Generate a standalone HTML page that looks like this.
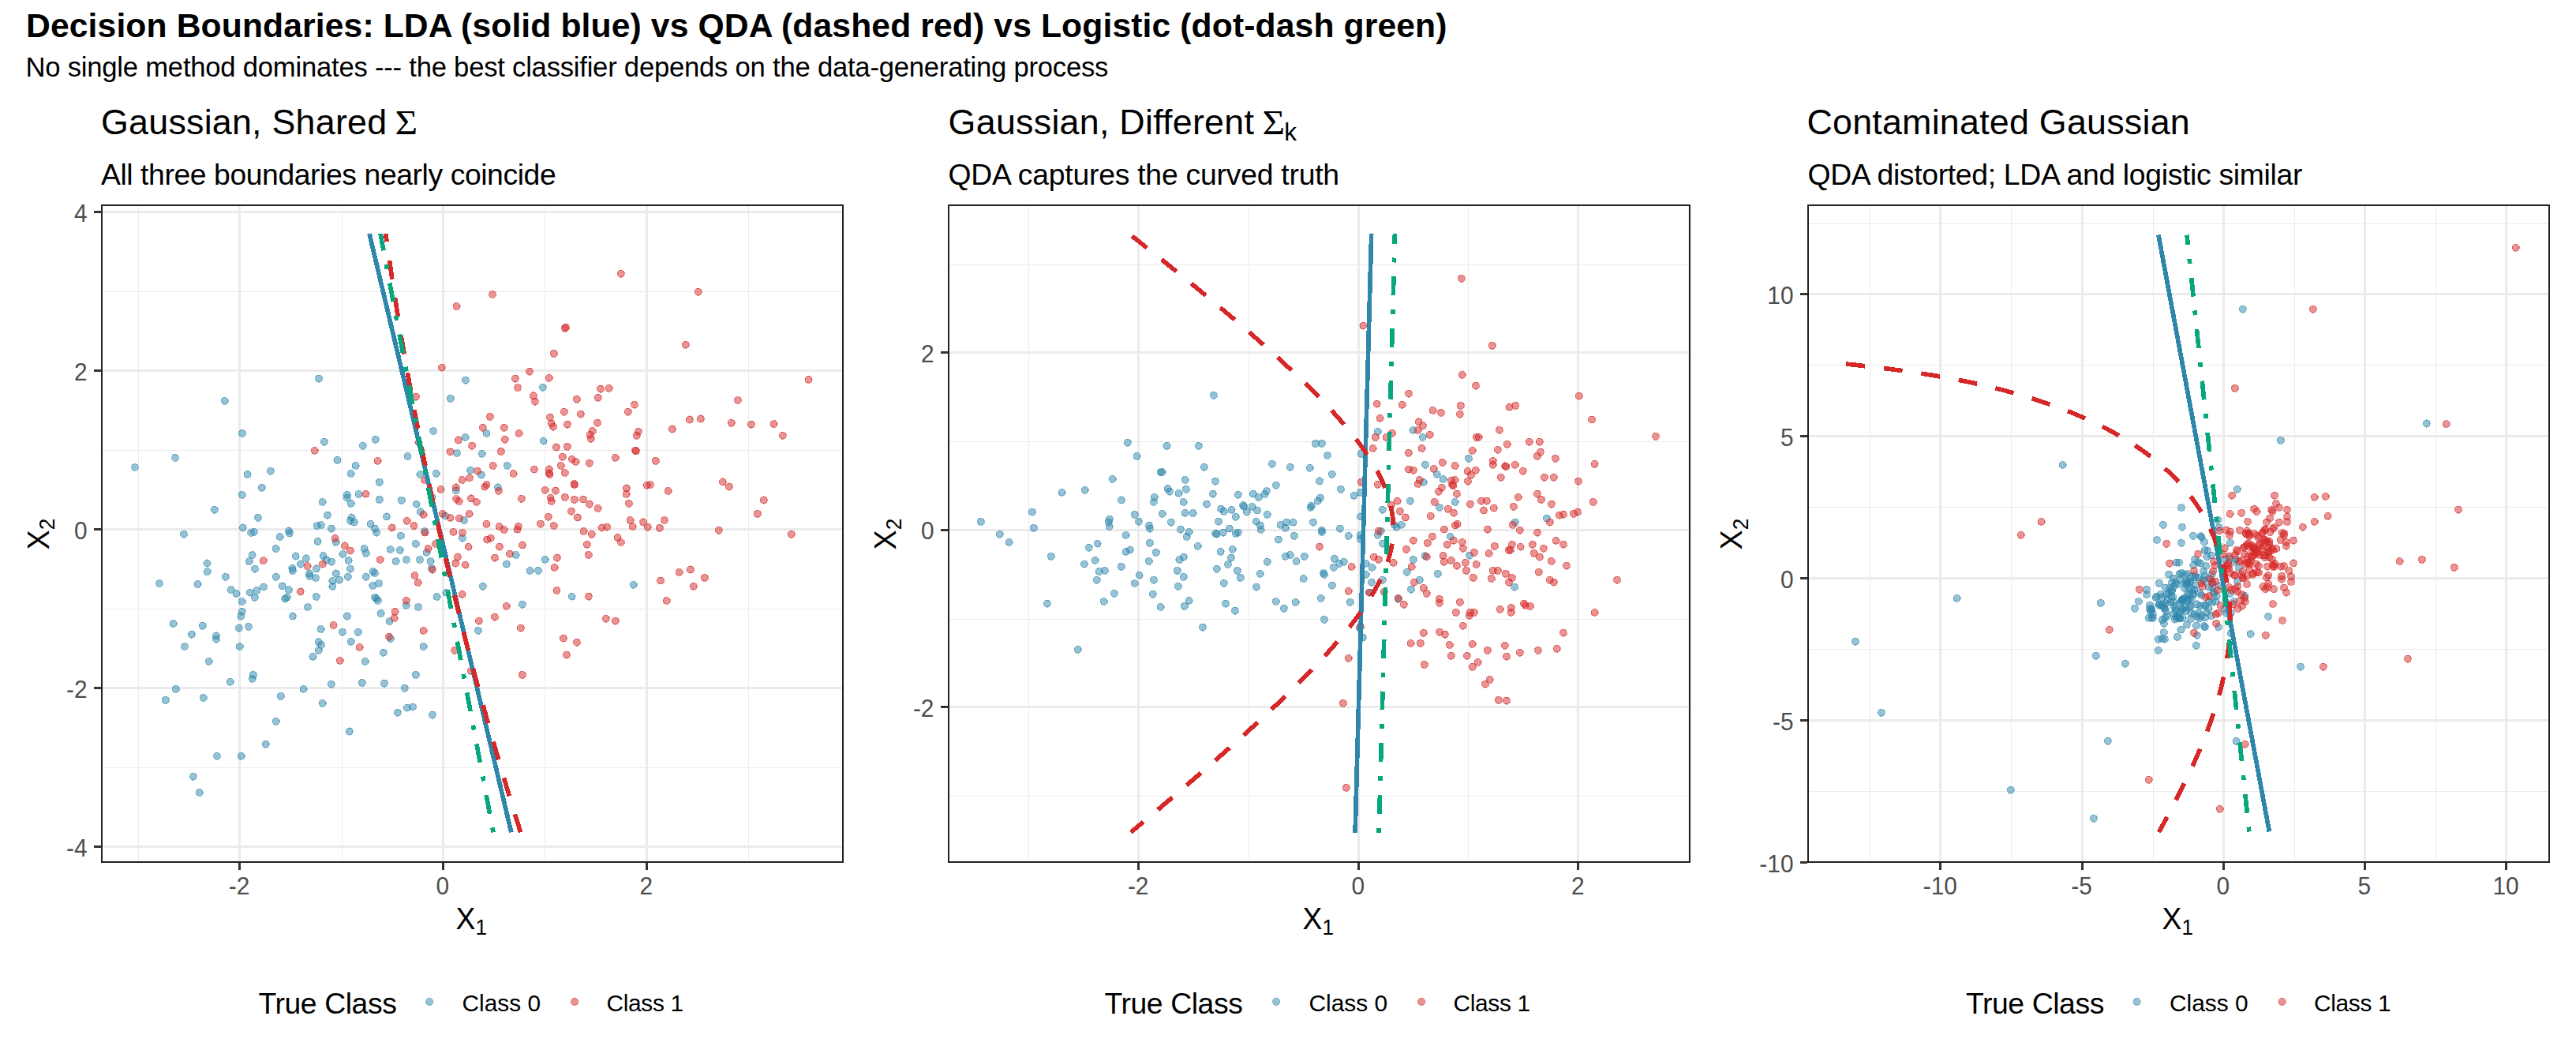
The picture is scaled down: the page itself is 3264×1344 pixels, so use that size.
<!DOCTYPE html><html><head><meta charset="utf-8"><title>Decision Boundaries</title><style>html,body{margin:0;padding:0;background:#fff}svg{display:block}text{font-family:'Liberation Sans', Arial, sans-serif}</style></head><body>
<svg width="3264" height="1344" viewBox="0 0 3264 1344">
<rect width="3264" height="1344" fill="#fff"/>
<text id="title" x="33" y="46.6" font-size="42.67" font-weight="bold" fill="#000" textLength="1800.5" lengthAdjust="spacing">Decision Boundaries: LDA (solid blue) vs QDA (dashed red) vs Logistic (dot-dash green)</text>
<text id="subtitle" x="32.5" y="96.9" font-size="34.67" fill="#000" textLength="1371.9" lengthAdjust="spacing">No single method dominates --- the best classifier depends on the data-generating process</text>
<text id="pt0" x="128" y="169.8" font-size="44.8" fill="#000" textLength="362.1" lengthAdjust="spacing">Gaussian, Shared</text>
<text id="sig0" transform="translate(500.5 169.8) scale(1.1 1)" font-size="44.8" style="font-family:'Liberation Serif','Times New Roman',serif">Σ</text>
<text id="ps0" x="127.9" y="234" font-size="37.33" fill="#000" textLength="576.8" lengthAdjust="spacing">All three boundaries nearly coincide</text>
<clipPath id="cp0"><rect x="128" y="259" width="941" height="834"/></clipPath>
<g clip-path="url(#cp0)">
<g fill="#EBEBEB" shape-rendering="crispEdges">
<rect x="175" y="259" width="1" height="834"/>
<rect x="433" y="259" width="1" height="834"/>
<rect x="690" y="259" width="1" height="834"/>
<rect x="948" y="259" width="1" height="834"/>
<rect x="128" y="972" width="941" height="1"/>
<rect x="128" y="771" width="941" height="1"/>
<rect x="128" y="570" width="941" height="1"/>
<rect x="128" y="369" width="941" height="1"/>
<rect x="302" y="259" width="3" height="834"/>
<rect x="560" y="259" width="3" height="834"/>
<rect x="818" y="259" width="3" height="834"/>
<rect x="128" y="1071" width="941" height="3"/>
<rect x="128" y="870" width="941" height="3"/>
<rect x="128" y="669" width="941" height="3"/>
<rect x="128" y="468" width="941" height="3"/>
<rect x="128" y="267" width="941" height="3"/>
</g>
<g stroke-width="1.2" shape-rendering="crispEdges">
<circle cx="284.8" cy="507.9" r="4.45" fill="#2E86AB" fill-opacity=".5" stroke="#2E86AB" stroke-opacity=".55"/>
<circle cx="404" cy="479.6" r="4.45" fill="#2E86AB" fill-opacity=".5" stroke="#2E86AB" stroke-opacity=".55"/>
<circle cx="589.9" cy="481.7" r="4.45" fill="#2E86AB" fill-opacity=".5" stroke="#2E86AB" stroke-opacity=".55"/>
<circle cx="570.8" cy="504.8" r="4.45" fill="#2E86AB" fill-opacity=".5" stroke="#2E86AB" stroke-opacity=".55"/>
<circle cx="687.8" cy="490.7" r="4.45" fill="#2E86AB" fill-opacity=".5" stroke="#2E86AB" stroke-opacity=".55"/>
<circle cx="306.8" cy="548.8" r="4.45" fill="#2E86AB" fill-opacity=".5" stroke="#2E86AB" stroke-opacity=".55"/>
<circle cx="170.9" cy="592" r="4.45" fill="#2E86AB" fill-opacity=".5" stroke="#2E86AB" stroke-opacity=".55"/>
<circle cx="222" cy="579.8" r="4.45" fill="#2E86AB" fill-opacity=".5" stroke="#2E86AB" stroke-opacity=".55"/>
<circle cx="313.6" cy="600.7" r="4.45" fill="#2E86AB" fill-opacity=".5" stroke="#2E86AB" stroke-opacity=".55"/>
<circle cx="342.8" cy="596.7" r="4.45" fill="#2E86AB" fill-opacity=".5" stroke="#2E86AB" stroke-opacity=".55"/>
<circle cx="331.7" cy="617.7" r="4.45" fill="#2E86AB" fill-opacity=".5" stroke="#2E86AB" stroke-opacity=".55"/>
<circle cx="306.8" cy="626.9" r="4.45" fill="#2E86AB" fill-opacity=".5" stroke="#2E86AB" stroke-opacity=".55"/>
<circle cx="271.8" cy="645.7" r="4.45" fill="#2E86AB" fill-opacity=".5" stroke="#2E86AB" stroke-opacity=".55"/>
<circle cx="326.9" cy="655.8" r="4.45" fill="#2E86AB" fill-opacity=".5" stroke="#2E86AB" stroke-opacity=".55"/>
<circle cx="307.6" cy="668.5" r="4.45" fill="#2E86AB" fill-opacity=".5" stroke="#2E86AB" stroke-opacity=".55"/>
<circle cx="318.1" cy="674.9" r="4.45" fill="#2E86AB" fill-opacity=".5" stroke="#2E86AB" stroke-opacity=".55"/>
<circle cx="321.9" cy="673.8" r="4.45" fill="#2E86AB" fill-opacity=".5" stroke="#2E86AB" stroke-opacity=".55"/>
<circle cx="232.9" cy="676.7" r="4.45" fill="#2E86AB" fill-opacity=".5" stroke="#2E86AB" stroke-opacity=".55"/>
<circle cx="365.8" cy="672.5" r="4.45" fill="#2E86AB" fill-opacity=".5" stroke="#2E86AB" stroke-opacity=".55"/>
<circle cx="366.9" cy="675.4" r="4.45" fill="#2E86AB" fill-opacity=".5" stroke="#2E86AB" stroke-opacity=".55"/>
<circle cx="354.7" cy="679.9" r="4.45" fill="#2E86AB" fill-opacity=".5" stroke="#2E86AB" stroke-opacity=".55"/>
<circle cx="349.7" cy="695" r="4.45" fill="#2E86AB" fill-opacity=".5" stroke="#2E86AB" stroke-opacity=".55"/>
<circle cx="319.7" cy="703.2" r="4.45" fill="#2E86AB" fill-opacity=".5" stroke="#2E86AB" stroke-opacity=".55"/>
<circle cx="315.8" cy="711.1" r="4.45" fill="#2E86AB" fill-opacity=".5" stroke="#2E86AB" stroke-opacity=".55"/>
<circle cx="322.9" cy="720.7" r="4.45" fill="#2E86AB" fill-opacity=".5" stroke="#2E86AB" stroke-opacity=".55"/>
<circle cx="262.5" cy="713.5" r="4.45" fill="#2E86AB" fill-opacity=".5" stroke="#2E86AB" stroke-opacity=".55"/>
<circle cx="262.8" cy="724.1" r="4.45" fill="#2E86AB" fill-opacity=".5" stroke="#2E86AB" stroke-opacity=".55"/>
<circle cx="285.8" cy="730.7" r="4.45" fill="#2E86AB" fill-opacity=".5" stroke="#2E86AB" stroke-opacity=".55"/>
<circle cx="201.9" cy="739" r="4.45" fill="#2E86AB" fill-opacity=".5" stroke="#2E86AB" stroke-opacity=".55"/>
<circle cx="250.6" cy="740" r="4.45" fill="#2E86AB" fill-opacity=".5" stroke="#2E86AB" stroke-opacity=".55"/>
<circle cx="292.7" cy="747.2" r="4.45" fill="#2E86AB" fill-opacity=".5" stroke="#2E86AB" stroke-opacity=".55"/>
<circle cx="299.6" cy="751.7" r="4.45" fill="#2E86AB" fill-opacity=".5" stroke="#2E86AB" stroke-opacity=".55"/>
<circle cx="316.6" cy="750.6" r="4.45" fill="#2E86AB" fill-opacity=".5" stroke="#2E86AB" stroke-opacity=".55"/>
<circle cx="325.3" cy="748" r="4.45" fill="#2E86AB" fill-opacity=".5" stroke="#2E86AB" stroke-opacity=".55"/>
<circle cx="334" cy="743.5" r="4.45" fill="#2E86AB" fill-opacity=".5" stroke="#2E86AB" stroke-opacity=".55"/>
<circle cx="322.7" cy="756.7" r="4.45" fill="#2E86AB" fill-opacity=".5" stroke="#2E86AB" stroke-opacity=".55"/>
<circle cx="306.8" cy="762" r="4.45" fill="#2E86AB" fill-opacity=".5" stroke="#2E86AB" stroke-opacity=".55"/>
<circle cx="306.8" cy="774.7" r="4.45" fill="#2E86AB" fill-opacity=".5" stroke="#2E86AB" stroke-opacity=".55"/>
<circle cx="305.4" cy="780.5" r="4.45" fill="#2E86AB" fill-opacity=".5" stroke="#2E86AB" stroke-opacity=".55"/>
<circle cx="302.8" cy="795.6" r="4.45" fill="#2E86AB" fill-opacity=".5" stroke="#2E86AB" stroke-opacity=".55"/>
<circle cx="315" cy="793.8" r="4.45" fill="#2E86AB" fill-opacity=".5" stroke="#2E86AB" stroke-opacity=".55"/>
<circle cx="219.6" cy="789.8" r="4.45" fill="#2E86AB" fill-opacity=".5" stroke="#2E86AB" stroke-opacity=".55"/>
<circle cx="256.7" cy="792.7" r="4.45" fill="#2E86AB" fill-opacity=".5" stroke="#2E86AB" stroke-opacity=".55"/>
<circle cx="242.7" cy="803.6" r="4.45" fill="#2E86AB" fill-opacity=".5" stroke="#2E86AB" stroke-opacity=".55"/>
<circle cx="273.9" cy="805.4" r="4.45" fill="#2E86AB" fill-opacity=".5" stroke="#2E86AB" stroke-opacity=".55"/>
<circle cx="410.8" cy="559.7" r="4.45" fill="#2E86AB" fill-opacity=".5" stroke="#2E86AB" stroke-opacity=".55"/>
<circle cx="427.5" cy="582.7" r="4.45" fill="#2E86AB" fill-opacity=".5" stroke="#2E86AB" stroke-opacity=".55"/>
<circle cx="450.6" cy="589.9" r="4.45" fill="#2E86AB" fill-opacity=".5" stroke="#2E86AB" stroke-opacity=".55"/>
<circle cx="444.7" cy="599.9" r="4.45" fill="#2E86AB" fill-opacity=".5" stroke="#2E86AB" stroke-opacity=".55"/>
<circle cx="459.8" cy="564.7" r="4.45" fill="#2E86AB" fill-opacity=".5" stroke="#2E86AB" stroke-opacity=".55"/>
<circle cx="475.7" cy="556.7" r="4.45" fill="#2E86AB" fill-opacity=".5" stroke="#2E86AB" stroke-opacity=".55"/>
<circle cx="480.8" cy="610.8" r="4.45" fill="#2E86AB" fill-opacity=".5" stroke="#2E86AB" stroke-opacity=".55"/>
<circle cx="439.7" cy="626.7" r="4.45" fill="#2E86AB" fill-opacity=".5" stroke="#2E86AB" stroke-opacity=".55"/>
<circle cx="439.7" cy="630.6" r="4.45" fill="#2E86AB" fill-opacity=".5" stroke="#2E86AB" stroke-opacity=".55"/>
<circle cx="454.5" cy="625.9" r="4.45" fill="#2E86AB" fill-opacity=".5" stroke="#2E86AB" stroke-opacity=".55"/>
<circle cx="444.7" cy="637.8" r="4.45" fill="#2E86AB" fill-opacity=".5" stroke="#2E86AB" stroke-opacity=".55"/>
<circle cx="408.7" cy="635.9" r="4.45" fill="#2E86AB" fill-opacity=".5" stroke="#2E86AB" stroke-opacity=".55"/>
<circle cx="480.8" cy="632.8" r="4.45" fill="#2E86AB" fill-opacity=".5" stroke="#2E86AB" stroke-opacity=".55"/>
<circle cx="508.8" cy="633.8" r="4.45" fill="#2E86AB" fill-opacity=".5" stroke="#2E86AB" stroke-opacity=".55"/>
<circle cx="414.8" cy="652.6" r="4.45" fill="#2E86AB" fill-opacity=".5" stroke="#2E86AB" stroke-opacity=".55"/>
<circle cx="445.5" cy="655.5" r="4.45" fill="#2E86AB" fill-opacity=".5" stroke="#2E86AB" stroke-opacity=".55"/>
<circle cx="443.9" cy="659.8" r="4.45" fill="#2E86AB" fill-opacity=".5" stroke="#2E86AB" stroke-opacity=".55"/>
<circle cx="448.7" cy="661.6" r="4.45" fill="#2E86AB" fill-opacity=".5" stroke="#2E86AB" stroke-opacity=".55"/>
<circle cx="401.6" cy="666.1" r="4.45" fill="#2E86AB" fill-opacity=".5" stroke="#2E86AB" stroke-opacity=".55"/>
<circle cx="406.9" cy="665.1" r="4.45" fill="#2E86AB" fill-opacity=".5" stroke="#2E86AB" stroke-opacity=".55"/>
<circle cx="419.8" cy="669.6" r="4.45" fill="#2E86AB" fill-opacity=".5" stroke="#2E86AB" stroke-opacity=".55"/>
<circle cx="469.6" cy="663.7" r="4.45" fill="#2E86AB" fill-opacity=".5" stroke="#2E86AB" stroke-opacity=".55"/>
<circle cx="474.9" cy="669.6" r="4.45" fill="#2E86AB" fill-opacity=".5" stroke="#2E86AB" stroke-opacity=".55"/>
<circle cx="477" cy="674.6" r="4.45" fill="#2E86AB" fill-opacity=".5" stroke="#2E86AB" stroke-opacity=".55"/>
<circle cx="489.8" cy="654.5" r="4.45" fill="#2E86AB" fill-opacity=".5" stroke="#2E86AB" stroke-opacity=".55"/>
<circle cx="402.6" cy="685.7" r="4.45" fill="#2E86AB" fill-opacity=".5" stroke="#2E86AB" stroke-opacity=".55"/>
<circle cx="425.7" cy="686.8" r="4.45" fill="#2E86AB" fill-opacity=".5" stroke="#2E86AB" stroke-opacity=".55"/>
<circle cx="461.7" cy="695" r="4.45" fill="#2E86AB" fill-opacity=".5" stroke="#2E86AB" stroke-opacity=".55"/>
<circle cx="463.8" cy="700.8" r="4.45" fill="#2E86AB" fill-opacity=".5" stroke="#2E86AB" stroke-opacity=".55"/>
<circle cx="434.4" cy="701.9" r="4.45" fill="#2E86AB" fill-opacity=".5" stroke="#2E86AB" stroke-opacity=".55"/>
<circle cx="441.6" cy="710.1" r="4.45" fill="#2E86AB" fill-opacity=".5" stroke="#2E86AB" stroke-opacity=".55"/>
<circle cx="409.5" cy="704" r="4.45" fill="#2E86AB" fill-opacity=".5" stroke="#2E86AB" stroke-opacity=".55"/>
<circle cx="413.5" cy="709.3" r="4.45" fill="#2E86AB" fill-opacity=".5" stroke="#2E86AB" stroke-opacity=".55"/>
<circle cx="420.1" cy="711.7" r="4.45" fill="#2E86AB" fill-opacity=".5" stroke="#2E86AB" stroke-opacity=".55"/>
<circle cx="374.6" cy="704.5" r="4.45" fill="#2E86AB" fill-opacity=".5" stroke="#2E86AB" stroke-opacity=".55"/>
<circle cx="387.8" cy="707.4" r="4.45" fill="#2E86AB" fill-opacity=".5" stroke="#2E86AB" stroke-opacity=".55"/>
<circle cx="380.9" cy="714.6" r="4.45" fill="#2E86AB" fill-opacity=".5" stroke="#2E86AB" stroke-opacity=".55"/>
<circle cx="370.3" cy="719.9" r="4.45" fill="#2E86AB" fill-opacity=".5" stroke="#2E86AB" stroke-opacity=".55"/>
<circle cx="370.8" cy="722.8" r="4.45" fill="#2E86AB" fill-opacity=".5" stroke="#2E86AB" stroke-opacity=".55"/>
<circle cx="400.8" cy="720.4" r="4.45" fill="#2E86AB" fill-opacity=".5" stroke="#2E86AB" stroke-opacity=".55"/>
<circle cx="443.9" cy="720.7" r="4.45" fill="#2E86AB" fill-opacity=".5" stroke="#2E86AB" stroke-opacity=".55"/>
<circle cx="425.7" cy="726.5" r="4.45" fill="#2E86AB" fill-opacity=".5" stroke="#2E86AB" stroke-opacity=".55"/>
<circle cx="392.3" cy="726.5" r="4.45" fill="#2E86AB" fill-opacity=".5" stroke="#2E86AB" stroke-opacity=".55"/>
<circle cx="392.3" cy="729.9" r="4.45" fill="#2E86AB" fill-opacity=".5" stroke="#2E86AB" stroke-opacity=".55"/>
<circle cx="400" cy="732.1" r="4.45" fill="#2E86AB" fill-opacity=".5" stroke="#2E86AB" stroke-opacity=".55"/>
<circle cx="421.4" cy="735.8" r="4.45" fill="#2E86AB" fill-opacity=".5" stroke="#2E86AB" stroke-opacity=".55"/>
<circle cx="430.2" cy="734.7" r="4.45" fill="#2E86AB" fill-opacity=".5" stroke="#2E86AB" stroke-opacity=".55"/>
<circle cx="440.8" cy="730.7" r="4.45" fill="#2E86AB" fill-opacity=".5" stroke="#2E86AB" stroke-opacity=".55"/>
<circle cx="421.4" cy="742.7" r="4.45" fill="#2E86AB" fill-opacity=".5" stroke="#2E86AB" stroke-opacity=".55"/>
<circle cx="349.7" cy="730.7" r="4.45" fill="#2E86AB" fill-opacity=".5" stroke="#2E86AB" stroke-opacity=".55"/>
<circle cx="357.6" cy="742.4" r="4.45" fill="#2E86AB" fill-opacity=".5" stroke="#2E86AB" stroke-opacity=".55"/>
<circle cx="365.8" cy="747.2" r="4.45" fill="#2E86AB" fill-opacity=".5" stroke="#2E86AB" stroke-opacity=".55"/>
<circle cx="363.7" cy="756.7" r="4.45" fill="#2E86AB" fill-opacity=".5" stroke="#2E86AB" stroke-opacity=".55"/>
<circle cx="361.3" cy="758.5" r="4.45" fill="#2E86AB" fill-opacity=".5" stroke="#2E86AB" stroke-opacity=".55"/>
<circle cx="400.8" cy="755.9" r="4.45" fill="#2E86AB" fill-opacity=".5" stroke="#2E86AB" stroke-opacity=".55"/>
<circle cx="389.9" cy="768.9" r="4.45" fill="#2E86AB" fill-opacity=".5" stroke="#2E86AB" stroke-opacity=".55"/>
<circle cx="370.8" cy="780.5" r="4.45" fill="#2E86AB" fill-opacity=".5" stroke="#2E86AB" stroke-opacity=".55"/>
<circle cx="406.6" cy="796.9" r="4.45" fill="#2E86AB" fill-opacity=".5" stroke="#2E86AB" stroke-opacity=".55"/>
<circle cx="433.9" cy="800.7" r="4.45" fill="#2E86AB" fill-opacity=".5" stroke="#2E86AB" stroke-opacity=".55"/>
<circle cx="439.7" cy="780.5" r="4.45" fill="#2E86AB" fill-opacity=".5" stroke="#2E86AB" stroke-opacity=".55"/>
<circle cx="453.7" cy="800.7" r="4.45" fill="#2E86AB" fill-opacity=".5" stroke="#2E86AB" stroke-opacity=".55"/>
<circle cx="463.8" cy="730.7" r="4.45" fill="#2E86AB" fill-opacity=".5" stroke="#2E86AB" stroke-opacity=".55"/>
<circle cx="472.5" cy="724.1" r="4.45" fill="#2E86AB" fill-opacity=".5" stroke="#2E86AB" stroke-opacity=".55"/>
<circle cx="474.9" cy="726" r="4.45" fill="#2E86AB" fill-opacity=".5" stroke="#2E86AB" stroke-opacity=".55"/>
<circle cx="472.3" cy="741.9" r="4.45" fill="#2E86AB" fill-opacity=".5" stroke="#2E86AB" stroke-opacity=".55"/>
<circle cx="480" cy="739" r="4.45" fill="#2E86AB" fill-opacity=".5" stroke="#2E86AB" stroke-opacity=".55"/>
<circle cx="474.9" cy="756.7" r="4.45" fill="#2E86AB" fill-opacity=".5" stroke="#2E86AB" stroke-opacity=".55"/>
<circle cx="477" cy="758.3" r="4.45" fill="#2E86AB" fill-opacity=".5" stroke="#2E86AB" stroke-opacity=".55"/>
<circle cx="478.9" cy="760.9" r="4.45" fill="#2E86AB" fill-opacity=".5" stroke="#2E86AB" stroke-opacity=".55"/>
<circle cx="482.6" cy="777.1" r="4.45" fill="#2E86AB" fill-opacity=".5" stroke="#2E86AB" stroke-opacity=".55"/>
<circle cx="493.5" cy="786.9" r="4.45" fill="#2E86AB" fill-opacity=".5" stroke="#2E86AB" stroke-opacity=".55"/>
<circle cx="494.8" cy="696" r="4.45" fill="#2E86AB" fill-opacity=".5" stroke="#2E86AB" stroke-opacity=".55"/>
<circle cx="506.7" cy="696.8" r="4.45" fill="#2E86AB" fill-opacity=".5" stroke="#2E86AB" stroke-opacity=".55"/>
<circle cx="507.8" cy="678.8" r="4.45" fill="#2E86AB" fill-opacity=".5" stroke="#2E86AB" stroke-opacity=".55"/>
<circle cx="501.7" cy="711.1" r="4.45" fill="#2E86AB" fill-opacity=".5" stroke="#2E86AB" stroke-opacity=".55"/>
<circle cx="514.9" cy="709" r="4.45" fill="#2E86AB" fill-opacity=".5" stroke="#2E86AB" stroke-opacity=".55"/>
<circle cx="526.8" cy="688.9" r="4.45" fill="#2E86AB" fill-opacity=".5" stroke="#2E86AB" stroke-opacity=".55"/>
<circle cx="531.9" cy="709" r="4.45" fill="#2E86AB" fill-opacity=".5" stroke="#2E86AB" stroke-opacity=".55"/>
<circle cx="540.6" cy="699.8" r="4.45" fill="#2E86AB" fill-opacity=".5" stroke="#2E86AB" stroke-opacity=".55"/>
<circle cx="545.6" cy="711.1" r="4.45" fill="#2E86AB" fill-opacity=".5" stroke="#2E86AB" stroke-opacity=".55"/>
<circle cx="547" cy="719.9" r="4.45" fill="#2E86AB" fill-opacity=".5" stroke="#2E86AB" stroke-opacity=".55"/>
<circle cx="538" cy="673" r="4.45" fill="#2E86AB" fill-opacity=".5" stroke="#2E86AB" stroke-opacity=".55"/>
<circle cx="532.7" cy="648.4" r="4.45" fill="#2E86AB" fill-opacity=".5" stroke="#2E86AB" stroke-opacity=".55"/>
<circle cx="527.6" cy="638.6" r="4.45" fill="#2E86AB" fill-opacity=".5" stroke="#2E86AB" stroke-opacity=".55"/>
<circle cx="532.4" cy="601" r="4.45" fill="#2E86AB" fill-opacity=".5" stroke="#2E86AB" stroke-opacity=".55"/>
<circle cx="516.5" cy="577.9" r="4.45" fill="#2E86AB" fill-opacity=".5" stroke="#2E86AB" stroke-opacity=".55"/>
<circle cx="549.1" cy="545.9" r="4.45" fill="#2E86AB" fill-opacity=".5" stroke="#2E86AB" stroke-opacity=".55"/>
<circle cx="552.8" cy="599.9" r="4.45" fill="#2E86AB" fill-opacity=".5" stroke="#2E86AB" stroke-opacity=".55"/>
<circle cx="589.6" cy="553.8" r="4.45" fill="#2E86AB" fill-opacity=".5" stroke="#2E86AB" stroke-opacity=".55"/>
<circle cx="579" cy="574" r="4.45" fill="#2E86AB" fill-opacity=".5" stroke="#2E86AB" stroke-opacity=".55"/>
<circle cx="596.2" cy="595.7" r="4.45" fill="#2E86AB" fill-opacity=".5" stroke="#2E86AB" stroke-opacity=".55"/>
<circle cx="577.7" cy="621.4" r="4.45" fill="#2E86AB" fill-opacity=".5" stroke="#2E86AB" stroke-opacity=".55"/>
<circle cx="547.5" cy="629.6" r="4.45" fill="#2E86AB" fill-opacity=".5" stroke="#2E86AB" stroke-opacity=".55"/>
<circle cx="564.4" cy="653.4" r="4.45" fill="#2E86AB" fill-opacity=".5" stroke="#2E86AB" stroke-opacity=".55"/>
<circle cx="588" cy="659" r="4.45" fill="#2E86AB" fill-opacity=".5" stroke="#2E86AB" stroke-opacity=".55"/>
<circle cx="585.9" cy="681.7" r="4.45" fill="#2E86AB" fill-opacity=".5" stroke="#2E86AB" stroke-opacity=".55"/>
<circle cx="514.7" cy="766.8" r="4.45" fill="#2E86AB" fill-opacity=".5" stroke="#2E86AB" stroke-opacity=".55"/>
<circle cx="530" cy="768.9" r="4.45" fill="#2E86AB" fill-opacity=".5" stroke="#2E86AB" stroke-opacity=".55"/>
<circle cx="553.6" cy="755.9" r="4.45" fill="#2E86AB" fill-opacity=".5" stroke="#2E86AB" stroke-opacity=".55"/>
<circle cx="565.5" cy="750.6" r="4.45" fill="#2E86AB" fill-opacity=".5" stroke="#2E86AB" stroke-opacity=".55"/>
<circle cx="616.5" cy="548.8" r="4.45" fill="#2E86AB" fill-opacity=".5" stroke="#2E86AB" stroke-opacity=".55"/>
<circle cx="688.6" cy="558.6" r="4.45" fill="#2E86AB" fill-opacity=".5" stroke="#2E86AB" stroke-opacity=".55"/>
<circle cx="610.7" cy="574.8" r="4.45" fill="#2E86AB" fill-opacity=".5" stroke="#2E86AB" stroke-opacity=".55"/>
<circle cx="642.8" cy="589.9" r="4.45" fill="#2E86AB" fill-opacity=".5" stroke="#2E86AB" stroke-opacity=".55"/>
<circle cx="609.7" cy="601.5" r="4.45" fill="#2E86AB" fill-opacity=".5" stroke="#2E86AB" stroke-opacity=".55"/>
<circle cx="630.8" cy="617.4" r="4.45" fill="#2E86AB" fill-opacity=".5" stroke="#2E86AB" stroke-opacity=".55"/>
<circle cx="653.6" cy="702.9" r="4.45" fill="#2E86AB" fill-opacity=".5" stroke="#2E86AB" stroke-opacity=".55"/>
<circle cx="641.7" cy="714.6" r="4.45" fill="#2E86AB" fill-opacity=".5" stroke="#2E86AB" stroke-opacity=".55"/>
<circle cx="690.7" cy="708.8" r="4.45" fill="#2E86AB" fill-opacity=".5" stroke="#2E86AB" stroke-opacity=".55"/>
<circle cx="671.6" cy="722.8" r="4.45" fill="#2E86AB" fill-opacity=".5" stroke="#2E86AB" stroke-opacity=".55"/>
<circle cx="682" cy="722.8" r="4.45" fill="#2E86AB" fill-opacity=".5" stroke="#2E86AB" stroke-opacity=".55"/>
<circle cx="611.8" cy="742.7" r="4.45" fill="#2E86AB" fill-opacity=".5" stroke="#2E86AB" stroke-opacity=".55"/>
<circle cx="724.6" cy="755.6" r="4.45" fill="#2E86AB" fill-opacity=".5" stroke="#2E86AB" stroke-opacity=".55"/>
<circle cx="802.7" cy="740.8" r="4.45" fill="#2E86AB" fill-opacity=".5" stroke="#2E86AB" stroke-opacity=".55"/>
<circle cx="661.8" cy="765.7" r="4.45" fill="#2E86AB" fill-opacity=".5" stroke="#2E86AB" stroke-opacity=".55"/>
<circle cx="605.9" cy="798.8" r="4.45" fill="#2E86AB" fill-opacity=".5" stroke="#2E86AB" stroke-opacity=".55"/>
<circle cx="273.9" cy="809.7" r="4.45" fill="#2E86AB" fill-opacity=".5" stroke="#2E86AB" stroke-opacity=".55"/>
<circle cx="233.9" cy="819" r="4.45" fill="#2E86AB" fill-opacity=".5" stroke="#2E86AB" stroke-opacity=".55"/>
<circle cx="303.8" cy="819" r="4.45" fill="#2E86AB" fill-opacity=".5" stroke="#2E86AB" stroke-opacity=".55"/>
<circle cx="264.7" cy="837.8" r="4.45" fill="#2E86AB" fill-opacity=".5" stroke="#2E86AB" stroke-opacity=".55"/>
<circle cx="291.7" cy="863.8" r="4.45" fill="#2E86AB" fill-opacity=".5" stroke="#2E86AB" stroke-opacity=".55"/>
<circle cx="320.8" cy="854.8" r="4.45" fill="#2E86AB" fill-opacity=".5" stroke="#2E86AB" stroke-opacity=".55"/>
<circle cx="319.7" cy="859.8" r="4.45" fill="#2E86AB" fill-opacity=".5" stroke="#2E86AB" stroke-opacity=".55"/>
<circle cx="222.8" cy="872.8" r="4.45" fill="#2E86AB" fill-opacity=".5" stroke="#2E86AB" stroke-opacity=".55"/>
<circle cx="209.8" cy="886.8" r="4.45" fill="#2E86AB" fill-opacity=".5" stroke="#2E86AB" stroke-opacity=".55"/>
<circle cx="257.8" cy="883.9" r="4.45" fill="#2E86AB" fill-opacity=".5" stroke="#2E86AB" stroke-opacity=".55"/>
<circle cx="355.8" cy="881.8" r="4.45" fill="#2E86AB" fill-opacity=".5" stroke="#2E86AB" stroke-opacity=".55"/>
<circle cx="384.6" cy="872.8" r="4.45" fill="#2E86AB" fill-opacity=".5" stroke="#2E86AB" stroke-opacity=".55"/>
<circle cx="419.8" cy="866.7" r="4.45" fill="#2E86AB" fill-opacity=".5" stroke="#2E86AB" stroke-opacity=".55"/>
<circle cx="408.7" cy="890.8" r="4.45" fill="#2E86AB" fill-opacity=".5" stroke="#2E86AB" stroke-opacity=".55"/>
<circle cx="349.7" cy="913.8" r="4.45" fill="#2E86AB" fill-opacity=".5" stroke="#2E86AB" stroke-opacity=".55"/>
<circle cx="336.7" cy="942.7" r="4.45" fill="#2E86AB" fill-opacity=".5" stroke="#2E86AB" stroke-opacity=".55"/>
<circle cx="275" cy="957.8" r="4.45" fill="#2E86AB" fill-opacity=".5" stroke="#2E86AB" stroke-opacity=".55"/>
<circle cx="305.7" cy="957.8" r="4.45" fill="#2E86AB" fill-opacity=".5" stroke="#2E86AB" stroke-opacity=".55"/>
<circle cx="244.8" cy="983.7" r="4.45" fill="#2E86AB" fill-opacity=".5" stroke="#2E86AB" stroke-opacity=".55"/>
<circle cx="252.7" cy="1003.9" r="4.45" fill="#2E86AB" fill-opacity=".5" stroke="#2E86AB" stroke-opacity=".55"/>
<circle cx="442.6" cy="926.5" r="4.45" fill="#2E86AB" fill-opacity=".5" stroke="#2E86AB" stroke-opacity=".55"/>
<circle cx="403.7" cy="813.2" r="4.45" fill="#2E86AB" fill-opacity=".5" stroke="#2E86AB" stroke-opacity=".55"/>
<circle cx="406.9" cy="816.9" r="4.45" fill="#2E86AB" fill-opacity=".5" stroke="#2E86AB" stroke-opacity=".55"/>
<circle cx="403.7" cy="823.8" r="4.45" fill="#2E86AB" fill-opacity=".5" stroke="#2E86AB" stroke-opacity=".55"/>
<circle cx="396.5" cy="831.7" r="4.45" fill="#2E86AB" fill-opacity=".5" stroke="#2E86AB" stroke-opacity=".55"/>
<circle cx="444.7" cy="812.7" r="4.45" fill="#2E86AB" fill-opacity=".5" stroke="#2E86AB" stroke-opacity=".55"/>
<circle cx="462.7" cy="837.8" r="4.45" fill="#2E86AB" fill-opacity=".5" stroke="#2E86AB" stroke-opacity=".55"/>
<circle cx="485.8" cy="826.7" r="4.45" fill="#2E86AB" fill-opacity=".5" stroke="#2E86AB" stroke-opacity=".55"/>
<circle cx="494.8" cy="808.9" r="4.45" fill="#2E86AB" fill-opacity=".5" stroke="#2E86AB" stroke-opacity=".55"/>
<circle cx="536.6" cy="819" r="4.45" fill="#2E86AB" fill-opacity=".5" stroke="#2E86AB" stroke-opacity=".55"/>
<circle cx="526.8" cy="854.8" r="4.45" fill="#2E86AB" fill-opacity=".5" stroke="#2E86AB" stroke-opacity=".55"/>
<circle cx="458.8" cy="864.8" r="4.45" fill="#2E86AB" fill-opacity=".5" stroke="#2E86AB" stroke-opacity=".55"/>
<circle cx="486.8" cy="865.6" r="4.45" fill="#2E86AB" fill-opacity=".5" stroke="#2E86AB" stroke-opacity=".55"/>
<circle cx="512.8" cy="871.7" r="4.45" fill="#2E86AB" fill-opacity=".5" stroke="#2E86AB" stroke-opacity=".55"/>
<circle cx="503.8" cy="902.7" r="4.45" fill="#2E86AB" fill-opacity=".5" stroke="#2E86AB" stroke-opacity=".55"/>
<circle cx="515.7" cy="896.6" r="4.45" fill="#2E86AB" fill-opacity=".5" stroke="#2E86AB" stroke-opacity=".55"/>
<circle cx="522.9" cy="895.5" r="4.45" fill="#2E86AB" fill-opacity=".5" stroke="#2E86AB" stroke-opacity=".55"/>
<circle cx="547.8" cy="905.6" r="4.45" fill="#2E86AB" fill-opacity=".5" stroke="#2E86AB" stroke-opacity=".55"/>
<circle cx="578.7" cy="388" r="4.45" fill="#D62828" fill-opacity=".5" stroke="#D62828" stroke-opacity=".55"/>
<circle cx="559.7" cy="465.6" r="4.45" fill="#D62828" fill-opacity=".5" stroke="#D62828" stroke-opacity=".55"/>
<circle cx="527.1" cy="502.6" r="4.45" fill="#D62828" fill-opacity=".5" stroke="#D62828" stroke-opacity=".55"/>
<circle cx="786.8" cy="346.7" r="4.45" fill="#D62828" fill-opacity=".5" stroke="#D62828" stroke-opacity=".55"/>
<circle cx="624" cy="372.9" r="4.45" fill="#D62828" fill-opacity=".5" stroke="#D62828" stroke-opacity=".55"/>
<circle cx="884.8" cy="369.7" r="4.45" fill="#D62828" fill-opacity=".5" stroke="#D62828" stroke-opacity=".55"/>
<circle cx="715.8" cy="415.8" r="4.45" fill="#D62828" fill-opacity=".5" stroke="#D62828" stroke-opacity=".55"/>
<circle cx="716.9" cy="414.7" r="4.45" fill="#D62828" fill-opacity=".5" stroke="#D62828" stroke-opacity=".55"/>
<circle cx="868.7" cy="436.7" r="4.45" fill="#D62828" fill-opacity=".5" stroke="#D62828" stroke-opacity=".55"/>
<circle cx="701.8" cy="447.8" r="4.45" fill="#D62828" fill-opacity=".5" stroke="#D62828" stroke-opacity=".55"/>
<circle cx="670.8" cy="470.6" r="4.45" fill="#D62828" fill-opacity=".5" stroke="#D62828" stroke-opacity=".55"/>
<circle cx="652.8" cy="479.6" r="4.45" fill="#D62828" fill-opacity=".5" stroke="#D62828" stroke-opacity=".55"/>
<circle cx="695.7" cy="478.8" r="4.45" fill="#D62828" fill-opacity=".5" stroke="#D62828" stroke-opacity=".55"/>
<circle cx="656" cy="491" r="4.45" fill="#D62828" fill-opacity=".5" stroke="#D62828" stroke-opacity=".55"/>
<circle cx="675.9" cy="501.3" r="4.45" fill="#D62828" fill-opacity=".5" stroke="#D62828" stroke-opacity=".55"/>
<circle cx="678" cy="508.7" r="4.45" fill="#D62828" fill-opacity=".5" stroke="#D62828" stroke-opacity=".55"/>
<circle cx="760.9" cy="492.6" r="4.45" fill="#D62828" fill-opacity=".5" stroke="#D62828" stroke-opacity=".55"/>
<circle cx="771.7" cy="491.8" r="4.45" fill="#D62828" fill-opacity=".5" stroke="#D62828" stroke-opacity=".55"/>
<circle cx="757.7" cy="503.7" r="4.45" fill="#D62828" fill-opacity=".5" stroke="#D62828" stroke-opacity=".55"/>
<circle cx="730.9" cy="505.8" r="4.45" fill="#D62828" fill-opacity=".5" stroke="#D62828" stroke-opacity=".55"/>
<circle cx="804" cy="512.7" r="4.45" fill="#D62828" fill-opacity=".5" stroke="#D62828" stroke-opacity=".55"/>
<circle cx="795.8" cy="521.7" r="4.45" fill="#D62828" fill-opacity=".5" stroke="#D62828" stroke-opacity=".55"/>
<circle cx="714.8" cy="521.7" r="4.45" fill="#D62828" fill-opacity=".5" stroke="#D62828" stroke-opacity=".55"/>
<circle cx="735.7" cy="524.6" r="4.45" fill="#D62828" fill-opacity=".5" stroke="#D62828" stroke-opacity=".55"/>
<circle cx="696.8" cy="528.6" r="4.45" fill="#D62828" fill-opacity=".5" stroke="#D62828" stroke-opacity=".55"/>
<circle cx="620.8" cy="527.8" r="4.45" fill="#D62828" fill-opacity=".5" stroke="#D62828" stroke-opacity=".55"/>
<circle cx="698.6" cy="536.5" r="4.45" fill="#D62828" fill-opacity=".5" stroke="#D62828" stroke-opacity=".55"/>
<circle cx="718.8" cy="537.6" r="4.45" fill="#D62828" fill-opacity=".5" stroke="#D62828" stroke-opacity=".55"/>
<circle cx="756.9" cy="535.7" r="4.45" fill="#D62828" fill-opacity=".5" stroke="#D62828" stroke-opacity=".55"/>
<circle cx="873.7" cy="531.5" r="4.45" fill="#D62828" fill-opacity=".5" stroke="#D62828" stroke-opacity=".55"/>
<circle cx="887.7" cy="530.5" r="4.45" fill="#D62828" fill-opacity=".5" stroke="#D62828" stroke-opacity=".55"/>
<circle cx="934.9" cy="506.9" r="4.45" fill="#D62828" fill-opacity=".5" stroke="#D62828" stroke-opacity=".55"/>
<circle cx="1024.6" cy="480.7" r="4.45" fill="#D62828" fill-opacity=".5" stroke="#D62828" stroke-opacity=".55"/>
<circle cx="926.7" cy="535.7" r="4.45" fill="#D62828" fill-opacity=".5" stroke="#D62828" stroke-opacity=".55"/>
<circle cx="951.8" cy="537.6" r="4.45" fill="#D62828" fill-opacity=".5" stroke="#D62828" stroke-opacity=".55"/>
<circle cx="980.7" cy="537.1" r="4.45" fill="#D62828" fill-opacity=".5" stroke="#D62828" stroke-opacity=".55"/>
<circle cx="398.7" cy="570.8" r="4.45" fill="#D62828" fill-opacity=".5" stroke="#D62828" stroke-opacity=".55"/>
<circle cx="478.6" cy="583.8" r="4.45" fill="#D62828" fill-opacity=".5" stroke="#D62828" stroke-opacity=".55"/>
<circle cx="463.5" cy="625.6" r="4.45" fill="#D62828" fill-opacity=".5" stroke="#D62828" stroke-opacity=".55"/>
<circle cx="580.6" cy="557.5" r="4.45" fill="#D62828" fill-opacity=".5" stroke="#D62828" stroke-opacity=".55"/>
<circle cx="570.5" cy="572.4" r="4.45" fill="#D62828" fill-opacity=".5" stroke="#D62828" stroke-opacity=".55"/>
<circle cx="598.1" cy="564.7" r="4.45" fill="#D62828" fill-opacity=".5" stroke="#D62828" stroke-opacity=".55"/>
<circle cx="585.6" cy="607.9" r="4.45" fill="#D62828" fill-opacity=".5" stroke="#D62828" stroke-opacity=".55"/>
<circle cx="594.9" cy="605.2" r="4.45" fill="#D62828" fill-opacity=".5" stroke="#D62828" stroke-opacity=".55"/>
<circle cx="577.7" cy="617.4" r="4.45" fill="#D62828" fill-opacity=".5" stroke="#D62828" stroke-opacity=".55"/>
<circle cx="558.6" cy="619.8" r="4.45" fill="#D62828" fill-opacity=".5" stroke="#D62828" stroke-opacity=".55"/>
<circle cx="578.2" cy="632" r="4.45" fill="#D62828" fill-opacity=".5" stroke="#D62828" stroke-opacity=".55"/>
<circle cx="581.7" cy="634.9" r="4.45" fill="#D62828" fill-opacity=".5" stroke="#D62828" stroke-opacity=".55"/>
<circle cx="596.8" cy="631.4" r="4.45" fill="#D62828" fill-opacity=".5" stroke="#D62828" stroke-opacity=".55"/>
<circle cx="538" cy="608.1" r="4.45" fill="#D62828" fill-opacity=".5" stroke="#D62828" stroke-opacity=".55"/>
<circle cx="536.6" cy="651.8" r="4.45" fill="#D62828" fill-opacity=".5" stroke="#D62828" stroke-opacity=".55"/>
<circle cx="560.7" cy="650.8" r="4.45" fill="#D62828" fill-opacity=".5" stroke="#D62828" stroke-opacity=".55"/>
<circle cx="570.5" cy="655.8" r="4.45" fill="#D62828" fill-opacity=".5" stroke="#D62828" stroke-opacity=".55"/>
<circle cx="581.7" cy="656.6" r="4.45" fill="#D62828" fill-opacity=".5" stroke="#D62828" stroke-opacity=".55"/>
<circle cx="594.6" cy="650.8" r="4.45" fill="#D62828" fill-opacity=".5" stroke="#D62828" stroke-opacity=".55"/>
<circle cx="515.7" cy="659.8" r="4.45" fill="#D62828" fill-opacity=".5" stroke="#D62828" stroke-opacity=".55"/>
<circle cx="524.5" cy="666.1" r="4.45" fill="#D62828" fill-opacity=".5" stroke="#D62828" stroke-opacity=".55"/>
<circle cx="496.6" cy="668.5" r="4.45" fill="#D62828" fill-opacity=".5" stroke="#D62828" stroke-opacity=".55"/>
<circle cx="538.5" cy="674.6" r="4.45" fill="#D62828" fill-opacity=".5" stroke="#D62828" stroke-opacity=".55"/>
<circle cx="574.5" cy="673.8" r="4.45" fill="#D62828" fill-opacity=".5" stroke="#D62828" stroke-opacity=".55"/>
<circle cx="585.9" cy="674.9" r="4.45" fill="#D62828" fill-opacity=".5" stroke="#D62828" stroke-opacity=".55"/>
<circle cx="424.6" cy="681.7" r="4.45" fill="#D62828" fill-opacity=".5" stroke="#D62828" stroke-opacity=".55"/>
<circle cx="436.8" cy="691.5" r="4.45" fill="#D62828" fill-opacity=".5" stroke="#D62828" stroke-opacity=".55"/>
<circle cx="443.7" cy="697.6" r="4.45" fill="#D62828" fill-opacity=".5" stroke="#D62828" stroke-opacity=".55"/>
<circle cx="542.7" cy="695" r="4.45" fill="#D62828" fill-opacity=".5" stroke="#D62828" stroke-opacity=".55"/>
<circle cx="552" cy="688.9" r="4.45" fill="#D62828" fill-opacity=".5" stroke="#D62828" stroke-opacity=".55"/>
<circle cx="593.6" cy="692.6" r="4.45" fill="#D62828" fill-opacity=".5" stroke="#D62828" stroke-opacity=".55"/>
<circle cx="481.8" cy="709" r="4.45" fill="#D62828" fill-opacity=".5" stroke="#D62828" stroke-opacity=".55"/>
<circle cx="579.8" cy="705.6" r="4.45" fill="#D62828" fill-opacity=".5" stroke="#D62828" stroke-opacity=".55"/>
<circle cx="577.4" cy="713.5" r="4.45" fill="#D62828" fill-opacity=".5" stroke="#D62828" stroke-opacity=".55"/>
<circle cx="589.6" cy="715.6" r="4.45" fill="#D62828" fill-opacity=".5" stroke="#D62828" stroke-opacity=".55"/>
<circle cx="548" cy="721.7" r="4.45" fill="#D62828" fill-opacity=".5" stroke="#D62828" stroke-opacity=".55"/>
<circle cx="525.5" cy="728.9" r="4.45" fill="#D62828" fill-opacity=".5" stroke="#D62828" stroke-opacity=".55"/>
<circle cx="529.7" cy="737.9" r="4.45" fill="#D62828" fill-opacity=".5" stroke="#D62828" stroke-opacity=".55"/>
<circle cx="333.8" cy="710.1" r="4.45" fill="#D62828" fill-opacity=".5" stroke="#D62828" stroke-opacity=".55"/>
<circle cx="389.7" cy="717" r="4.45" fill="#D62828" fill-opacity=".5" stroke="#D62828" stroke-opacity=".55"/>
<circle cx="408.7" cy="714.6" r="4.45" fill="#D62828" fill-opacity=".5" stroke="#D62828" stroke-opacity=".55"/>
<circle cx="380.6" cy="749.5" r="4.45" fill="#D62828" fill-opacity=".5" stroke="#D62828" stroke-opacity=".55"/>
<circle cx="514.7" cy="760.7" r="4.45" fill="#D62828" fill-opacity=".5" stroke="#D62828" stroke-opacity=".55"/>
<circle cx="500.6" cy="774.7" r="4.45" fill="#D62828" fill-opacity=".5" stroke="#D62828" stroke-opacity=".55"/>
<circle cx="499.6" cy="782.9" r="4.45" fill="#D62828" fill-opacity=".5" stroke="#D62828" stroke-opacity=".55"/>
<circle cx="422.5" cy="791.9" r="4.45" fill="#D62828" fill-opacity=".5" stroke="#D62828" stroke-opacity=".55"/>
<circle cx="536.6" cy="798.8" r="4.45" fill="#D62828" fill-opacity=".5" stroke="#D62828" stroke-opacity=".55"/>
<circle cx="585.6" cy="752.7" r="4.45" fill="#D62828" fill-opacity=".5" stroke="#D62828" stroke-opacity=".55"/>
<circle cx="530.5" cy="560.5" r="4.45" fill="#D62828" fill-opacity=".5" stroke="#D62828" stroke-opacity=".55"/>
<circle cx="611.8" cy="541.7" r="4.45" fill="#D62828" fill-opacity=".5" stroke="#D62828" stroke-opacity=".55"/>
<circle cx="638.8" cy="541.7" r="4.45" fill="#D62828" fill-opacity=".5" stroke="#D62828" stroke-opacity=".55"/>
<circle cx="657.6" cy="548.8" r="4.45" fill="#D62828" fill-opacity=".5" stroke="#D62828" stroke-opacity=".55"/>
<circle cx="639.8" cy="556.7" r="4.45" fill="#D62828" fill-opacity=".5" stroke="#D62828" stroke-opacity=".55"/>
<circle cx="634.8" cy="571.8" r="4.45" fill="#D62828" fill-opacity=".5" stroke="#D62828" stroke-opacity=".55"/>
<circle cx="624.7" cy="589.9" r="4.45" fill="#D62828" fill-opacity=".5" stroke="#D62828" stroke-opacity=".55"/>
<circle cx="604.9" cy="596.7" r="4.45" fill="#D62828" fill-opacity=".5" stroke="#D62828" stroke-opacity=".55"/>
<circle cx="650.7" cy="599.9" r="4.45" fill="#D62828" fill-opacity=".5" stroke="#D62828" stroke-opacity=".55"/>
<circle cx="676.7" cy="594.6" r="4.45" fill="#D62828" fill-opacity=".5" stroke="#D62828" stroke-opacity=".55"/>
<circle cx="616.5" cy="614" r="4.45" fill="#D62828" fill-opacity=".5" stroke="#D62828" stroke-opacity=".55"/>
<circle cx="614.4" cy="616.6" r="4.45" fill="#D62828" fill-opacity=".5" stroke="#D62828" stroke-opacity=".55"/>
<circle cx="631.9" cy="621.9" r="4.45" fill="#D62828" fill-opacity=".5" stroke="#D62828" stroke-opacity=".55"/>
<circle cx="660.8" cy="631.7" r="4.45" fill="#D62828" fill-opacity=".5" stroke="#D62828" stroke-opacity=".55"/>
<circle cx="603.8" cy="635.9" r="4.45" fill="#D62828" fill-opacity=".5" stroke="#D62828" stroke-opacity=".55"/>
<circle cx="616.5" cy="663.7" r="4.45" fill="#D62828" fill-opacity=".5" stroke="#D62828" stroke-opacity=".55"/>
<circle cx="632.7" cy="666.9" r="4.45" fill="#D62828" fill-opacity=".5" stroke="#D62828" stroke-opacity=".55"/>
<circle cx="638.8" cy="670.9" r="4.45" fill="#D62828" fill-opacity=".5" stroke="#D62828" stroke-opacity=".55"/>
<circle cx="656.8" cy="666.7" r="4.45" fill="#D62828" fill-opacity=".5" stroke="#D62828" stroke-opacity=".55"/>
<circle cx="655.5" cy="670.6" r="4.45" fill="#D62828" fill-opacity=".5" stroke="#D62828" stroke-opacity=".55"/>
<circle cx="684.9" cy="663.7" r="4.45" fill="#D62828" fill-opacity=".5" stroke="#D62828" stroke-opacity=".55"/>
<circle cx="617.3" cy="683.6" r="4.45" fill="#D62828" fill-opacity=".5" stroke="#D62828" stroke-opacity=".55"/>
<circle cx="621.8" cy="681.7" r="4.45" fill="#D62828" fill-opacity=".5" stroke="#D62828" stroke-opacity=".55"/>
<circle cx="632.7" cy="692.6" r="4.45" fill="#D62828" fill-opacity=".5" stroke="#D62828" stroke-opacity=".55"/>
<circle cx="661.8" cy="690.5" r="4.45" fill="#D62828" fill-opacity=".5" stroke="#D62828" stroke-opacity=".55"/>
<circle cx="645.7" cy="701.6" r="4.45" fill="#D62828" fill-opacity=".5" stroke="#D62828" stroke-opacity=".55"/>
<circle cx="626.9" cy="706.6" r="4.45" fill="#D62828" fill-opacity=".5" stroke="#D62828" stroke-opacity=".55"/>
<circle cx="701" cy="540.6" r="4.45" fill="#D62828" fill-opacity=".5" stroke="#D62828" stroke-opacity=".55"/>
<circle cx="704.7" cy="566.5" r="4.45" fill="#D62828" fill-opacity=".5" stroke="#D62828" stroke-opacity=".55"/>
<circle cx="718.8" cy="565.8" r="4.45" fill="#D62828" fill-opacity=".5" stroke="#D62828" stroke-opacity=".55"/>
<circle cx="712.7" cy="578.7" r="4.45" fill="#D62828" fill-opacity=".5" stroke="#D62828" stroke-opacity=".55"/>
<circle cx="724.6" cy="581.6" r="4.45" fill="#D62828" fill-opacity=".5" stroke="#D62828" stroke-opacity=".55"/>
<circle cx="729.6" cy="584.8" r="4.45" fill="#D62828" fill-opacity=".5" stroke="#D62828" stroke-opacity=".55"/>
<circle cx="710.8" cy="589.9" r="4.45" fill="#D62828" fill-opacity=".5" stroke="#D62828" stroke-opacity=".55"/>
<circle cx="695.7" cy="594.4" r="4.45" fill="#D62828" fill-opacity=".5" stroke="#D62828" stroke-opacity=".55"/>
<circle cx="695.7" cy="599.4" r="4.45" fill="#D62828" fill-opacity=".5" stroke="#D62828" stroke-opacity=".55"/>
<circle cx="696.5" cy="601" r="4.45" fill="#D62828" fill-opacity=".5" stroke="#D62828" stroke-opacity=".55"/>
<circle cx="715.8" cy="598.9" r="4.45" fill="#D62828" fill-opacity=".5" stroke="#D62828" stroke-opacity=".55"/>
<circle cx="727.5" cy="612.9" r="4.45" fill="#D62828" fill-opacity=".5" stroke="#D62828" stroke-opacity=".55"/>
<circle cx="728" cy="614" r="4.45" fill="#D62828" fill-opacity=".5" stroke="#D62828" stroke-opacity=".55"/>
<circle cx="690.7" cy="620.8" r="4.45" fill="#D62828" fill-opacity=".5" stroke="#D62828" stroke-opacity=".55"/>
<circle cx="703.9" cy="621.6" r="4.45" fill="#D62828" fill-opacity=".5" stroke="#D62828" stroke-opacity=".55"/>
<circle cx="697.6" cy="630.6" r="4.45" fill="#D62828" fill-opacity=".5" stroke="#D62828" stroke-opacity=".55"/>
<circle cx="698.6" cy="634.9" r="4.45" fill="#D62828" fill-opacity=".5" stroke="#D62828" stroke-opacity=".55"/>
<circle cx="715.8" cy="629.8" r="4.45" fill="#D62828" fill-opacity=".5" stroke="#D62828" stroke-opacity=".55"/>
<circle cx="727.8" cy="632.8" r="4.45" fill="#D62828" fill-opacity=".5" stroke="#D62828" stroke-opacity=".55"/>
<circle cx="738.9" cy="632.5" r="4.45" fill="#D62828" fill-opacity=".5" stroke="#D62828" stroke-opacity=".55"/>
<circle cx="746.8" cy="638.6" r="4.45" fill="#D62828" fill-opacity=".5" stroke="#D62828" stroke-opacity=".55"/>
<circle cx="757.7" cy="643.9" r="4.45" fill="#D62828" fill-opacity=".5" stroke="#D62828" stroke-opacity=".55"/>
<circle cx="723.8" cy="647.6" r="4.45" fill="#D62828" fill-opacity=".5" stroke="#D62828" stroke-opacity=".55"/>
<circle cx="731.7" cy="655.5" r="4.45" fill="#D62828" fill-opacity=".5" stroke="#D62828" stroke-opacity=".55"/>
<circle cx="694.7" cy="654.7" r="4.45" fill="#D62828" fill-opacity=".5" stroke="#D62828" stroke-opacity=".55"/>
<circle cx="701.8" cy="665.9" r="4.45" fill="#D62828" fill-opacity=".5" stroke="#D62828" stroke-opacity=".55"/>
<circle cx="739.7" cy="673" r="4.45" fill="#D62828" fill-opacity=".5" stroke="#D62828" stroke-opacity=".55"/>
<circle cx="749.7" cy="676.7" r="4.45" fill="#D62828" fill-opacity=".5" stroke="#D62828" stroke-opacity=".55"/>
<circle cx="743.7" cy="689.7" r="4.45" fill="#D62828" fill-opacity=".5" stroke="#D62828" stroke-opacity=".55"/>
<circle cx="745.8" cy="702.9" r="4.45" fill="#D62828" fill-opacity=".5" stroke="#D62828" stroke-opacity=".55"/>
<circle cx="705.8" cy="706.6" r="4.45" fill="#D62828" fill-opacity=".5" stroke="#D62828" stroke-opacity=".55"/>
<circle cx="702.6" cy="718.8" r="4.45" fill="#D62828" fill-opacity=".5" stroke="#D62828" stroke-opacity=".55"/>
<circle cx="705.5" cy="748" r="4.45" fill="#D62828" fill-opacity=".5" stroke="#D62828" stroke-opacity=".55"/>
<circle cx="745.8" cy="755.6" r="4.45" fill="#D62828" fill-opacity=".5" stroke="#D62828" stroke-opacity=".55"/>
<circle cx="750.8" cy="545.9" r="4.45" fill="#D62828" fill-opacity=".5" stroke="#D62828" stroke-opacity=".55"/>
<circle cx="747.6" cy="550.7" r="4.45" fill="#D62828" fill-opacity=".5" stroke="#D62828" stroke-opacity=".55"/>
<circle cx="748.7" cy="555.7" r="4.45" fill="#D62828" fill-opacity=".5" stroke="#D62828" stroke-opacity=".55"/>
<circle cx="746.8" cy="586.7" r="4.45" fill="#D62828" fill-opacity=".5" stroke="#D62828" stroke-opacity=".55"/>
<circle cx="779.7" cy="579.8" r="4.45" fill="#D62828" fill-opacity=".5" stroke="#D62828" stroke-opacity=".55"/>
<circle cx="805.1" cy="570.5" r="4.45" fill="#D62828" fill-opacity=".5" stroke="#D62828" stroke-opacity=".55"/>
<circle cx="805.9" cy="571.3" r="4.45" fill="#D62828" fill-opacity=".5" stroke="#D62828" stroke-opacity=".55"/>
<circle cx="808.8" cy="546.7" r="4.45" fill="#D62828" fill-opacity=".5" stroke="#D62828" stroke-opacity=".55"/>
<circle cx="806.7" cy="551.7" r="4.45" fill="#D62828" fill-opacity=".5" stroke="#D62828" stroke-opacity=".55"/>
<circle cx="793.7" cy="618.5" r="4.45" fill="#D62828" fill-opacity=".5" stroke="#D62828" stroke-opacity=".55"/>
<circle cx="793.7" cy="625.9" r="4.45" fill="#D62828" fill-opacity=".5" stroke="#D62828" stroke-opacity=".55"/>
<circle cx="796.9" cy="637.8" r="4.45" fill="#D62828" fill-opacity=".5" stroke="#D62828" stroke-opacity=".55"/>
<circle cx="798.7" cy="659" r="4.45" fill="#D62828" fill-opacity=".5" stroke="#D62828" stroke-opacity=".55"/>
<circle cx="801.7" cy="666.9" r="4.45" fill="#D62828" fill-opacity=".5" stroke="#D62828" stroke-opacity=".55"/>
<circle cx="815.2" cy="661.4" r="4.45" fill="#D62828" fill-opacity=".5" stroke="#D62828" stroke-opacity=".55"/>
<circle cx="820.7" cy="667.7" r="4.45" fill="#D62828" fill-opacity=".5" stroke="#D62828" stroke-opacity=".55"/>
<circle cx="819.7" cy="614.7" r="4.45" fill="#D62828" fill-opacity=".5" stroke="#D62828" stroke-opacity=".55"/>
<circle cx="823.9" cy="614" r="4.45" fill="#D62828" fill-opacity=".5" stroke="#D62828" stroke-opacity=".55"/>
<circle cx="830.8" cy="583.8" r="4.45" fill="#D62828" fill-opacity=".5" stroke="#D62828" stroke-opacity=".55"/>
<circle cx="846.7" cy="621.9" r="4.45" fill="#D62828" fill-opacity=".5" stroke="#D62828" stroke-opacity=".55"/>
<circle cx="841.9" cy="659" r="4.45" fill="#D62828" fill-opacity=".5" stroke="#D62828" stroke-opacity=".55"/>
<circle cx="835.8" cy="668.8" r="4.45" fill="#D62828" fill-opacity=".5" stroke="#D62828" stroke-opacity=".55"/>
<circle cx="762.5" cy="668.5" r="4.45" fill="#D62828" fill-opacity=".5" stroke="#D62828" stroke-opacity=".55"/>
<circle cx="769.1" cy="667.7" r="4.45" fill="#D62828" fill-opacity=".5" stroke="#D62828" stroke-opacity=".55"/>
<circle cx="782.6" cy="680.7" r="4.45" fill="#D62828" fill-opacity=".5" stroke="#D62828" stroke-opacity=".55"/>
<circle cx="786.8" cy="687" r="4.45" fill="#D62828" fill-opacity=".5" stroke="#D62828" stroke-opacity=".55"/>
<circle cx="851.7" cy="543.5" r="4.45" fill="#D62828" fill-opacity=".5" stroke="#D62828" stroke-opacity=".55"/>
<circle cx="991.8" cy="551.7" r="4.45" fill="#D62828" fill-opacity=".5" stroke="#D62828" stroke-opacity=".55"/>
<circle cx="915.8" cy="610.5" r="4.45" fill="#D62828" fill-opacity=".5" stroke="#D62828" stroke-opacity=".55"/>
<circle cx="923.7" cy="616.6" r="4.45" fill="#D62828" fill-opacity=".5" stroke="#D62828" stroke-opacity=".55"/>
<circle cx="967.7" cy="633.5" r="4.45" fill="#D62828" fill-opacity=".5" stroke="#D62828" stroke-opacity=".55"/>
<circle cx="959.8" cy="650.8" r="4.45" fill="#D62828" fill-opacity=".5" stroke="#D62828" stroke-opacity=".55"/>
<circle cx="910.8" cy="671.7" r="4.45" fill="#D62828" fill-opacity=".5" stroke="#D62828" stroke-opacity=".55"/>
<circle cx="1002.7" cy="676.7" r="4.45" fill="#D62828" fill-opacity=".5" stroke="#D62828" stroke-opacity=".55"/>
<circle cx="860.7" cy="724.9" r="4.45" fill="#D62828" fill-opacity=".5" stroke="#D62828" stroke-opacity=".55"/>
<circle cx="874.7" cy="721.5" r="4.45" fill="#D62828" fill-opacity=".5" stroke="#D62828" stroke-opacity=".55"/>
<circle cx="892.8" cy="731.8" r="4.45" fill="#D62828" fill-opacity=".5" stroke="#D62828" stroke-opacity=".55"/>
<circle cx="878.7" cy="742.7" r="4.45" fill="#D62828" fill-opacity=".5" stroke="#D62828" stroke-opacity=".55"/>
<circle cx="836.9" cy="735.5" r="4.45" fill="#D62828" fill-opacity=".5" stroke="#D62828" stroke-opacity=".55"/>
<circle cx="844.8" cy="760.9" r="4.45" fill="#D62828" fill-opacity=".5" stroke="#D62828" stroke-opacity=".55"/>
<circle cx="641.7" cy="767.8" r="4.45" fill="#D62828" fill-opacity=".5" stroke="#D62828" stroke-opacity=".55"/>
<circle cx="626.9" cy="781.6" r="4.45" fill="#D62828" fill-opacity=".5" stroke="#D62828" stroke-opacity=".55"/>
<circle cx="606.7" cy="786.6" r="4.45" fill="#D62828" fill-opacity=".5" stroke="#D62828" stroke-opacity=".55"/>
<circle cx="659.7" cy="795.6" r="4.45" fill="#D62828" fill-opacity=".5" stroke="#D62828" stroke-opacity=".55"/>
<circle cx="767.8" cy="783.7" r="4.45" fill="#D62828" fill-opacity=".5" stroke="#D62828" stroke-opacity=".55"/>
<circle cx="779.7" cy="786.6" r="4.45" fill="#D62828" fill-opacity=".5" stroke="#D62828" stroke-opacity=".55"/>
<circle cx="713.7" cy="808.6" r="4.45" fill="#D62828" fill-opacity=".5" stroke="#D62828" stroke-opacity=".55"/>
<circle cx="430.7" cy="836.8" r="4.45" fill="#D62828" fill-opacity=".5" stroke="#D62828" stroke-opacity=".55"/>
<circle cx="455.6" cy="819.8" r="4.45" fill="#D62828" fill-opacity=".5" stroke="#D62828" stroke-opacity=".55"/>
<circle cx="492.9" cy="806.6" r="4.45" fill="#D62828" fill-opacity=".5" stroke="#D62828" stroke-opacity=".55"/>
<circle cx="576.1" cy="823.8" r="4.45" fill="#D62828" fill-opacity=".5" stroke="#D62828" stroke-opacity=".55"/>
<circle cx="596.8" cy="850" r="4.45" fill="#D62828" fill-opacity=".5" stroke="#D62828" stroke-opacity=".55"/>
<circle cx="730.9" cy="813.7" r="4.45" fill="#D62828" fill-opacity=".5" stroke="#D62828" stroke-opacity=".55"/>
<circle cx="717.7" cy="829.6" r="4.45" fill="#D62828" fill-opacity=".5" stroke="#D62828" stroke-opacity=".55"/>
<circle cx="661.8" cy="854.8" r="4.45" fill="#D62828" fill-opacity=".5" stroke="#D62828" stroke-opacity=".55"/>
</g>
<g fill="none" stroke-width="5.69" shape-rendering="crispEdges">
<path d="M468 296 L647.8 1054.3" stroke="#2E86AB"/>
<path d="M659.6 1054.3 L655.6 1041.4 L651.6 1028.6 L647.6 1015.7 L643.7 1002.9 L639.9 990 L636 977.2 L632.3 964.3 L628.5 951.5 L624.8 938.6 L621.1 925.8 L617.5 912.9 L613.9 900.1 L610.3 887.2 L606.8 874.4 L603.3 861.5 L599.9 848.7 L596.5 835.8 L593.1 823 L589.8 810.1 L586.5 797.2 L583.3 784.4 L580.1 771.5 L576.9 758.7 L573.8 745.8 L570.7 733 L567.6 720.1 L564.6 707.3 L561.7 694.4 L558.7 681.6 L555.8 668.7 L553 655.9 L550.1 643 L547.4 630.2 L544.6 617.3 L541.9 604.5 L539.3 591.6 L536.6 578.8 L534 565.9 L531.5 553.1 L529 540.2 L526.5 527.3 L524.1 514.5 L521.7 501.6 L519.3 488.8 L517 475.9 L514.7 463.1 L512.5 450.2 L510.3 437.4 L508.1 424.5 L506 411.7 L503.9 398.8 L501.9 386 L499.9 373.1 L497.9 360.3 L496 347.4 L494.1 334.6 L492.2 321.7 L490.4 308.9 L488.6 296" stroke="#D62828" stroke-dasharray="24 24" stroke-dashoffset="0"/>
<path d="M625 1054.3 L482 296" stroke="#06A77D" stroke-dasharray="6.00 18.00 24.00 18.00"/>
</g>
</g>
<rect x="129" y="260" width="939" height="832" fill="none" stroke="#222" stroke-width="2" shape-rendering="crispEdges"/>
<g fill="#333" shape-rendering="crispEdges">
<rect x="302" y="1093" width="3" height="9"/>
<rect x="560" y="1093" width="3" height="9"/>
<rect x="818" y="1093" width="3" height="9"/>
<rect x="119" y="1071" width="9" height="3"/>
<rect x="119" y="870" width="9" height="3"/>
<rect x="119" y="669" width="9" height="3"/>
<rect x="119" y="468" width="9" height="3"/>
<rect x="119" y="267" width="9" height="3"/>
</g>
<g font-size="29.87" fill="#4D4D4D" transform="scale(1 1.045)">
<text x="303.1" y="1084.02" text-anchor="middle">-2</text>
<text x="560.9" y="1084.02" text-anchor="middle">0</text>
<text x="818.7" y="1084.02" text-anchor="middle">2</text>
<text x="110.5" y="1038.76" text-anchor="end">-4</text>
<text x="110.5" y="846.41" text-anchor="end">-2</text>
<text x="110.5" y="654.07" text-anchor="end">0</text>
<text x="110.5" y="461.72" text-anchor="end">2</text>
<text x="110.5" y="269.38" text-anchor="end">4</text>
</g>
<text transform="translate(597.3 1176.5) scale(1 1.045)" font-size="37.33" text-anchor="middle">X<tspan font-size="26.13" dy="7.2">1</tspan></text>
<text transform="translate(61.6 676.5) rotate(-90) scale(1 1.045)" font-size="37.33" text-anchor="middle">X<tspan font-size="26.13" dy="7.2">2</tspan></text>
<text id="lt0" x="327.5" y="1284.2" font-size="37.33" fill="#000" textLength="175.3" lengthAdjust="spacing">True Class</text>
<circle cx="544.1" cy="1268.9" r="4.6" fill="#2E86AB" fill-opacity=".5" stroke="#2E86AB" stroke-opacity=".55"/>
<text id="l00" x="585.5" y="1281" font-size="29.87" fill="#000">Class 0</text>
<circle cx="728.1" cy="1268.9" r="4.6" fill="#D62828" fill-opacity=".5" stroke="#D62828" stroke-opacity=".55"/>
<text id="l10" x="768.5" y="1281" font-size="29.87" fill="#000" textLength="97.6" lengthAdjust="spacing">Class 1</text>
<text id="pt1" x="1201.6" y="169.8" font-size="44.8" fill="#000" textLength="387.3" lengthAdjust="spacing">Gaussian, Different</text>
<text id="sig1" transform="translate(1599.5 169.8) scale(1.1 1)" font-size="44.8" style="font-family:'Liberation Serif','Times New Roman',serif">Σ</text>
<text id="k1" x="1627.2" y="178" font-size="31.36">k</text>
<text id="ps1" x="1201.5" y="234" font-size="37.33" fill="#000" textLength="495.6" lengthAdjust="spacing">QDA captures the curved truth</text>
<clipPath id="cp1"><rect x="1201" y="259" width="941" height="834"/></clipPath>
<g clip-path="url(#cp1)">
<g fill="#EBEBEB" shape-rendering="crispEdges">
<rect x="1303" y="259" width="1" height="834"/>
<rect x="1582" y="259" width="1" height="834"/>
<rect x="1860" y="259" width="1" height="834"/>
<rect x="2139" y="259" width="1" height="834"/>
<rect x="1201" y="1008" width="941" height="1"/>
<rect x="1201" y="784" width="941" height="1"/>
<rect x="1201" y="559" width="941" height="1"/>
<rect x="1201" y="335" width="941" height="1"/>
<rect x="1441" y="259" width="3" height="834"/>
<rect x="1720" y="259" width="3" height="834"/>
<rect x="1998" y="259" width="3" height="834"/>
<rect x="1201" y="894" width="941" height="3"/>
<rect x="1201" y="670" width="941" height="3"/>
<rect x="1201" y="445" width="941" height="3"/>
</g>
<g stroke-width="1.2" shape-rendering="crispEdges">
<circle cx="1537.9" cy="500.8" r="4.45" fill="#2E86AB" fill-opacity=".5" stroke="#2E86AB" stroke-opacity=".55"/>
<circle cx="1242.8" cy="660.8" r="4.45" fill="#2E86AB" fill-opacity=".5" stroke="#2E86AB" stroke-opacity=".55"/>
<circle cx="1266.7" cy="676.7" r="4.45" fill="#2E86AB" fill-opacity=".5" stroke="#2E86AB" stroke-opacity=".55"/>
<circle cx="1278.6" cy="686.8" r="4.45" fill="#2E86AB" fill-opacity=".5" stroke="#2E86AB" stroke-opacity=".55"/>
<circle cx="1307.7" cy="648.6" r="4.45" fill="#2E86AB" fill-opacity=".5" stroke="#2E86AB" stroke-opacity=".55"/>
<circle cx="1309.8" cy="668.8" r="4.45" fill="#2E86AB" fill-opacity=".5" stroke="#2E86AB" stroke-opacity=".55"/>
<circle cx="1331.8" cy="704.8" r="4.45" fill="#2E86AB" fill-opacity=".5" stroke="#2E86AB" stroke-opacity=".55"/>
<circle cx="1326.8" cy="764.6" r="4.45" fill="#2E86AB" fill-opacity=".5" stroke="#2E86AB" stroke-opacity=".55"/>
<circle cx="1345.6" cy="623.8" r="4.45" fill="#2E86AB" fill-opacity=".5" stroke="#2E86AB" stroke-opacity=".55"/>
<circle cx="1374.7" cy="620.8" r="4.45" fill="#2E86AB" fill-opacity=".5" stroke="#2E86AB" stroke-opacity=".55"/>
<circle cx="1409.7" cy="606.8" r="4.45" fill="#2E86AB" fill-opacity=".5" stroke="#2E86AB" stroke-opacity=".55"/>
<circle cx="1428.8" cy="560.7" r="4.45" fill="#2E86AB" fill-opacity=".5" stroke="#2E86AB" stroke-opacity=".55"/>
<circle cx="1440.7" cy="577.9" r="4.45" fill="#2E86AB" fill-opacity=".5" stroke="#2E86AB" stroke-opacity=".55"/>
<circle cx="1420.8" cy="633.5" r="4.45" fill="#2E86AB" fill-opacity=".5" stroke="#2E86AB" stroke-opacity=".55"/>
<circle cx="1405.7" cy="657.6" r="4.45" fill="#2E86AB" fill-opacity=".5" stroke="#2E86AB" stroke-opacity=".55"/>
<circle cx="1404.7" cy="661.6" r="4.45" fill="#2E86AB" fill-opacity=".5" stroke="#2E86AB" stroke-opacity=".55"/>
<circle cx="1405.7" cy="666.9" r="4.45" fill="#2E86AB" fill-opacity=".5" stroke="#2E86AB" stroke-opacity=".55"/>
<circle cx="1437.8" cy="651.8" r="4.45" fill="#2E86AB" fill-opacity=".5" stroke="#2E86AB" stroke-opacity=".55"/>
<circle cx="1442.8" cy="660.6" r="4.45" fill="#2E86AB" fill-opacity=".5" stroke="#2E86AB" stroke-opacity=".55"/>
<circle cx="1426.6" cy="677.8" r="4.45" fill="#2E86AB" fill-opacity=".5" stroke="#2E86AB" stroke-opacity=".55"/>
<circle cx="1390.6" cy="688.6" r="4.45" fill="#2E86AB" fill-opacity=".5" stroke="#2E86AB" stroke-opacity=".55"/>
<circle cx="1379.8" cy="693.7" r="4.45" fill="#2E86AB" fill-opacity=".5" stroke="#2E86AB" stroke-opacity=".55"/>
<circle cx="1431.7" cy="696.6" r="4.45" fill="#2E86AB" fill-opacity=".5" stroke="#2E86AB" stroke-opacity=".55"/>
<circle cx="1426.6" cy="698.7" r="4.45" fill="#2E86AB" fill-opacity=".5" stroke="#2E86AB" stroke-opacity=".55"/>
<circle cx="1387.7" cy="709.8" r="4.45" fill="#2E86AB" fill-opacity=".5" stroke="#2E86AB" stroke-opacity=".55"/>
<circle cx="1373.7" cy="714.6" r="4.45" fill="#2E86AB" fill-opacity=".5" stroke="#2E86AB" stroke-opacity=".55"/>
<circle cx="1420.8" cy="717.8" r="4.45" fill="#2E86AB" fill-opacity=".5" stroke="#2E86AB" stroke-opacity=".55"/>
<circle cx="1392.7" cy="723.9" r="4.45" fill="#2E86AB" fill-opacity=".5" stroke="#2E86AB" stroke-opacity=".55"/>
<circle cx="1399.9" cy="722.8" r="4.45" fill="#2E86AB" fill-opacity=".5" stroke="#2E86AB" stroke-opacity=".55"/>
<circle cx="1389.8" cy="734.7" r="4.45" fill="#2E86AB" fill-opacity=".5" stroke="#2E86AB" stroke-opacity=".55"/>
<circle cx="1443.6" cy="728.6" r="4.45" fill="#2E86AB" fill-opacity=".5" stroke="#2E86AB" stroke-opacity=".55"/>
<circle cx="1437.8" cy="739" r="4.45" fill="#2E86AB" fill-opacity=".5" stroke="#2E86AB" stroke-opacity=".55"/>
<circle cx="1411.8" cy="751.7" r="4.45" fill="#2E86AB" fill-opacity=".5" stroke="#2E86AB" stroke-opacity=".55"/>
<circle cx="1398.8" cy="762" r="4.45" fill="#2E86AB" fill-opacity=".5" stroke="#2E86AB" stroke-opacity=".55"/>
<circle cx="1478.5" cy="564.7" r="4.45" fill="#2E86AB" fill-opacity=".5" stroke="#2E86AB" stroke-opacity=".55"/>
<circle cx="1518.8" cy="564.7" r="4.45" fill="#2E86AB" fill-opacity=".5" stroke="#2E86AB" stroke-opacity=".55"/>
<circle cx="1525.7" cy="591.7" r="4.45" fill="#2E86AB" fill-opacity=".5" stroke="#2E86AB" stroke-opacity=".55"/>
<circle cx="1470.6" cy="598.1" r="4.45" fill="#2E86AB" fill-opacity=".5" stroke="#2E86AB" stroke-opacity=".55"/>
<circle cx="1472.7" cy="598.1" r="4.45" fill="#2E86AB" fill-opacity=".5" stroke="#2E86AB" stroke-opacity=".55"/>
<circle cx="1501.8" cy="607.9" r="4.45" fill="#2E86AB" fill-opacity=".5" stroke="#2E86AB" stroke-opacity=".55"/>
<circle cx="1540" cy="609.7" r="4.45" fill="#2E86AB" fill-opacity=".5" stroke="#2E86AB" stroke-opacity=".55"/>
<circle cx="1479.6" cy="618.7" r="4.45" fill="#2E86AB" fill-opacity=".5" stroke="#2E86AB" stroke-opacity=".55"/>
<circle cx="1482" cy="622.7" r="4.45" fill="#2E86AB" fill-opacity=".5" stroke="#2E86AB" stroke-opacity=".55"/>
<circle cx="1493.6" cy="624.8" r="4.45" fill="#2E86AB" fill-opacity=".5" stroke="#2E86AB" stroke-opacity=".55"/>
<circle cx="1502.9" cy="619.8" r="4.45" fill="#2E86AB" fill-opacity=".5" stroke="#2E86AB" stroke-opacity=".55"/>
<circle cx="1536.8" cy="625.6" r="4.45" fill="#2E86AB" fill-opacity=".5" stroke="#2E86AB" stroke-opacity=".55"/>
<circle cx="1462.7" cy="629.8" r="4.45" fill="#2E86AB" fill-opacity=".5" stroke="#2E86AB" stroke-opacity=".55"/>
<circle cx="1461.9" cy="635.9" r="4.45" fill="#2E86AB" fill-opacity=".5" stroke="#2E86AB" stroke-opacity=".55"/>
<circle cx="1499.7" cy="635.9" r="4.45" fill="#2E86AB" fill-opacity=".5" stroke="#2E86AB" stroke-opacity=".55"/>
<circle cx="1528.9" cy="638.6" r="4.45" fill="#2E86AB" fill-opacity=".5" stroke="#2E86AB" stroke-opacity=".55"/>
<circle cx="1472.7" cy="650.8" r="4.45" fill="#2E86AB" fill-opacity=".5" stroke="#2E86AB" stroke-opacity=".55"/>
<circle cx="1501.6" cy="649.7" r="4.45" fill="#2E86AB" fill-opacity=".5" stroke="#2E86AB" stroke-opacity=".55"/>
<circle cx="1511.6" cy="650" r="4.45" fill="#2E86AB" fill-opacity=".5" stroke="#2E86AB" stroke-opacity=".55"/>
<circle cx="1483.8" cy="661.6" r="4.45" fill="#2E86AB" fill-opacity=".5" stroke="#2E86AB" stroke-opacity=".55"/>
<circle cx="1455.8" cy="665.6" r="4.45" fill="#2E86AB" fill-opacity=".5" stroke="#2E86AB" stroke-opacity=".55"/>
<circle cx="1456.8" cy="669.6" r="4.45" fill="#2E86AB" fill-opacity=".5" stroke="#2E86AB" stroke-opacity=".55"/>
<circle cx="1495.8" cy="670.6" r="4.45" fill="#2E86AB" fill-opacity=".5" stroke="#2E86AB" stroke-opacity=".55"/>
<circle cx="1506.6" cy="673.8" r="4.45" fill="#2E86AB" fill-opacity=".5" stroke="#2E86AB" stroke-opacity=".55"/>
<circle cx="1503.7" cy="679.9" r="4.45" fill="#2E86AB" fill-opacity=".5" stroke="#2E86AB" stroke-opacity=".55"/>
<circle cx="1456.8" cy="687.8" r="4.45" fill="#2E86AB" fill-opacity=".5" stroke="#2E86AB" stroke-opacity=".55"/>
<circle cx="1464.8" cy="699.8" r="4.45" fill="#2E86AB" fill-opacity=".5" stroke="#2E86AB" stroke-opacity=".55"/>
<circle cx="1517.7" cy="691.8" r="4.45" fill="#2E86AB" fill-opacity=".5" stroke="#2E86AB" stroke-opacity=".55"/>
<circle cx="1455.8" cy="710.9" r="4.45" fill="#2E86AB" fill-opacity=".5" stroke="#2E86AB" stroke-opacity=".55"/>
<circle cx="1499.7" cy="705.6" r="4.45" fill="#2E86AB" fill-opacity=".5" stroke="#2E86AB" stroke-opacity=".55"/>
<circle cx="1494.4" cy="709" r="4.45" fill="#2E86AB" fill-opacity=".5" stroke="#2E86AB" stroke-opacity=".55"/>
<circle cx="1491.8" cy="722.8" r="4.45" fill="#2E86AB" fill-opacity=".5" stroke="#2E86AB" stroke-opacity=".55"/>
<circle cx="1499.7" cy="730.7" r="4.45" fill="#2E86AB" fill-opacity=".5" stroke="#2E86AB" stroke-opacity=".55"/>
<circle cx="1461.9" cy="734.7" r="4.45" fill="#2E86AB" fill-opacity=".5" stroke="#2E86AB" stroke-opacity=".55"/>
<circle cx="1492.8" cy="742.7" r="4.45" fill="#2E86AB" fill-opacity=".5" stroke="#2E86AB" stroke-opacity=".55"/>
<circle cx="1460.8" cy="752.7" r="4.45" fill="#2E86AB" fill-opacity=".5" stroke="#2E86AB" stroke-opacity=".55"/>
<circle cx="1470.6" cy="768.9" r="4.45" fill="#2E86AB" fill-opacity=".5" stroke="#2E86AB" stroke-opacity=".55"/>
<circle cx="1506.6" cy="760.7" r="4.45" fill="#2E86AB" fill-opacity=".5" stroke="#2E86AB" stroke-opacity=".55"/>
<circle cx="1500.8" cy="767.8" r="4.45" fill="#2E86AB" fill-opacity=".5" stroke="#2E86AB" stroke-opacity=".55"/>
<circle cx="1523.8" cy="794.6" r="4.45" fill="#2E86AB" fill-opacity=".5" stroke="#2E86AB" stroke-opacity=".55"/>
<circle cx="1547.1" cy="644.7" r="4.45" fill="#2E86AB" fill-opacity=".5" stroke="#2E86AB" stroke-opacity=".55"/>
<circle cx="1550.8" cy="647.8" r="4.45" fill="#2E86AB" fill-opacity=".5" stroke="#2E86AB" stroke-opacity=".55"/>
<circle cx="1560.6" cy="645.7" r="4.45" fill="#2E86AB" fill-opacity=".5" stroke="#2E86AB" stroke-opacity=".55"/>
<circle cx="1565.7" cy="654.7" r="4.45" fill="#2E86AB" fill-opacity=".5" stroke="#2E86AB" stroke-opacity=".55"/>
<circle cx="1544" cy="660.6" r="4.45" fill="#2E86AB" fill-opacity=".5" stroke="#2E86AB" stroke-opacity=".55"/>
<circle cx="1557.7" cy="669.6" r="4.45" fill="#2E86AB" fill-opacity=".5" stroke="#2E86AB" stroke-opacity=".55"/>
<circle cx="1549.8" cy="674.6" r="4.45" fill="#2E86AB" fill-opacity=".5" stroke="#2E86AB" stroke-opacity=".55"/>
<circle cx="1540.2" cy="675.9" r="4.45" fill="#2E86AB" fill-opacity=".5" stroke="#2E86AB" stroke-opacity=".55"/>
<circle cx="1541.6" cy="676.5" r="4.45" fill="#2E86AB" fill-opacity=".5" stroke="#2E86AB" stroke-opacity=".55"/>
<circle cx="1565.7" cy="675.7" r="4.45" fill="#2E86AB" fill-opacity=".5" stroke="#2E86AB" stroke-opacity=".55"/>
<circle cx="1568.8" cy="674.6" r="4.45" fill="#2E86AB" fill-opacity=".5" stroke="#2E86AB" stroke-opacity=".55"/>
<circle cx="1568.8" cy="626.7" r="4.45" fill="#2E86AB" fill-opacity=".5" stroke="#2E86AB" stroke-opacity=".55"/>
<circle cx="1575.2" cy="640.2" r="4.45" fill="#2E86AB" fill-opacity=".5" stroke="#2E86AB" stroke-opacity=".55"/>
<circle cx="1576.3" cy="641.8" r="4.45" fill="#2E86AB" fill-opacity=".5" stroke="#2E86AB" stroke-opacity=".55"/>
<circle cx="1579.7" cy="648.6" r="4.45" fill="#2E86AB" fill-opacity=".5" stroke="#2E86AB" stroke-opacity=".55"/>
<circle cx="1586.6" cy="641.8" r="4.45" fill="#2E86AB" fill-opacity=".5" stroke="#2E86AB" stroke-opacity=".55"/>
<circle cx="1587.7" cy="625.6" r="4.45" fill="#2E86AB" fill-opacity=".5" stroke="#2E86AB" stroke-opacity=".55"/>
<circle cx="1594.8" cy="629.8" r="4.45" fill="#2E86AB" fill-opacity=".5" stroke="#2E86AB" stroke-opacity=".55"/>
<circle cx="1602.7" cy="625.9" r="4.45" fill="#2E86AB" fill-opacity=".5" stroke="#2E86AB" stroke-opacity=".55"/>
<circle cx="1604.9" cy="621.9" r="4.45" fill="#2E86AB" fill-opacity=".5" stroke="#2E86AB" stroke-opacity=".55"/>
<circle cx="1616.8" cy="614.7" r="4.45" fill="#2E86AB" fill-opacity=".5" stroke="#2E86AB" stroke-opacity=".55"/>
<circle cx="1611.8" cy="587.7" r="4.45" fill="#2E86AB" fill-opacity=".5" stroke="#2E86AB" stroke-opacity=".55"/>
<circle cx="1634.8" cy="591.7" r="4.45" fill="#2E86AB" fill-opacity=".5" stroke="#2E86AB" stroke-opacity=".55"/>
<circle cx="1659.7" cy="592.8" r="4.45" fill="#2E86AB" fill-opacity=".5" stroke="#2E86AB" stroke-opacity=".55"/>
<circle cx="1592.9" cy="646.5" r="4.45" fill="#2E86AB" fill-opacity=".5" stroke="#2E86AB" stroke-opacity=".55"/>
<circle cx="1605.7" cy="651.8" r="4.45" fill="#2E86AB" fill-opacity=".5" stroke="#2E86AB" stroke-opacity=".55"/>
<circle cx="1591.6" cy="660.6" r="4.45" fill="#2E86AB" fill-opacity=".5" stroke="#2E86AB" stroke-opacity=".55"/>
<circle cx="1596.7" cy="665.6" r="4.45" fill="#2E86AB" fill-opacity=".5" stroke="#2E86AB" stroke-opacity=".55"/>
<circle cx="1597.7" cy="670.9" r="4.45" fill="#2E86AB" fill-opacity=".5" stroke="#2E86AB" stroke-opacity=".55"/>
<circle cx="1622.6" cy="664.8" r="4.45" fill="#2E86AB" fill-opacity=".5" stroke="#2E86AB" stroke-opacity=".55"/>
<circle cx="1629.8" cy="661.6" r="4.45" fill="#2E86AB" fill-opacity=".5" stroke="#2E86AB" stroke-opacity=".55"/>
<circle cx="1628.7" cy="668.8" r="4.45" fill="#2E86AB" fill-opacity=".5" stroke="#2E86AB" stroke-opacity=".55"/>
<circle cx="1638.5" cy="661.6" r="4.45" fill="#2E86AB" fill-opacity=".5" stroke="#2E86AB" stroke-opacity=".55"/>
<circle cx="1639.8" cy="678.8" r="4.45" fill="#2E86AB" fill-opacity=".5" stroke="#2E86AB" stroke-opacity=".55"/>
<circle cx="1619.7" cy="683.6" r="4.45" fill="#2E86AB" fill-opacity=".5" stroke="#2E86AB" stroke-opacity=".55"/>
<circle cx="1561.7" cy="695.8" r="4.45" fill="#2E86AB" fill-opacity=".5" stroke="#2E86AB" stroke-opacity=".55"/>
<circle cx="1546.6" cy="698.7" r="4.45" fill="#2E86AB" fill-opacity=".5" stroke="#2E86AB" stroke-opacity=".55"/>
<circle cx="1559.8" cy="706.6" r="4.45" fill="#2E86AB" fill-opacity=".5" stroke="#2E86AB" stroke-opacity=".55"/>
<circle cx="1555.9" cy="714.9" r="4.45" fill="#2E86AB" fill-opacity=".5" stroke="#2E86AB" stroke-opacity=".55"/>
<circle cx="1541.8" cy="720.7" r="4.45" fill="#2E86AB" fill-opacity=".5" stroke="#2E86AB" stroke-opacity=".55"/>
<circle cx="1567.8" cy="722.8" r="4.45" fill="#2E86AB" fill-opacity=".5" stroke="#2E86AB" stroke-opacity=".55"/>
<circle cx="1571.8" cy="731.8" r="4.45" fill="#2E86AB" fill-opacity=".5" stroke="#2E86AB" stroke-opacity=".55"/>
<circle cx="1550.8" cy="738.7" r="4.45" fill="#2E86AB" fill-opacity=".5" stroke="#2E86AB" stroke-opacity=".55"/>
<circle cx="1553" cy="764.6" r="4.45" fill="#2E86AB" fill-opacity=".5" stroke="#2E86AB" stroke-opacity=".55"/>
<circle cx="1564.9" cy="773.6" r="4.45" fill="#2E86AB" fill-opacity=".5" stroke="#2E86AB" stroke-opacity=".55"/>
<circle cx="1591.9" cy="743.7" r="4.45" fill="#2E86AB" fill-opacity=".5" stroke="#2E86AB" stroke-opacity=".55"/>
<circle cx="1596.7" cy="726.8" r="4.45" fill="#2E86AB" fill-opacity=".5" stroke="#2E86AB" stroke-opacity=".55"/>
<circle cx="1605.7" cy="711.7" r="4.45" fill="#2E86AB" fill-opacity=".5" stroke="#2E86AB" stroke-opacity=".55"/>
<circle cx="1628.7" cy="704.8" r="4.45" fill="#2E86AB" fill-opacity=".5" stroke="#2E86AB" stroke-opacity=".55"/>
<circle cx="1634.8" cy="702.9" r="4.45" fill="#2E86AB" fill-opacity=".5" stroke="#2E86AB" stroke-opacity=".55"/>
<circle cx="1642.5" cy="710.9" r="4.45" fill="#2E86AB" fill-opacity=".5" stroke="#2E86AB" stroke-opacity=".55"/>
<circle cx="1652.8" cy="704.8" r="4.45" fill="#2E86AB" fill-opacity=".5" stroke="#2E86AB" stroke-opacity=".55"/>
<circle cx="1651.7" cy="732.9" r="4.45" fill="#2E86AB" fill-opacity=".5" stroke="#2E86AB" stroke-opacity=".55"/>
<circle cx="1616.8" cy="762" r="4.45" fill="#2E86AB" fill-opacity=".5" stroke="#2E86AB" stroke-opacity=".55"/>
<circle cx="1626.8" cy="770.7" r="4.45" fill="#2E86AB" fill-opacity=".5" stroke="#2E86AB" stroke-opacity=".55"/>
<circle cx="1641.7" cy="762.8" r="4.45" fill="#2E86AB" fill-opacity=".5" stroke="#2E86AB" stroke-opacity=".55"/>
<circle cx="1666.8" cy="561.8" r="4.45" fill="#2E86AB" fill-opacity=".5" stroke="#2E86AB" stroke-opacity=".55"/>
<circle cx="1661.8" cy="640.7" r="4.45" fill="#2E86AB" fill-opacity=".5" stroke="#2E86AB" stroke-opacity=".55"/>
<circle cx="1660.7" cy="642.8" r="4.45" fill="#2E86AB" fill-opacity=".5" stroke="#2E86AB" stroke-opacity=".55"/>
<circle cx="1663.9" cy="661.6" r="4.45" fill="#2E86AB" fill-opacity=".5" stroke="#2E86AB" stroke-opacity=".55"/>
<circle cx="1674.8" cy="561.8" r="4.45" fill="#2E86AB" fill-opacity=".5" stroke="#2E86AB" stroke-opacity=".55"/>
<circle cx="1681.9" cy="576.9" r="4.45" fill="#2E86AB" fill-opacity=".5" stroke="#2E86AB" stroke-opacity=".55"/>
<circle cx="1687.7" cy="600.7" r="4.45" fill="#2E86AB" fill-opacity=".5" stroke="#2E86AB" stroke-opacity=".55"/>
<circle cx="1671.9" cy="609.4" r="4.45" fill="#2E86AB" fill-opacity=".5" stroke="#2E86AB" stroke-opacity=".55"/>
<circle cx="1698.9" cy="619.8" r="4.45" fill="#2E86AB" fill-opacity=".5" stroke="#2E86AB" stroke-opacity=".55"/>
<circle cx="1672.7" cy="630.6" r="4.45" fill="#2E86AB" fill-opacity=".5" stroke="#2E86AB" stroke-opacity=".55"/>
<circle cx="1669.7" cy="634.6" r="4.45" fill="#2E86AB" fill-opacity=".5" stroke="#2E86AB" stroke-opacity=".55"/>
<circle cx="1715.6" cy="627.7" r="4.45" fill="#2E86AB" fill-opacity=".5" stroke="#2E86AB" stroke-opacity=".55"/>
<circle cx="1723.8" cy="623.8" r="4.45" fill="#2E86AB" fill-opacity=".5" stroke="#2E86AB" stroke-opacity=".55"/>
<circle cx="1674.8" cy="671.7" r="4.45" fill="#2E86AB" fill-opacity=".5" stroke="#2E86AB" stroke-opacity=".55"/>
<circle cx="1674.8" cy="673.8" r="4.45" fill="#2E86AB" fill-opacity=".5" stroke="#2E86AB" stroke-opacity=".55"/>
<circle cx="1697.8" cy="669.6" r="4.45" fill="#2E86AB" fill-opacity=".5" stroke="#2E86AB" stroke-opacity=".55"/>
<circle cx="1708.7" cy="678.8" r="4.45" fill="#2E86AB" fill-opacity=".5" stroke="#2E86AB" stroke-opacity=".55"/>
<circle cx="1723.8" cy="654.5" r="4.45" fill="#2E86AB" fill-opacity=".5" stroke="#2E86AB" stroke-opacity=".55"/>
<circle cx="1690.7" cy="707.7" r="4.45" fill="#2E86AB" fill-opacity=".5" stroke="#2E86AB" stroke-opacity=".55"/>
<circle cx="1702.8" cy="711.7" r="4.45" fill="#2E86AB" fill-opacity=".5" stroke="#2E86AB" stroke-opacity=".55"/>
<circle cx="1697" cy="713.8" r="4.45" fill="#2E86AB" fill-opacity=".5" stroke="#2E86AB" stroke-opacity=".55"/>
<circle cx="1689.9" cy="718.8" r="4.45" fill="#2E86AB" fill-opacity=".5" stroke="#2E86AB" stroke-opacity=".55"/>
<circle cx="1676.9" cy="726" r="4.45" fill="#2E86AB" fill-opacity=".5" stroke="#2E86AB" stroke-opacity=".55"/>
<circle cx="1677.9" cy="727.8" r="4.45" fill="#2E86AB" fill-opacity=".5" stroke="#2E86AB" stroke-opacity=".55"/>
<circle cx="1687.7" cy="741.6" r="4.45" fill="#2E86AB" fill-opacity=".5" stroke="#2E86AB" stroke-opacity=".55"/>
<circle cx="1673.7" cy="757.8" r="4.45" fill="#2E86AB" fill-opacity=".5" stroke="#2E86AB" stroke-opacity=".55"/>
<circle cx="1710.8" cy="762.8" r="4.45" fill="#2E86AB" fill-opacity=".5" stroke="#2E86AB" stroke-opacity=".55"/>
<circle cx="1677.9" cy="784.8" r="4.45" fill="#2E86AB" fill-opacity=".5" stroke="#2E86AB" stroke-opacity=".55"/>
<circle cx="1724.8" cy="574.8" r="4.45" fill="#2E86AB" fill-opacity=".5" stroke="#2E86AB" stroke-opacity=".55"/>
<circle cx="1745.7" cy="546.7" r="4.45" fill="#2E86AB" fill-opacity=".5" stroke="#2E86AB" stroke-opacity=".55"/>
<circle cx="1790.5" cy="544.8" r="4.45" fill="#2E86AB" fill-opacity=".5" stroke="#2E86AB" stroke-opacity=".55"/>
<circle cx="1802.7" cy="553.8" r="4.45" fill="#2E86AB" fill-opacity=".5" stroke="#2E86AB" stroke-opacity=".55"/>
<circle cx="1805.9" cy="588.8" r="4.45" fill="#2E86AB" fill-opacity=".5" stroke="#2E86AB" stroke-opacity=".55"/>
<circle cx="1820.7" cy="600.7" r="4.45" fill="#2E86AB" fill-opacity=".5" stroke="#2E86AB" stroke-opacity=".55"/>
<circle cx="1828.6" cy="606.8" r="4.45" fill="#2E86AB" fill-opacity=".5" stroke="#2E86AB" stroke-opacity=".55"/>
<circle cx="1803.7" cy="610.8" r="4.45" fill="#2E86AB" fill-opacity=".5" stroke="#2E86AB" stroke-opacity=".55"/>
<circle cx="1786.8" cy="634.6" r="4.45" fill="#2E86AB" fill-opacity=".5" stroke="#2E86AB" stroke-opacity=".55"/>
<circle cx="1751.8" cy="645.7" r="4.45" fill="#2E86AB" fill-opacity=".5" stroke="#2E86AB" stroke-opacity=".55"/>
<circle cx="1823.9" cy="642.8" r="4.45" fill="#2E86AB" fill-opacity=".5" stroke="#2E86AB" stroke-opacity=".55"/>
<circle cx="1843.7" cy="635.9" r="4.45" fill="#2E86AB" fill-opacity=".5" stroke="#2E86AB" stroke-opacity=".55"/>
<circle cx="1860.9" cy="580.8" r="4.45" fill="#2E86AB" fill-opacity=".5" stroke="#2E86AB" stroke-opacity=".55"/>
<circle cx="1766.7" cy="664.8" r="4.45" fill="#2E86AB" fill-opacity=".5" stroke="#2E86AB" stroke-opacity=".55"/>
<circle cx="1769.6" cy="667.7" r="4.45" fill="#2E86AB" fill-opacity=".5" stroke="#2E86AB" stroke-opacity=".55"/>
<circle cx="1775.7" cy="664.8" r="4.45" fill="#2E86AB" fill-opacity=".5" stroke="#2E86AB" stroke-opacity=".55"/>
<circle cx="1749.7" cy="672.7" r="4.45" fill="#2E86AB" fill-opacity=".5" stroke="#2E86AB" stroke-opacity=".55"/>
<circle cx="1745.7" cy="677.8" r="4.45" fill="#2E86AB" fill-opacity=".5" stroke="#2E86AB" stroke-opacity=".55"/>
<circle cx="1751.8" cy="688.6" r="4.45" fill="#2E86AB" fill-opacity=".5" stroke="#2E86AB" stroke-opacity=".55"/>
<circle cx="1837.6" cy="679.6" r="4.45" fill="#2E86AB" fill-opacity=".5" stroke="#2E86AB" stroke-opacity=".55"/>
<circle cx="1919.7" cy="661.6" r="4.45" fill="#2E86AB" fill-opacity=".5" stroke="#2E86AB" stroke-opacity=".55"/>
<circle cx="1959.7" cy="656.6" r="4.45" fill="#2E86AB" fill-opacity=".5" stroke="#2E86AB" stroke-opacity=".55"/>
<circle cx="1862" cy="703.7" r="4.45" fill="#2E86AB" fill-opacity=".5" stroke="#2E86AB" stroke-opacity=".55"/>
<circle cx="1805.6" cy="704.3" r="4.45" fill="#2E86AB" fill-opacity=".5" stroke="#2E86AB" stroke-opacity=".55"/>
<circle cx="1790.8" cy="708.8" r="4.45" fill="#2E86AB" fill-opacity=".5" stroke="#2E86AB" stroke-opacity=".55"/>
<circle cx="1782.8" cy="724.7" r="4.45" fill="#2E86AB" fill-opacity=".5" stroke="#2E86AB" stroke-opacity=".55"/>
<circle cx="1821.8" cy="726.8" r="4.45" fill="#2E86AB" fill-opacity=".5" stroke="#2E86AB" stroke-opacity=".55"/>
<circle cx="1798.7" cy="734.7" r="4.45" fill="#2E86AB" fill-opacity=".5" stroke="#2E86AB" stroke-opacity=".55"/>
<circle cx="1787.9" cy="746.6" r="4.45" fill="#2E86AB" fill-opacity=".5" stroke="#2E86AB" stroke-opacity=".55"/>
<circle cx="1751.8" cy="734.7" r="4.45" fill="#2E86AB" fill-opacity=".5" stroke="#2E86AB" stroke-opacity=".55"/>
<circle cx="1737.8" cy="737.6" r="4.45" fill="#2E86AB" fill-opacity=".5" stroke="#2E86AB" stroke-opacity=".55"/>
<circle cx="1738.6" cy="718.8" r="4.45" fill="#2E86AB" fill-opacity=".5" stroke="#2E86AB" stroke-opacity=".55"/>
<circle cx="1730.7" cy="713.8" r="4.45" fill="#2E86AB" fill-opacity=".5" stroke="#2E86AB" stroke-opacity=".55"/>
<circle cx="1730.7" cy="727.8" r="4.45" fill="#2E86AB" fill-opacity=".5" stroke="#2E86AB" stroke-opacity=".55"/>
<circle cx="1771.7" cy="758.8" r="4.45" fill="#2E86AB" fill-opacity=".5" stroke="#2E86AB" stroke-opacity=".55"/>
<circle cx="1918.9" cy="743.7" r="4.45" fill="#2E86AB" fill-opacity=".5" stroke="#2E86AB" stroke-opacity=".55"/>
<circle cx="1723.8" cy="677.8" r="4.45" fill="#2E86AB" fill-opacity=".5" stroke="#2E86AB" stroke-opacity=".55"/>
<circle cx="1723.8" cy="682.8" r="4.45" fill="#2E86AB" fill-opacity=".5" stroke="#2E86AB" stroke-opacity=".55"/>
<circle cx="1722.7" cy="795.6" r="4.45" fill="#2E86AB" fill-opacity=".5" stroke="#2E86AB" stroke-opacity=".55"/>
<circle cx="1726.7" cy="807.5" r="4.45" fill="#2E86AB" fill-opacity=".5" stroke="#2E86AB" stroke-opacity=".55"/>
<circle cx="1735.7" cy="750.6" r="4.45" fill="#2E86AB" fill-opacity=".5" stroke="#2E86AB" stroke-opacity=".55"/>
<circle cx="1365.7" cy="822.7" r="4.45" fill="#2E86AB" fill-opacity=".5" stroke="#2E86AB" stroke-opacity=".55"/>
<circle cx="1851.9" cy="352.8" r="4.45" fill="#D62828" fill-opacity=".5" stroke="#D62828" stroke-opacity=".55"/>
<circle cx="1727.4" cy="412.6" r="4.45" fill="#D62828" fill-opacity=".5" stroke="#D62828" stroke-opacity=".55"/>
<circle cx="1890.8" cy="437.8" r="4.45" fill="#D62828" fill-opacity=".5" stroke="#D62828" stroke-opacity=".55"/>
<circle cx="1852.7" cy="474.8" r="4.45" fill="#D62828" fill-opacity=".5" stroke="#D62828" stroke-opacity=".55"/>
<circle cx="1869.9" cy="488.6" r="4.45" fill="#D62828" fill-opacity=".5" stroke="#D62828" stroke-opacity=".55"/>
<circle cx="1784.9" cy="498.7" r="4.45" fill="#D62828" fill-opacity=".5" stroke="#D62828" stroke-opacity=".55"/>
<circle cx="1744.6" cy="511.6" r="4.45" fill="#D62828" fill-opacity=".5" stroke="#D62828" stroke-opacity=".55"/>
<circle cx="1776.7" cy="512.7" r="4.45" fill="#D62828" fill-opacity=".5" stroke="#D62828" stroke-opacity=".55"/>
<circle cx="1748.6" cy="529.7" r="4.45" fill="#D62828" fill-opacity=".5" stroke="#D62828" stroke-opacity=".55"/>
<circle cx="1815.6" cy="519.9" r="4.45" fill="#D62828" fill-opacity=".5" stroke="#D62828" stroke-opacity=".55"/>
<circle cx="1825.9" cy="522.8" r="4.45" fill="#D62828" fill-opacity=".5" stroke="#D62828" stroke-opacity=".55"/>
<circle cx="1850.8" cy="513.8" r="4.45" fill="#D62828" fill-opacity=".5" stroke="#D62828" stroke-opacity=".55"/>
<circle cx="1849.8" cy="524.6" r="4.45" fill="#D62828" fill-opacity=".5" stroke="#D62828" stroke-opacity=".55"/>
<circle cx="1797.6" cy="534.4" r="4.45" fill="#D62828" fill-opacity=".5" stroke="#D62828" stroke-opacity=".55"/>
<circle cx="1802.9" cy="539.2" r="4.45" fill="#D62828" fill-opacity=".5" stroke="#D62828" stroke-opacity=".55"/>
<circle cx="1912.5" cy="515.6" r="4.45" fill="#D62828" fill-opacity=".5" stroke="#D62828" stroke-opacity=".55"/>
<circle cx="1920.2" cy="513.8" r="4.45" fill="#D62828" fill-opacity=".5" stroke="#D62828" stroke-opacity=".55"/>
<circle cx="2000.7" cy="501.6" r="4.45" fill="#D62828" fill-opacity=".5" stroke="#D62828" stroke-opacity=".55"/>
<circle cx="2016.9" cy="531.5" r="4.45" fill="#D62828" fill-opacity=".5" stroke="#D62828" stroke-opacity=".55"/>
<circle cx="1796.6" cy="544.8" r="4.45" fill="#D62828" fill-opacity=".5" stroke="#D62828" stroke-opacity=".55"/>
<circle cx="1811.7" cy="550.7" r="4.45" fill="#D62828" fill-opacity=".5" stroke="#D62828" stroke-opacity=".55"/>
<circle cx="1763.8" cy="548.8" r="4.45" fill="#D62828" fill-opacity=".5" stroke="#D62828" stroke-opacity=".55"/>
<circle cx="1756.6" cy="553.8" r="4.45" fill="#D62828" fill-opacity=".5" stroke="#D62828" stroke-opacity=".55"/>
<circle cx="1742.8" cy="553.8" r="4.45" fill="#D62828" fill-opacity=".5" stroke="#D62828" stroke-opacity=".55"/>
<circle cx="1739.7" cy="567.9" r="4.45" fill="#D62828" fill-opacity=".5" stroke="#D62828" stroke-opacity=".55"/>
<circle cx="1784.7" cy="573.7" r="4.45" fill="#D62828" fill-opacity=".5" stroke="#D62828" stroke-opacity=".55"/>
<circle cx="1801.6" cy="567.9" r="4.45" fill="#D62828" fill-opacity=".5" stroke="#D62828" stroke-opacity=".55"/>
<circle cx="1724.8" cy="610.8" r="4.45" fill="#D62828" fill-opacity=".5" stroke="#D62828" stroke-opacity=".55"/>
<circle cx="1745.7" cy="613.7" r="4.45" fill="#D62828" fill-opacity=".5" stroke="#D62828" stroke-opacity=".55"/>
<circle cx="1784.7" cy="594.6" r="4.45" fill="#D62828" fill-opacity=".5" stroke="#D62828" stroke-opacity=".55"/>
<circle cx="1790.8" cy="595.7" r="4.45" fill="#D62828" fill-opacity=".5" stroke="#D62828" stroke-opacity=".55"/>
<circle cx="1798.7" cy="607.9" r="4.45" fill="#D62828" fill-opacity=".5" stroke="#D62828" stroke-opacity=".55"/>
<circle cx="1796.6" cy="612.9" r="4.45" fill="#D62828" fill-opacity=".5" stroke="#D62828" stroke-opacity=".55"/>
<circle cx="1816.7" cy="593.8" r="4.45" fill="#D62828" fill-opacity=".5" stroke="#D62828" stroke-opacity=".55"/>
<circle cx="1827.8" cy="585.9" r="4.45" fill="#D62828" fill-opacity=".5" stroke="#D62828" stroke-opacity=".55"/>
<circle cx="1843.7" cy="589.9" r="4.45" fill="#D62828" fill-opacity=".5" stroke="#D62828" stroke-opacity=".55"/>
<circle cx="1865.7" cy="570.8" r="4.45" fill="#D62828" fill-opacity=".5" stroke="#D62828" stroke-opacity=".55"/>
<circle cx="1870.7" cy="553.8" r="4.45" fill="#D62828" fill-opacity=".5" stroke="#D62828" stroke-opacity=".55"/>
<circle cx="1873.7" cy="553.8" r="4.45" fill="#D62828" fill-opacity=".5" stroke="#D62828" stroke-opacity=".55"/>
<circle cx="1899.9" cy="544.8" r="4.45" fill="#D62828" fill-opacity=".5" stroke="#D62828" stroke-opacity=".55"/>
<circle cx="1909.7" cy="562.8" r="4.45" fill="#D62828" fill-opacity=".5" stroke="#D62828" stroke-opacity=".55"/>
<circle cx="1897.8" cy="569.7" r="4.45" fill="#D62828" fill-opacity=".5" stroke="#D62828" stroke-opacity=".55"/>
<circle cx="1891.7" cy="583.8" r="4.45" fill="#D62828" fill-opacity=".5" stroke="#D62828" stroke-opacity=".55"/>
<circle cx="1891.7" cy="588.8" r="4.45" fill="#D62828" fill-opacity=".5" stroke="#D62828" stroke-opacity=".55"/>
<circle cx="1907.3" cy="590.4" r="4.45" fill="#D62828" fill-opacity=".5" stroke="#D62828" stroke-opacity=".55"/>
<circle cx="1908.4" cy="591.2" r="4.45" fill="#D62828" fill-opacity=".5" stroke="#D62828" stroke-opacity=".55"/>
<circle cx="1919.7" cy="588.8" r="4.45" fill="#D62828" fill-opacity=".5" stroke="#D62828" stroke-opacity=".55"/>
<circle cx="1929.8" cy="596.7" r="4.45" fill="#D62828" fill-opacity=".5" stroke="#D62828" stroke-opacity=".55"/>
<circle cx="1901.7" cy="604.7" r="4.45" fill="#D62828" fill-opacity=".5" stroke="#D62828" stroke-opacity=".55"/>
<circle cx="1859.6" cy="596.7" r="4.45" fill="#D62828" fill-opacity=".5" stroke="#D62828" stroke-opacity=".55"/>
<circle cx="1869.7" cy="595.7" r="4.45" fill="#D62828" fill-opacity=".5" stroke="#D62828" stroke-opacity=".55"/>
<circle cx="1863.9" cy="601.8" r="4.45" fill="#D62828" fill-opacity=".5" stroke="#D62828" stroke-opacity=".55"/>
<circle cx="1859.9" cy="609.7" r="4.45" fill="#D62828" fill-opacity=".5" stroke="#D62828" stroke-opacity=".55"/>
<circle cx="1843.7" cy="607.9" r="4.45" fill="#D62828" fill-opacity=".5" stroke="#D62828" stroke-opacity=".55"/>
<circle cx="1838.7" cy="608.7" r="4.45" fill="#D62828" fill-opacity=".5" stroke="#D62828" stroke-opacity=".55"/>
<circle cx="1840.3" cy="614.2" r="4.45" fill="#D62828" fill-opacity=".5" stroke="#D62828" stroke-opacity=".55"/>
<circle cx="1841.3" cy="615.3" r="4.45" fill="#D62828" fill-opacity=".5" stroke="#D62828" stroke-opacity=".55"/>
<circle cx="1826.8" cy="617.7" r="4.45" fill="#D62828" fill-opacity=".5" stroke="#D62828" stroke-opacity=".55"/>
<circle cx="1822.8" cy="622.7" r="4.45" fill="#D62828" fill-opacity=".5" stroke="#D62828" stroke-opacity=".55"/>
<circle cx="1845.9" cy="625.6" r="4.45" fill="#D62828" fill-opacity=".5" stroke="#D62828" stroke-opacity=".55"/>
<circle cx="1817.8" cy="635.9" r="4.45" fill="#D62828" fill-opacity=".5" stroke="#D62828" stroke-opacity=".55"/>
<circle cx="1834.7" cy="644.7" r="4.45" fill="#D62828" fill-opacity=".5" stroke="#D62828" stroke-opacity=".55"/>
<circle cx="1841.9" cy="649.7" r="4.45" fill="#D62828" fill-opacity=".5" stroke="#D62828" stroke-opacity=".55"/>
<circle cx="1812.7" cy="653.7" r="4.45" fill="#D62828" fill-opacity=".5" stroke="#D62828" stroke-opacity=".55"/>
<circle cx="1862.8" cy="638.6" r="4.45" fill="#D62828" fill-opacity=".5" stroke="#D62828" stroke-opacity=".55"/>
<circle cx="1876.8" cy="634.6" r="4.45" fill="#D62828" fill-opacity=".5" stroke="#D62828" stroke-opacity=".55"/>
<circle cx="1883.7" cy="634.6" r="4.45" fill="#D62828" fill-opacity=".5" stroke="#D62828" stroke-opacity=".55"/>
<circle cx="1879.8" cy="646.5" r="4.45" fill="#D62828" fill-opacity=".5" stroke="#D62828" stroke-opacity=".55"/>
<circle cx="1892.7" cy="643.6" r="4.45" fill="#D62828" fill-opacity=".5" stroke="#D62828" stroke-opacity=".55"/>
<circle cx="1917.9" cy="641.8" r="4.45" fill="#D62828" fill-opacity=".5" stroke="#D62828" stroke-opacity=".55"/>
<circle cx="1923.7" cy="629.8" r="4.45" fill="#D62828" fill-opacity=".5" stroke="#D62828" stroke-opacity=".55"/>
<circle cx="1947.8" cy="625.6" r="4.45" fill="#D62828" fill-opacity=".5" stroke="#D62828" stroke-opacity=".55"/>
<circle cx="1952.8" cy="632.8" r="4.45" fill="#D62828" fill-opacity=".5" stroke="#D62828" stroke-opacity=".55"/>
<circle cx="1965.8" cy="638.6" r="4.45" fill="#D62828" fill-opacity=".5" stroke="#D62828" stroke-opacity=".55"/>
<circle cx="1956.8" cy="604.7" r="4.45" fill="#D62828" fill-opacity=".5" stroke="#D62828" stroke-opacity=".55"/>
<circle cx="1968.7" cy="604.7" r="4.45" fill="#D62828" fill-opacity=".5" stroke="#D62828" stroke-opacity=".55"/>
<circle cx="1947.8" cy="577.9" r="4.45" fill="#D62828" fill-opacity=".5" stroke="#D62828" stroke-opacity=".55"/>
<circle cx="1951.8" cy="572.6" r="4.45" fill="#D62828" fill-opacity=".5" stroke="#D62828" stroke-opacity=".55"/>
<circle cx="1970.9" cy="580.8" r="4.45" fill="#D62828" fill-opacity=".5" stroke="#D62828" stroke-opacity=".55"/>
<circle cx="1937.7" cy="559.7" r="4.45" fill="#D62828" fill-opacity=".5" stroke="#D62828" stroke-opacity=".55"/>
<circle cx="1950.7" cy="559.7" r="4.45" fill="#D62828" fill-opacity=".5" stroke="#D62828" stroke-opacity=".55"/>
<circle cx="2000" cy="609.7" r="4.45" fill="#D62828" fill-opacity=".5" stroke="#D62828" stroke-opacity=".55"/>
<circle cx="2020.6" cy="587.7" r="4.45" fill="#D62828" fill-opacity=".5" stroke="#D62828" stroke-opacity=".55"/>
<circle cx="2018.8" cy="635.9" r="4.45" fill="#D62828" fill-opacity=".5" stroke="#D62828" stroke-opacity=".55"/>
<circle cx="2098" cy="552.8" r="4.45" fill="#D62828" fill-opacity=".5" stroke="#D62828" stroke-opacity=".55"/>
<circle cx="1975.6" cy="652.6" r="4.45" fill="#D62828" fill-opacity=".5" stroke="#D62828" stroke-opacity=".55"/>
<circle cx="1980.9" cy="651.6" r="4.45" fill="#D62828" fill-opacity=".5" stroke="#D62828" stroke-opacity=".55"/>
<circle cx="1993.9" cy="650.8" r="4.45" fill="#D62828" fill-opacity=".5" stroke="#D62828" stroke-opacity=".55"/>
<circle cx="1998.9" cy="648.6" r="4.45" fill="#D62828" fill-opacity=".5" stroke="#D62828" stroke-opacity=".55"/>
<circle cx="1963.7" cy="661.6" r="4.45" fill="#D62828" fill-opacity=".5" stroke="#D62828" stroke-opacity=".55"/>
<circle cx="1916.8" cy="664.8" r="4.45" fill="#D62828" fill-opacity=".5" stroke="#D62828" stroke-opacity=".55"/>
<circle cx="1925.8" cy="671.7" r="4.45" fill="#D62828" fill-opacity=".5" stroke="#D62828" stroke-opacity=".55"/>
<circle cx="1947.8" cy="674.6" r="4.45" fill="#D62828" fill-opacity=".5" stroke="#D62828" stroke-opacity=".55"/>
<circle cx="1884.8" cy="670.6" r="4.45" fill="#D62828" fill-opacity=".5" stroke="#D62828" stroke-opacity=".55"/>
<circle cx="1843.7" cy="665.6" r="4.45" fill="#D62828" fill-opacity=".5" stroke="#D62828" stroke-opacity=".55"/>
<circle cx="1846.6" cy="663.7" r="4.45" fill="#D62828" fill-opacity=".5" stroke="#D62828" stroke-opacity=".55"/>
<circle cx="1829.7" cy="670.6" r="4.45" fill="#D62828" fill-opacity=".5" stroke="#D62828" stroke-opacity=".55"/>
<circle cx="1770.6" cy="634.6" r="4.45" fill="#D62828" fill-opacity=".5" stroke="#D62828" stroke-opacity=".55"/>
<circle cx="1762.7" cy="639.6" r="4.45" fill="#D62828" fill-opacity=".5" stroke="#D62828" stroke-opacity=".55"/>
<circle cx="1773.8" cy="647.6" r="4.45" fill="#D62828" fill-opacity=".5" stroke="#D62828" stroke-opacity=".55"/>
<circle cx="1780.7" cy="655.5" r="4.45" fill="#D62828" fill-opacity=".5" stroke="#D62828" stroke-opacity=".55"/>
<circle cx="1746.8" cy="672.7" r="4.45" fill="#D62828" fill-opacity=".5" stroke="#D62828" stroke-opacity=".55"/>
<circle cx="1671.9" cy="692.6" r="4.45" fill="#D62828" fill-opacity=".5" stroke="#D62828" stroke-opacity=".55"/>
<circle cx="1712.6" cy="717.8" r="4.45" fill="#D62828" fill-opacity=".5" stroke="#D62828" stroke-opacity=".55"/>
<circle cx="1708.7" cy="748.8" r="4.45" fill="#D62828" fill-opacity=".5" stroke="#D62828" stroke-opacity=".55"/>
<circle cx="1790.8" cy="684.7" r="4.45" fill="#D62828" fill-opacity=".5" stroke="#D62828" stroke-opacity=".55"/>
<circle cx="1781.8" cy="695.8" r="4.45" fill="#D62828" fill-opacity=".5" stroke="#D62828" stroke-opacity=".55"/>
<circle cx="1814.9" cy="679.6" r="4.45" fill="#D62828" fill-opacity=".5" stroke="#D62828" stroke-opacity=".55"/>
<circle cx="1808.8" cy="687.8" r="4.45" fill="#D62828" fill-opacity=".5" stroke="#D62828" stroke-opacity=".55"/>
<circle cx="1833.7" cy="689.7" r="4.45" fill="#D62828" fill-opacity=".5" stroke="#D62828" stroke-opacity=".55"/>
<circle cx="1841.9" cy="684.7" r="4.45" fill="#D62828" fill-opacity=".5" stroke="#D62828" stroke-opacity=".55"/>
<circle cx="1852.7" cy="686.8" r="4.45" fill="#D62828" fill-opacity=".5" stroke="#D62828" stroke-opacity=".55"/>
<circle cx="1853.8" cy="694.7" r="4.45" fill="#D62828" fill-opacity=".5" stroke="#D62828" stroke-opacity=".55"/>
<circle cx="1867.8" cy="699.8" r="4.45" fill="#D62828" fill-opacity=".5" stroke="#D62828" stroke-opacity=".55"/>
<circle cx="1886.6" cy="700.8" r="4.45" fill="#D62828" fill-opacity=".5" stroke="#D62828" stroke-opacity=".55"/>
<circle cx="1893.8" cy="691.8" r="4.45" fill="#D62828" fill-opacity=".5" stroke="#D62828" stroke-opacity=".55"/>
<circle cx="1915.8" cy="689.7" r="4.45" fill="#D62828" fill-opacity=".5" stroke="#D62828" stroke-opacity=".55"/>
<circle cx="1911.8" cy="696.8" r="4.45" fill="#D62828" fill-opacity=".5" stroke="#D62828" stroke-opacity=".55"/>
<circle cx="1913.9" cy="696.8" r="4.45" fill="#D62828" fill-opacity=".5" stroke="#D62828" stroke-opacity=".55"/>
<circle cx="1926.6" cy="692.6" r="4.45" fill="#D62828" fill-opacity=".5" stroke="#D62828" stroke-opacity=".55"/>
<circle cx="1941.7" cy="689.7" r="4.45" fill="#D62828" fill-opacity=".5" stroke="#D62828" stroke-opacity=".55"/>
<circle cx="1955.8" cy="694.7" r="4.45" fill="#D62828" fill-opacity=".5" stroke="#D62828" stroke-opacity=".55"/>
<circle cx="1943.8" cy="700.8" r="4.45" fill="#D62828" fill-opacity=".5" stroke="#D62828" stroke-opacity=".55"/>
<circle cx="1950.7" cy="705.6" r="4.45" fill="#D62828" fill-opacity=".5" stroke="#D62828" stroke-opacity=".55"/>
<circle cx="1965.8" cy="710.9" r="4.45" fill="#D62828" fill-opacity=".5" stroke="#D62828" stroke-opacity=".55"/>
<circle cx="1971.6" cy="684.7" r="4.45" fill="#D62828" fill-opacity=".5" stroke="#D62828" stroke-opacity=".55"/>
<circle cx="1980.9" cy="689.7" r="4.45" fill="#D62828" fill-opacity=".5" stroke="#D62828" stroke-opacity=".55"/>
<circle cx="1984.9" cy="716.7" r="4.45" fill="#D62828" fill-opacity=".5" stroke="#D62828" stroke-opacity=".55"/>
<circle cx="1949.7" cy="724.7" r="4.45" fill="#D62828" fill-opacity=".5" stroke="#D62828" stroke-opacity=".55"/>
<circle cx="1963.7" cy="734.7" r="4.45" fill="#D62828" fill-opacity=".5" stroke="#D62828" stroke-opacity=".55"/>
<circle cx="1968.7" cy="737.6" r="4.45" fill="#D62828" fill-opacity=".5" stroke="#D62828" stroke-opacity=".55"/>
<circle cx="2049" cy="734.7" r="4.45" fill="#D62828" fill-opacity=".5" stroke="#D62828" stroke-opacity=".55"/>
<circle cx="1740.7" cy="705.6" r="4.45" fill="#D62828" fill-opacity=".5" stroke="#D62828" stroke-opacity=".55"/>
<circle cx="1746.8" cy="708.8" r="4.45" fill="#D62828" fill-opacity=".5" stroke="#D62828" stroke-opacity=".55"/>
<circle cx="1765.6" cy="712.7" r="4.45" fill="#D62828" fill-opacity=".5" stroke="#D62828" stroke-opacity=".55"/>
<circle cx="1788.6" cy="717.8" r="4.45" fill="#D62828" fill-opacity=".5" stroke="#D62828" stroke-opacity=".55"/>
<circle cx="1807.7" cy="705.3" r="4.45" fill="#D62828" fill-opacity=".5" stroke="#D62828" stroke-opacity=".55"/>
<circle cx="1828.6" cy="703.7" r="4.45" fill="#D62828" fill-opacity=".5" stroke="#D62828" stroke-opacity=".55"/>
<circle cx="1829.7" cy="711.7" r="4.45" fill="#D62828" fill-opacity=".5" stroke="#D62828" stroke-opacity=".55"/>
<circle cx="1838.7" cy="709.8" r="4.45" fill="#D62828" fill-opacity=".5" stroke="#D62828" stroke-opacity=".55"/>
<circle cx="1845.9" cy="716.7" r="4.45" fill="#D62828" fill-opacity=".5" stroke="#D62828" stroke-opacity=".55"/>
<circle cx="1856.7" cy="712.7" r="4.45" fill="#D62828" fill-opacity=".5" stroke="#D62828" stroke-opacity=".55"/>
<circle cx="1857.8" cy="722.8" r="4.45" fill="#D62828" fill-opacity=".5" stroke="#D62828" stroke-opacity=".55"/>
<circle cx="1870.7" cy="714.9" r="4.45" fill="#D62828" fill-opacity=".5" stroke="#D62828" stroke-opacity=".55"/>
<circle cx="1866.8" cy="731.8" r="4.45" fill="#D62828" fill-opacity=".5" stroke="#D62828" stroke-opacity=".55"/>
<circle cx="1891.7" cy="722.8" r="4.45" fill="#D62828" fill-opacity=".5" stroke="#D62828" stroke-opacity=".55"/>
<circle cx="1897.8" cy="722.8" r="4.45" fill="#D62828" fill-opacity=".5" stroke="#D62828" stroke-opacity=".55"/>
<circle cx="1889.8" cy="732.9" r="4.45" fill="#D62828" fill-opacity=".5" stroke="#D62828" stroke-opacity=".55"/>
<circle cx="1907.8" cy="726.8" r="4.45" fill="#D62828" fill-opacity=".5" stroke="#D62828" stroke-opacity=".55"/>
<circle cx="1915.8" cy="731.8" r="4.45" fill="#D62828" fill-opacity=".5" stroke="#D62828" stroke-opacity=".55"/>
<circle cx="1911.8" cy="737.6" r="4.45" fill="#D62828" fill-opacity=".5" stroke="#D62828" stroke-opacity=".55"/>
<circle cx="1791.8" cy="737.6" r="4.45" fill="#D62828" fill-opacity=".5" stroke="#D62828" stroke-opacity=".55"/>
<circle cx="1803.7" cy="744.8" r="4.45" fill="#D62828" fill-opacity=".5" stroke="#D62828" stroke-opacity=".55"/>
<circle cx="1807.7" cy="751.7" r="4.45" fill="#D62828" fill-opacity=".5" stroke="#D62828" stroke-opacity=".55"/>
<circle cx="1753.7" cy="749.8" r="4.45" fill="#D62828" fill-opacity=".5" stroke="#D62828" stroke-opacity=".55"/>
<circle cx="1734.6" cy="750.6" r="4.45" fill="#D62828" fill-opacity=".5" stroke="#D62828" stroke-opacity=".55"/>
<circle cx="1771.7" cy="757.8" r="4.45" fill="#D62828" fill-opacity=".5" stroke="#D62828" stroke-opacity=".55"/>
<circle cx="1778.8" cy="765.7" r="4.45" fill="#D62828" fill-opacity=".5" stroke="#D62828" stroke-opacity=".55"/>
<circle cx="1823.9" cy="758.8" r="4.45" fill="#D62828" fill-opacity=".5" stroke="#D62828" stroke-opacity=".55"/>
<circle cx="1823.9" cy="763.8" r="4.45" fill="#D62828" fill-opacity=".5" stroke="#D62828" stroke-opacity=".55"/>
<circle cx="1849.8" cy="762.8" r="4.45" fill="#D62828" fill-opacity=".5" stroke="#D62828" stroke-opacity=".55"/>
<circle cx="1844.8" cy="775.8" r="4.45" fill="#D62828" fill-opacity=".5" stroke="#D62828" stroke-opacity=".55"/>
<circle cx="1862.8" cy="775.8" r="4.45" fill="#D62828" fill-opacity=".5" stroke="#D62828" stroke-opacity=".55"/>
<circle cx="1867.8" cy="775.8" r="4.45" fill="#D62828" fill-opacity=".5" stroke="#D62828" stroke-opacity=".55"/>
<circle cx="1861.7" cy="779.7" r="4.45" fill="#D62828" fill-opacity=".5" stroke="#D62828" stroke-opacity=".55"/>
<circle cx="1900.7" cy="771.8" r="4.45" fill="#D62828" fill-opacity=".5" stroke="#D62828" stroke-opacity=".55"/>
<circle cx="1914.7" cy="769.7" r="4.45" fill="#D62828" fill-opacity=".5" stroke="#D62828" stroke-opacity=".55"/>
<circle cx="1914.7" cy="775.8" r="4.45" fill="#D62828" fill-opacity=".5" stroke="#D62828" stroke-opacity=".55"/>
<circle cx="1930.9" cy="764.6" r="4.45" fill="#D62828" fill-opacity=".5" stroke="#D62828" stroke-opacity=".55"/>
<circle cx="1932.7" cy="766.8" r="4.45" fill="#D62828" fill-opacity=".5" stroke="#D62828" stroke-opacity=".55"/>
<circle cx="1938.8" cy="767.8" r="4.45" fill="#D62828" fill-opacity=".5" stroke="#D62828" stroke-opacity=".55"/>
<circle cx="2020.6" cy="775.8" r="4.45" fill="#D62828" fill-opacity=".5" stroke="#D62828" stroke-opacity=".55"/>
<circle cx="1853.8" cy="792.7" r="4.45" fill="#D62828" fill-opacity=".5" stroke="#D62828" stroke-opacity=".55"/>
<circle cx="1803.7" cy="801.7" r="4.45" fill="#D62828" fill-opacity=".5" stroke="#D62828" stroke-opacity=".55"/>
<circle cx="1823.9" cy="800.7" r="4.45" fill="#D62828" fill-opacity=".5" stroke="#D62828" stroke-opacity=".55"/>
<circle cx="1830.8" cy="803.6" r="4.45" fill="#D62828" fill-opacity=".5" stroke="#D62828" stroke-opacity=".55"/>
<circle cx="1980.9" cy="801.7" r="4.45" fill="#D62828" fill-opacity=".5" stroke="#D62828" stroke-opacity=".55"/>
<circle cx="1723.8" cy="793.8" r="4.45" fill="#D62828" fill-opacity=".5" stroke="#D62828" stroke-opacity=".55"/>
<circle cx="1787.6" cy="814.8" r="4.45" fill="#D62828" fill-opacity=".5" stroke="#D62828" stroke-opacity=".55"/>
<circle cx="1799.8" cy="814.8" r="4.45" fill="#D62828" fill-opacity=".5" stroke="#D62828" stroke-opacity=".55"/>
<circle cx="1836.8" cy="816.9" r="4.45" fill="#D62828" fill-opacity=".5" stroke="#D62828" stroke-opacity=".55"/>
<circle cx="1865.7" cy="815.8" r="4.45" fill="#D62828" fill-opacity=".5" stroke="#D62828" stroke-opacity=".55"/>
<circle cx="1884.8" cy="823.8" r="4.45" fill="#D62828" fill-opacity=".5" stroke="#D62828" stroke-opacity=".55"/>
<circle cx="1906.8" cy="817.7" r="4.45" fill="#D62828" fill-opacity=".5" stroke="#D62828" stroke-opacity=".55"/>
<circle cx="1908.9" cy="831.7" r="4.45" fill="#D62828" fill-opacity=".5" stroke="#D62828" stroke-opacity=".55"/>
<circle cx="1925.8" cy="826.7" r="4.45" fill="#D62828" fill-opacity=".5" stroke="#D62828" stroke-opacity=".55"/>
<circle cx="1948.9" cy="823.8" r="4.45" fill="#D62828" fill-opacity=".5" stroke="#D62828" stroke-opacity=".55"/>
<circle cx="1972.7" cy="821.7" r="4.45" fill="#D62828" fill-opacity=".5" stroke="#D62828" stroke-opacity=".55"/>
<circle cx="1838.7" cy="830.7" r="4.45" fill="#D62828" fill-opacity=".5" stroke="#D62828" stroke-opacity=".55"/>
<circle cx="1858.8" cy="830.7" r="4.45" fill="#D62828" fill-opacity=".5" stroke="#D62828" stroke-opacity=".55"/>
<circle cx="1872.6" cy="838.9" r="4.45" fill="#D62828" fill-opacity=".5" stroke="#D62828" stroke-opacity=".55"/>
<circle cx="1865.7" cy="844.7" r="4.45" fill="#D62828" fill-opacity=".5" stroke="#D62828" stroke-opacity=".55"/>
<circle cx="1804.8" cy="841.8" r="4.45" fill="#D62828" fill-opacity=".5" stroke="#D62828" stroke-opacity=".55"/>
<circle cx="1887.7" cy="860.9" r="4.45" fill="#D62828" fill-opacity=".5" stroke="#D62828" stroke-opacity=".55"/>
<circle cx="1881.9" cy="866.7" r="4.45" fill="#D62828" fill-opacity=".5" stroke="#D62828" stroke-opacity=".55"/>
<circle cx="1898.8" cy="886.8" r="4.45" fill="#D62828" fill-opacity=".5" stroke="#D62828" stroke-opacity=".55"/>
<circle cx="1908.9" cy="887.6" r="4.45" fill="#D62828" fill-opacity=".5" stroke="#D62828" stroke-opacity=".55"/>
<circle cx="1708.7" cy="833.8" r="4.45" fill="#D62828" fill-opacity=".5" stroke="#D62828" stroke-opacity=".55"/>
<circle cx="1701.8" cy="890.8" r="4.45" fill="#D62828" fill-opacity=".5" stroke="#D62828" stroke-opacity=".55"/>
<circle cx="1705.8" cy="997.8" r="4.45" fill="#D62828" fill-opacity=".5" stroke="#D62828" stroke-opacity=".55"/>
</g>
<g fill="none" stroke-width="5.69" shape-rendering="crispEdges">
<path d="M1737.7 296.1 L1717.1 1054.6" stroke="#2E86AB"/>
<path d="M1431.3 296.5 L1437.3 301.3 L1443.3 306 L1449.3 310.8 L1455.3 315.6 L1461.3 320.3 L1467.3 325.1 L1473.2 329.9 L1479.2 334.6 L1485.1 339.4 L1491 344.2 L1496.8 348.9 L1502.7 353.7 L1508.5 358.5 L1514.4 363.2 L1520.2 368 L1525.9 372.7 L1531.7 377.5 L1537.4 382.3 L1543.1 387 L1548.8 391.8 L1554.5 396.6 L1560.1 401.3 L1565.7 406.1 L1571.3 410.9 L1576.8 415.6 L1582.3 420.4 L1587.8 425.2 L1593.2 429.9 L1598.6 434.7 L1604 439.5 L1609.3 444.2 L1614.6 449 L1619.9 453.8 L1625.1 458.5 L1630.2 463.3 L1635.3 468.1 L1640.4 472.8 L1645.4 477.6 L1650.4 482.4 L1655.2 487.1 L1660.1 491.9 L1664.9 496.6 L1669.6 501.4 L1674.2 506.2 L1678.8 510.9 L1683.3 515.7 L1687.7 520.5 L1692.1 525.2 L1696.3 530 L1700.5 534.8 L1704.6 539.5 L1708.6 544.3 L1712.5 549.1 L1716.2 553.8 L1719.9 558.6 L1723.5 563.4 L1727 568.1 L1730.3 572.9 L1733.5 577.7 L1736.6 582.4 L1739.5 587.2 L1742.3 592 L1745 596.7 L1747.5 601.5 L1749.9 606.3 L1752.1 611 L1754.2 615.8 L1756.1 620.5 L1757.8 625.3 L1759.4 630.1 L1760.8 634.8 L1762 639.6 L1763 644.4 L1763.9 649.1 L1764.5 653.9 L1765 658.7 L1765.3 663.4 L1765.5 668.2 L1765.4 673 L1765.1 677.7 L1764.7 682.5 L1764.1 687.3 L1763.3 692 L1762.4 696.8 L1761.2 701.6 L1759.9 706.3 L1758.4 711.1 L1756.8 715.9 L1755 720.6 L1753 725.4 L1750.9 730.2 L1748.7 734.9 L1746.3 739.7 L1743.7 744.4 L1741 749.2 L1738.2 754 L1735.3 758.7 L1732.3 763.5 L1729.1 768.3 L1725.8 773 L1722.4 777.8 L1718.9 782.6 L1715.4 787.3 L1711.7 792.1 L1707.9 796.9 L1704 801.6 L1700.1 806.4 L1696 811.2 L1691.9 815.9 L1687.8 820.7 L1683.5 825.5 L1679.2 830.2 L1674.8 835 L1670.3 839.8 L1665.8 844.5 L1661.3 849.3 L1656.6 854.1 L1652 858.8 L1647.2 863.6 L1642.5 868.3 L1637.6 873.1 L1632.8 877.9 L1627.9 882.6 L1622.9 887.4 L1617.9 892.2 L1612.9 896.9 L1607.9 901.7 L1602.8 906.5 L1597.6 911.2 L1592.5 916 L1587.3 920.8 L1582.1 925.5 L1576.8 930.3 L1571.5 935.1 L1566.2 939.8 L1560.9 944.6 L1555.5 949.4 L1550.2 954.1 L1544.8 958.9 L1539.3 963.7 L1533.9 968.4 L1528.4 973.2 L1522.9 978 L1517.4 982.7 L1511.9 987.5 L1506.4 992.2 L1500.8 997 L1495.3 1001.8 L1489.7 1006.5 L1484.1 1011.3 L1478.4 1016.1 L1472.8 1020.8 L1467.2 1025.6 L1461.5 1030.4 L1455.8 1035.1 L1450.1 1039.9 L1444.4 1044.7 L1438.7 1049.4 L1433 1054.2" stroke="#D62828" stroke-dasharray="24 24" stroke-dashoffset="-4"/>
<path d="M1747.2 1054.6 L1767.4 296.1" stroke="#06A77D" stroke-dasharray="5.97 17.91 23.88 17.91"/>
</g>
</g>
<rect x="1202" y="260" width="939" height="832" fill="none" stroke="#222" stroke-width="2" shape-rendering="crispEdges"/>
<g fill="#333" shape-rendering="crispEdges">
<rect x="1441" y="1093" width="3" height="9"/>
<rect x="1720" y="1093" width="3" height="9"/>
<rect x="1998" y="1093" width="3" height="9"/>
<rect x="1192" y="894" width="9" height="3"/>
<rect x="1192" y="670" width="9" height="3"/>
<rect x="1192" y="445" width="9" height="3"/>
</g>
<g font-size="29.87" fill="#4D4D4D" transform="scale(1 1.045)">
<text x="1442.2" y="1084.02" text-anchor="middle">-2</text>
<text x="1720.7" y="1084.02" text-anchor="middle">0</text>
<text x="1999.2" y="1084.02" text-anchor="middle">2</text>
<text x="1183.5" y="868.66" text-anchor="end">-2</text>
<text x="1183.5" y="653.83" text-anchor="end">0</text>
<text x="1183.5" y="439.00" text-anchor="end">2</text>
</g>
<text transform="translate(1670.3 1176.5) scale(1 1.045)" font-size="37.33" text-anchor="middle">X<tspan font-size="26.13" dy="7.2">1</tspan></text>
<text transform="translate(1134.6 676.5) rotate(-90) scale(1 1.045)" font-size="37.33" text-anchor="middle">X<tspan font-size="26.13" dy="7.2">2</tspan></text>
<text id="lt1" x="1399.5" y="1284.2" font-size="37.33" fill="#000" textLength="175.3" lengthAdjust="spacing">True Class</text>
<circle cx="1617.1" cy="1268.9" r="4.6" fill="#2E86AB" fill-opacity=".5" stroke="#2E86AB" stroke-opacity=".55"/>
<text id="l01" x="1658.5" y="1281" font-size="29.87" fill="#000">Class 0</text>
<circle cx="1801.1" cy="1268.9" r="4.6" fill="#D62828" fill-opacity=".5" stroke="#D62828" stroke-opacity=".55"/>
<text id="l11" x="1841.5" y="1281" font-size="29.87" fill="#000" textLength="97.6" lengthAdjust="spacing">Class 1</text>
<text id="pt2" x="2289.4" y="169.8" font-size="44.8" fill="#000" textLength="485.3" lengthAdjust="spacing">Contaminated Gaussian</text>
<text id="ps2" x="2290.5" y="234" font-size="37.33" fill="#000" textLength="626.9" lengthAdjust="spacing">QDA distorted; LDA and logistic similar</text>
<clipPath id="cp2"><rect x="2290" y="259" width="941" height="834"/></clipPath>
<g clip-path="url(#cp2)">
<g fill="#EBEBEB" shape-rendering="crispEdges">
<rect x="2369" y="259" width="1" height="834"/>
<rect x="2548" y="259" width="1" height="834"/>
<rect x="2728" y="259" width="1" height="834"/>
<rect x="2907" y="259" width="1" height="834"/>
<rect x="3086" y="259" width="1" height="834"/>
<rect x="2290" y="1002" width="941" height="1"/>
<rect x="2290" y="822" width="941" height="1"/>
<rect x="2290" y="642" width="941" height="1"/>
<rect x="2290" y="462" width="941" height="1"/>
<rect x="2290" y="283" width="941" height="1"/>
<rect x="2457" y="259" width="3" height="834"/>
<rect x="2637" y="259" width="3" height="834"/>
<rect x="2816" y="259" width="3" height="834"/>
<rect x="2995" y="259" width="3" height="834"/>
<rect x="3174" y="259" width="3" height="834"/>
<rect x="2290" y="1091" width="941" height="3"/>
<rect x="2290" y="911" width="941" height="3"/>
<rect x="2290" y="731" width="941" height="3"/>
<rect x="2290" y="551" width="941" height="3"/>
<rect x="2290" y="371" width="941" height="3"/>
</g>
<g stroke-width="1.2" shape-rendering="crispEdges">
<circle cx="2841.8" cy="391.7" r="4.45" fill="#2E86AB" fill-opacity=".5" stroke="#2E86AB" stroke-opacity=".55"/>
<circle cx="3074.6" cy="536.5" r="4.45" fill="#2E86AB" fill-opacity=".5" stroke="#2E86AB" stroke-opacity=".55"/>
<circle cx="2613.6" cy="588.8" r="4.45" fill="#2E86AB" fill-opacity=".5" stroke="#2E86AB" stroke-opacity=".55"/>
<circle cx="2479.6" cy="757.8" r="4.45" fill="#2E86AB" fill-opacity=".5" stroke="#2E86AB" stroke-opacity=".55"/>
<circle cx="2661.8" cy="763.8" r="4.45" fill="#2E86AB" fill-opacity=".5" stroke="#2E86AB" stroke-opacity=".55"/>
<circle cx="2889.8" cy="557.8" r="4.45" fill="#2E86AB" fill-opacity=".5" stroke="#2E86AB" stroke-opacity=".55"/>
<circle cx="2834.7" cy="619.8" r="4.45" fill="#2E86AB" fill-opacity=".5" stroke="#2E86AB" stroke-opacity=".55"/>
<circle cx="2350.9" cy="812.7" r="4.45" fill="#2E86AB" fill-opacity=".5" stroke="#2E86AB" stroke-opacity=".55"/>
<circle cx="2383.8" cy="902.7" r="4.45" fill="#2E86AB" fill-opacity=".5" stroke="#2E86AB" stroke-opacity=".55"/>
<circle cx="2547.7" cy="1000.7" r="4.45" fill="#2E86AB" fill-opacity=".5" stroke="#2E86AB" stroke-opacity=".55"/>
<circle cx="2652.8" cy="1036.7" r="4.45" fill="#2E86AB" fill-opacity=".5" stroke="#2E86AB" stroke-opacity=".55"/>
<circle cx="2670.8" cy="938.7" r="4.45" fill="#2E86AB" fill-opacity=".5" stroke="#2E86AB" stroke-opacity=".55"/>
<circle cx="2655.7" cy="830.7" r="4.45" fill="#2E86AB" fill-opacity=".5" stroke="#2E86AB" stroke-opacity=".55"/>
<circle cx="2692.8" cy="840.7" r="4.45" fill="#2E86AB" fill-opacity=".5" stroke="#2E86AB" stroke-opacity=".55"/>
<circle cx="2734.7" cy="823.8" r="4.45" fill="#2E86AB" fill-opacity=".5" stroke="#2E86AB" stroke-opacity=".55"/>
<circle cx="2734.7" cy="809.7" r="4.45" fill="#2E86AB" fill-opacity=".5" stroke="#2E86AB" stroke-opacity=".55"/>
<circle cx="2739.7" cy="808.9" r="4.45" fill="#2E86AB" fill-opacity=".5" stroke="#2E86AB" stroke-opacity=".55"/>
<circle cx="2742.9" cy="809.7" r="4.45" fill="#2E86AB" fill-opacity=".5" stroke="#2E86AB" stroke-opacity=".55"/>
<circle cx="2741.8" cy="801" r="4.45" fill="#2E86AB" fill-opacity=".5" stroke="#2E86AB" stroke-opacity=".55"/>
<circle cx="2758.8" cy="806.8" r="4.45" fill="#2E86AB" fill-opacity=".5" stroke="#2E86AB" stroke-opacity=".55"/>
<circle cx="2914.9" cy="844.7" r="4.45" fill="#2E86AB" fill-opacity=".5" stroke="#2E86AB" stroke-opacity=".55"/>
<circle cx="2833.6" cy="938.7" r="4.45" fill="#2E86AB" fill-opacity=".5" stroke="#2E86AB" stroke-opacity=".55"/>
<circle cx="2782.8" cy="817.7" r="4.45" fill="#2E86AB" fill-opacity=".5" stroke="#2E86AB" stroke-opacity=".55"/>
<circle cx="2783.8" cy="804.7" r="4.45" fill="#2E86AB" fill-opacity=".5" stroke="#2E86AB" stroke-opacity=".55"/>
<circle cx="2851.6" cy="803.1" r="4.45" fill="#2E86AB" fill-opacity=".5" stroke="#2E86AB" stroke-opacity=".55"/>
<circle cx="2826.7" cy="802.3" r="4.45" fill="#2E86AB" fill-opacity=".5" stroke="#2E86AB" stroke-opacity=".55"/>
<circle cx="2764" cy="643" r="4.45" fill="#2E86AB" fill-opacity=".5" stroke="#2E86AB" stroke-opacity=".55"/>
<circle cx="2740.9" cy="664.8" r="4.45" fill="#2E86AB" fill-opacity=".5" stroke="#2E86AB" stroke-opacity=".55"/>
<circle cx="2765" cy="667.7" r="4.45" fill="#2E86AB" fill-opacity=".5" stroke="#2E86AB" stroke-opacity=".55"/>
<circle cx="2733" cy="683.9" r="4.45" fill="#2E86AB" fill-opacity=".5" stroke="#2E86AB" stroke-opacity=".55"/>
<circle cx="2764" cy="687.8" r="4.45" fill="#2E86AB" fill-opacity=".5" stroke="#2E86AB" stroke-opacity=".55"/>
<circle cx="2778.9" cy="678.8" r="4.45" fill="#2E86AB" fill-opacity=".5" stroke="#2E86AB" stroke-opacity=".55"/>
<circle cx="2788.5" cy="679.2" r="4.45" fill="#2E86AB" fill-opacity=".5" stroke="#2E86AB" stroke-opacity=".55"/>
<circle cx="2789.5" cy="680.5" r="4.45" fill="#2E86AB" fill-opacity=".5" stroke="#2E86AB" stroke-opacity=".55"/>
<circle cx="2792.9" cy="686.5" r="4.45" fill="#2E86AB" fill-opacity=".5" stroke="#2E86AB" stroke-opacity=".55"/>
<circle cx="2810.1" cy="658.8" r="4.45" fill="#2E86AB" fill-opacity=".5" stroke="#2E86AB" stroke-opacity=".55"/>
<circle cx="2811.6" cy="668.4" r="4.45" fill="#2E86AB" fill-opacity=".5" stroke="#2E86AB" stroke-opacity=".55"/>
<circle cx="2793.5" cy="696.7" r="4.45" fill="#2E86AB" fill-opacity=".5" stroke="#2E86AB" stroke-opacity=".55"/>
<circle cx="2796.9" cy="697.5" r="4.45" fill="#2E86AB" fill-opacity=".5" stroke="#2E86AB" stroke-opacity=".55"/>
<circle cx="2802" cy="703.5" r="4.45" fill="#2E86AB" fill-opacity=".5" stroke="#2E86AB" stroke-opacity=".55"/>
<circle cx="2796.3" cy="705.2" r="4.45" fill="#2E86AB" fill-opacity=".5" stroke="#2E86AB" stroke-opacity=".55"/>
<circle cx="2757.4" cy="712.6" r="4.45" fill="#2E86AB" fill-opacity=".5" stroke="#2E86AB" stroke-opacity=".55"/>
<circle cx="2761.2" cy="712.6" r="4.45" fill="#2E86AB" fill-opacity=".5" stroke="#2E86AB" stroke-opacity=".55"/>
<circle cx="2781" cy="708.6" r="4.45" fill="#2E86AB" fill-opacity=".5" stroke="#2E86AB" stroke-opacity=".55"/>
<circle cx="2785" cy="712" r="4.45" fill="#2E86AB" fill-opacity=".5" stroke="#2E86AB" stroke-opacity=".55"/>
<circle cx="2788.4" cy="713.6" r="4.45" fill="#2E86AB" fill-opacity=".5" stroke="#2E86AB" stroke-opacity=".55"/>
<circle cx="2779.3" cy="715.9" r="4.45" fill="#2E86AB" fill-opacity=".5" stroke="#2E86AB" stroke-opacity=".55"/>
<circle cx="2795.2" cy="717" r="4.45" fill="#2E86AB" fill-opacity=".5" stroke="#2E86AB" stroke-opacity=".55"/>
<circle cx="2825.7" cy="687.6" r="4.45" fill="#2E86AB" fill-opacity=".5" stroke="#2E86AB" stroke-opacity=".55"/>
<circle cx="2818.9" cy="708.6" r="4.45" fill="#2E86AB" fill-opacity=".5" stroke="#2E86AB" stroke-opacity=".55"/>
<circle cx="2824.6" cy="707.4" r="4.45" fill="#2E86AB" fill-opacity=".5" stroke="#2E86AB" stroke-opacity=".55"/>
<circle cx="2720" cy="746.8" r="4.45" fill="#2E86AB" fill-opacity=".5" stroke="#2E86AB" stroke-opacity=".55"/>
<circle cx="2720" cy="753" r="4.45" fill="#2E86AB" fill-opacity=".5" stroke="#2E86AB" stroke-opacity=".55"/>
<circle cx="2709.8" cy="762" r="4.45" fill="#2E86AB" fill-opacity=".5" stroke="#2E86AB" stroke-opacity=".55"/>
<circle cx="2704.9" cy="770.8" r="4.45" fill="#2E86AB" fill-opacity=".5" stroke="#2E86AB" stroke-opacity=".55"/>
<circle cx="2723.9" cy="766.5" r="4.45" fill="#2E86AB" fill-opacity=".5" stroke="#2E86AB" stroke-opacity=".55"/>
<circle cx="2726.2" cy="771.1" r="4.45" fill="#2E86AB" fill-opacity=".5" stroke="#2E86AB" stroke-opacity=".55"/>
<circle cx="2725.1" cy="775" r="4.45" fill="#2E86AB" fill-opacity=".5" stroke="#2E86AB" stroke-opacity=".55"/>
<circle cx="2727.9" cy="777.9" r="4.45" fill="#2E86AB" fill-opacity=".5" stroke="#2E86AB" stroke-opacity=".55"/>
<circle cx="2727.9" cy="782.9" r="4.45" fill="#2E86AB" fill-opacity=".5" stroke="#2E86AB" stroke-opacity=".55"/>
<circle cx="2735.8" cy="738.8" r="4.45" fill="#2E86AB" fill-opacity=".5" stroke="#2E86AB" stroke-opacity=".55"/>
<circle cx="2747.9" cy="727.5" r="4.45" fill="#2E86AB" fill-opacity=".5" stroke="#2E86AB" stroke-opacity=".55"/>
<circle cx="2743.7" cy="744.5" r="4.45" fill="#2E86AB" fill-opacity=".5" stroke="#2E86AB" stroke-opacity=".55"/>
<circle cx="2753.9" cy="732.6" r="4.45" fill="#2E86AB" fill-opacity=".5" stroke="#2E86AB" stroke-opacity=".55"/>
<circle cx="2752.2" cy="737.7" r="4.45" fill="#2E86AB" fill-opacity=".5" stroke="#2E86AB" stroke-opacity=".55"/>
<circle cx="2756.7" cy="738.3" r="4.45" fill="#2E86AB" fill-opacity=".5" stroke="#2E86AB" stroke-opacity=".55"/>
<circle cx="2759" cy="740.5" r="4.45" fill="#2E86AB" fill-opacity=".5" stroke="#2E86AB" stroke-opacity=".55"/>
<circle cx="2733" cy="755.8" r="4.45" fill="#2E86AB" fill-opacity=".5" stroke="#2E86AB" stroke-opacity=".55"/>
<circle cx="2737.5" cy="753" r="4.45" fill="#2E86AB" fill-opacity=".5" stroke="#2E86AB" stroke-opacity=".55"/>
<circle cx="2744.3" cy="753" r="4.45" fill="#2E86AB" fill-opacity=".5" stroke="#2E86AB" stroke-opacity=".55"/>
<circle cx="2747.7" cy="751.8" r="4.45" fill="#2E86AB" fill-opacity=".5" stroke="#2E86AB" stroke-opacity=".55"/>
<circle cx="2751.6" cy="749" r="4.45" fill="#2E86AB" fill-opacity=".5" stroke="#2E86AB" stroke-opacity=".55"/>
<circle cx="2751.1" cy="755.2" r="4.45" fill="#2E86AB" fill-opacity=".5" stroke="#2E86AB" stroke-opacity=".55"/>
<circle cx="2746.5" cy="759.8" r="4.45" fill="#2E86AB" fill-opacity=".5" stroke="#2E86AB" stroke-opacity=".55"/>
<circle cx="2736.4" cy="765.4" r="4.45" fill="#2E86AB" fill-opacity=".5" stroke="#2E86AB" stroke-opacity=".55"/>
<circle cx="2740.3" cy="766.5" r="4.45" fill="#2E86AB" fill-opacity=".5" stroke="#2E86AB" stroke-opacity=".55"/>
<circle cx="2743.1" cy="771.1" r="4.45" fill="#2E86AB" fill-opacity=".5" stroke="#2E86AB" stroke-opacity=".55"/>
<circle cx="2744.3" cy="773.9" r="4.45" fill="#2E86AB" fill-opacity=".5" stroke="#2E86AB" stroke-opacity=".55"/>
<circle cx="2753.9" cy="762" r="4.45" fill="#2E86AB" fill-opacity=".5" stroke="#2E86AB" stroke-opacity=".55"/>
<circle cx="2754.5" cy="767.7" r="4.45" fill="#2E86AB" fill-opacity=".5" stroke="#2E86AB" stroke-opacity=".55"/>
<circle cx="2756.7" cy="773.3" r="4.45" fill="#2E86AB" fill-opacity=".5" stroke="#2E86AB" stroke-opacity=".55"/>
<circle cx="2761.8" cy="727" r="4.45" fill="#2E86AB" fill-opacity=".5" stroke="#2E86AB" stroke-opacity=".55"/>
<circle cx="2764.1" cy="725.8" r="4.45" fill="#2E86AB" fill-opacity=".5" stroke="#2E86AB" stroke-opacity=".55"/>
<circle cx="2768" cy="728.1" r="4.45" fill="#2E86AB" fill-opacity=".5" stroke="#2E86AB" stroke-opacity=".55"/>
<circle cx="2771.4" cy="727" r="4.45" fill="#2E86AB" fill-opacity=".5" stroke="#2E86AB" stroke-opacity=".55"/>
<circle cx="2769.2" cy="737.1" r="4.45" fill="#2E86AB" fill-opacity=".5" stroke="#2E86AB" stroke-opacity=".55"/>
<circle cx="2771.4" cy="739.4" r="4.45" fill="#2E86AB" fill-opacity=".5" stroke="#2E86AB" stroke-opacity=".55"/>
<circle cx="2774.8" cy="737.1" r="4.45" fill="#2E86AB" fill-opacity=".5" stroke="#2E86AB" stroke-opacity=".55"/>
<circle cx="2768" cy="745.1" r="4.45" fill="#2E86AB" fill-opacity=".5" stroke="#2E86AB" stroke-opacity=".55"/>
<circle cx="2777.1" cy="730.4" r="4.45" fill="#2E86AB" fill-opacity=".5" stroke="#2E86AB" stroke-opacity=".55"/>
<circle cx="2781.6" cy="729.2" r="4.45" fill="#2E86AB" fill-opacity=".5" stroke="#2E86AB" stroke-opacity=".55"/>
<circle cx="2785" cy="731.5" r="4.45" fill="#2E86AB" fill-opacity=".5" stroke="#2E86AB" stroke-opacity=".55"/>
<circle cx="2777.1" cy="746.2" r="4.45" fill="#2E86AB" fill-opacity=".5" stroke="#2E86AB" stroke-opacity=".55"/>
<circle cx="2780.5" cy="747.3" r="4.45" fill="#2E86AB" fill-opacity=".5" stroke="#2E86AB" stroke-opacity=".55"/>
<circle cx="2779.3" cy="753" r="4.45" fill="#2E86AB" fill-opacity=".5" stroke="#2E86AB" stroke-opacity=".55"/>
<circle cx="2773.7" cy="754.1" r="4.45" fill="#2E86AB" fill-opacity=".5" stroke="#2E86AB" stroke-opacity=".55"/>
<circle cx="2768" cy="757.5" r="4.45" fill="#2E86AB" fill-opacity=".5" stroke="#2E86AB" stroke-opacity=".55"/>
<circle cx="2764.6" cy="759.8" r="4.45" fill="#2E86AB" fill-opacity=".5" stroke="#2E86AB" stroke-opacity=".55"/>
<circle cx="2762.4" cy="763.1" r="4.45" fill="#2E86AB" fill-opacity=".5" stroke="#2E86AB" stroke-opacity=".55"/>
<circle cx="2771.4" cy="760.9" r="4.45" fill="#2E86AB" fill-opacity=".5" stroke="#2E86AB" stroke-opacity=".55"/>
<circle cx="2777.1" cy="759.8" r="4.45" fill="#2E86AB" fill-opacity=".5" stroke="#2E86AB" stroke-opacity=".55"/>
<circle cx="2783.9" cy="765.4" r="4.45" fill="#2E86AB" fill-opacity=".5" stroke="#2E86AB" stroke-opacity=".55"/>
<circle cx="2775.9" cy="767.7" r="4.45" fill="#2E86AB" fill-opacity=".5" stroke="#2E86AB" stroke-opacity=".55"/>
<circle cx="2769.2" cy="768.8" r="4.45" fill="#2E86AB" fill-opacity=".5" stroke="#2E86AB" stroke-opacity=".55"/>
<circle cx="2764.6" cy="772.2" r="4.45" fill="#2E86AB" fill-opacity=".5" stroke="#2E86AB" stroke-opacity=".55"/>
<circle cx="2762.4" cy="775.6" r="4.45" fill="#2E86AB" fill-opacity=".5" stroke="#2E86AB" stroke-opacity=".55"/>
<circle cx="2757.9" cy="782.4" r="4.45" fill="#2E86AB" fill-opacity=".5" stroke="#2E86AB" stroke-opacity=".55"/>
<circle cx="2762.4" cy="783.5" r="4.45" fill="#2E86AB" fill-opacity=".5" stroke="#2E86AB" stroke-opacity=".55"/>
<circle cx="2755.6" cy="784.6" r="4.45" fill="#2E86AB" fill-opacity=".5" stroke="#2E86AB" stroke-opacity=".55"/>
<circle cx="2746" cy="780.7" r="4.45" fill="#2E86AB" fill-opacity=".5" stroke="#2E86AB" stroke-opacity=".55"/>
<circle cx="2739.8" cy="785.2" r="4.45" fill="#2E86AB" fill-opacity=".5" stroke="#2E86AB" stroke-opacity=".55"/>
<circle cx="2742" cy="789.7" r="4.45" fill="#2E86AB" fill-opacity=".5" stroke="#2E86AB" stroke-opacity=".55"/>
<circle cx="2763.5" cy="797.6" r="4.45" fill="#2E86AB" fill-opacity=".5" stroke="#2E86AB" stroke-opacity=".55"/>
<circle cx="2770.9" cy="791.4" r="4.45" fill="#2E86AB" fill-opacity=".5" stroke="#2E86AB" stroke-opacity=".55"/>
<circle cx="2775.9" cy="784.1" r="4.45" fill="#2E86AB" fill-opacity=".5" stroke="#2E86AB" stroke-opacity=".55"/>
<circle cx="2775.9" cy="776.7" r="4.45" fill="#2E86AB" fill-opacity=".5" stroke="#2E86AB" stroke-opacity=".55"/>
<circle cx="2780.5" cy="777.9" r="4.45" fill="#2E86AB" fill-opacity=".5" stroke="#2E86AB" stroke-opacity=".55"/>
<circle cx="2786.1" cy="776.7" r="4.45" fill="#2E86AB" fill-opacity=".5" stroke="#2E86AB" stroke-opacity=".55"/>
<circle cx="2789.5" cy="780.1" r="4.45" fill="#2E86AB" fill-opacity=".5" stroke="#2E86AB" stroke-opacity=".55"/>
<circle cx="2794" cy="782.4" r="4.45" fill="#2E86AB" fill-opacity=".5" stroke="#2E86AB" stroke-opacity=".55"/>
<circle cx="2787.3" cy="783.5" r="4.45" fill="#2E86AB" fill-opacity=".5" stroke="#2E86AB" stroke-opacity=".55"/>
<circle cx="2782.7" cy="792.6" r="4.45" fill="#2E86AB" fill-opacity=".5" stroke="#2E86AB" stroke-opacity=".55"/>
<circle cx="2792.9" cy="793.1" r="4.45" fill="#2E86AB" fill-opacity=".5" stroke="#2E86AB" stroke-opacity=".55"/>
<circle cx="2794" cy="794.2" r="4.45" fill="#2E86AB" fill-opacity=".5" stroke="#2E86AB" stroke-opacity=".55"/>
<circle cx="2811" cy="794.2" r="4.45" fill="#2E86AB" fill-opacity=".5" stroke="#2E86AB" stroke-opacity=".55"/>
<circle cx="2791.8" cy="723.6" r="4.45" fill="#2E86AB" fill-opacity=".5" stroke="#2E86AB" stroke-opacity=".55"/>
<circle cx="2793.5" cy="729.2" r="4.45" fill="#2E86AB" fill-opacity=".5" stroke="#2E86AB" stroke-opacity=".55"/>
<circle cx="2798.6" cy="732.6" r="4.45" fill="#2E86AB" fill-opacity=".5" stroke="#2E86AB" stroke-opacity=".55"/>
<circle cx="2803.1" cy="727" r="4.45" fill="#2E86AB" fill-opacity=".5" stroke="#2E86AB" stroke-opacity=".55"/>
<circle cx="2789.5" cy="754.1" r="4.45" fill="#2E86AB" fill-opacity=".5" stroke="#2E86AB" stroke-opacity=".55"/>
<circle cx="2792.9" cy="766.5" r="4.45" fill="#2E86AB" fill-opacity=".5" stroke="#2E86AB" stroke-opacity=".55"/>
<circle cx="2798.6" cy="771.1" r="4.45" fill="#2E86AB" fill-opacity=".5" stroke="#2E86AB" stroke-opacity=".55"/>
<circle cx="2803.1" cy="763.1" r="4.45" fill="#2E86AB" fill-opacity=".5" stroke="#2E86AB" stroke-opacity=".55"/>
<circle cx="2807.6" cy="762" r="4.45" fill="#2E86AB" fill-opacity=".5" stroke="#2E86AB" stroke-opacity=".55"/>
<circle cx="2808.7" cy="755.2" r="4.45" fill="#2E86AB" fill-opacity=".5" stroke="#2E86AB" stroke-opacity=".55"/>
<circle cx="2805.3" cy="749.6" r="4.45" fill="#2E86AB" fill-opacity=".5" stroke="#2E86AB" stroke-opacity=".55"/>
<circle cx="2812.1" cy="741.7" r="4.45" fill="#2E86AB" fill-opacity=".5" stroke="#2E86AB" stroke-opacity=".55"/>
<circle cx="2803.1" cy="743.9" r="4.45" fill="#2E86AB" fill-opacity=".5" stroke="#2E86AB" stroke-opacity=".55"/>
<circle cx="2798.6" cy="743.9" r="4.45" fill="#2E86AB" fill-opacity=".5" stroke="#2E86AB" stroke-opacity=".55"/>
<circle cx="2796.3" cy="775.6" r="4.45" fill="#2E86AB" fill-opacity=".5" stroke="#2E86AB" stroke-opacity=".55"/>
<circle cx="2802" cy="780.1" r="4.45" fill="#2E86AB" fill-opacity=".5" stroke="#2E86AB" stroke-opacity=".55"/>
<circle cx="2818.9" cy="771.1" r="4.45" fill="#2E86AB" fill-opacity=".5" stroke="#2E86AB" stroke-opacity=".55"/>
<circle cx="2821.2" cy="776.7" r="4.45" fill="#2E86AB" fill-opacity=".5" stroke="#2E86AB" stroke-opacity=".55"/>
<circle cx="2833" cy="708.6" r="4.45" fill="#2E86AB" fill-opacity=".5" stroke="#2E86AB" stroke-opacity=".55"/>
<circle cx="2831.3" cy="712" r="4.45" fill="#2E86AB" fill-opacity=".5" stroke="#2E86AB" stroke-opacity=".55"/>
<circle cx="2837" cy="719.3" r="4.45" fill="#2E86AB" fill-opacity=".5" stroke="#2E86AB" stroke-opacity=".55"/>
<circle cx="2874.1" cy="780.9" r="4.45" fill="#2E86AB" fill-opacity=".5" stroke="#2E86AB" stroke-opacity=".55"/>
<circle cx="2835.3" cy="736.6" r="4.45" fill="#2E86AB" fill-opacity=".5" stroke="#2E86AB" stroke-opacity=".55"/>
<circle cx="2844.3" cy="754.7" r="4.45" fill="#2E86AB" fill-opacity=".5" stroke="#2E86AB" stroke-opacity=".55"/>
<circle cx="2830.2" cy="762" r="4.45" fill="#2E86AB" fill-opacity=".5" stroke="#2E86AB" stroke-opacity=".55"/>
<circle cx="2826.8" cy="776.7" r="4.45" fill="#2E86AB" fill-opacity=".5" stroke="#2E86AB" stroke-opacity=".55"/>
<circle cx="2825.7" cy="751.8" r="4.45" fill="#2E86AB" fill-opacity=".5" stroke="#2E86AB" stroke-opacity=".55"/>
<circle cx="2753.3" cy="755.8" r="4.45" fill="#2E86AB" fill-opacity=".5" stroke="#2E86AB" stroke-opacity=".55"/>
<circle cx="2765.7" cy="782.9" r="4.45" fill="#2E86AB" fill-opacity=".5" stroke="#2E86AB" stroke-opacity=".55"/>
<circle cx="2743.2" cy="782.5" r="4.45" fill="#2E86AB" fill-opacity=".5" stroke="#2E86AB" stroke-opacity=".55"/>
<circle cx="2766.3" cy="771.6" r="4.45" fill="#2E86AB" fill-opacity=".5" stroke="#2E86AB" stroke-opacity=".55"/>
<circle cx="2738" cy="767.2" r="4.45" fill="#2E86AB" fill-opacity=".5" stroke="#2E86AB" stroke-opacity=".55"/>
<circle cx="2791.1" cy="734.7" r="4.45" fill="#2E86AB" fill-opacity=".5" stroke="#2E86AB" stroke-opacity=".55"/>
<circle cx="2769.5" cy="740.2" r="4.45" fill="#2E86AB" fill-opacity=".5" stroke="#2E86AB" stroke-opacity=".55"/>
<circle cx="2771.6" cy="736.5" r="4.45" fill="#2E86AB" fill-opacity=".5" stroke="#2E86AB" stroke-opacity=".55"/>
<circle cx="2782.8" cy="741.2" r="4.45" fill="#2E86AB" fill-opacity=".5" stroke="#2E86AB" stroke-opacity=".55"/>
<circle cx="2765.3" cy="759.6" r="4.45" fill="#2E86AB" fill-opacity=".5" stroke="#2E86AB" stroke-opacity=".55"/>
<circle cx="2762.5" cy="734" r="4.45" fill="#2E86AB" fill-opacity=".5" stroke="#2E86AB" stroke-opacity=".55"/>
<circle cx="2731.5" cy="756.8" r="4.45" fill="#2E86AB" fill-opacity=".5" stroke="#2E86AB" stroke-opacity=".55"/>
<circle cx="2760.6" cy="780.4" r="4.45" fill="#2E86AB" fill-opacity=".5" stroke="#2E86AB" stroke-opacity=".55"/>
<circle cx="2750.3" cy="763.1" r="4.45" fill="#2E86AB" fill-opacity=".5" stroke="#2E86AB" stroke-opacity=".55"/>
<circle cx="2753.6" cy="777.5" r="4.45" fill="#2E86AB" fill-opacity=".5" stroke="#2E86AB" stroke-opacity=".55"/>
<circle cx="2779.2" cy="751.9" r="4.45" fill="#2E86AB" fill-opacity=".5" stroke="#2E86AB" stroke-opacity=".55"/>
<circle cx="2722.7" cy="782.9" r="4.45" fill="#2E86AB" fill-opacity=".5" stroke="#2E86AB" stroke-opacity=".55"/>
<circle cx="2756.8" cy="770" r="4.45" fill="#2E86AB" fill-opacity=".5" stroke="#2E86AB" stroke-opacity=".55"/>
<circle cx="2761.3" cy="783.4" r="4.45" fill="#2E86AB" fill-opacity=".5" stroke="#2E86AB" stroke-opacity=".55"/>
<circle cx="2771.8" cy="751.7" r="4.45" fill="#2E86AB" fill-opacity=".5" stroke="#2E86AB" stroke-opacity=".55"/>
<circle cx="2744.1" cy="763.9" r="4.45" fill="#2E86AB" fill-opacity=".5" stroke="#2E86AB" stroke-opacity=".55"/>
<circle cx="2798.7" cy="761.3" r="4.45" fill="#2E86AB" fill-opacity=".5" stroke="#2E86AB" stroke-opacity=".55"/>
<circle cx="2735.4" cy="766.1" r="4.45" fill="#2E86AB" fill-opacity=".5" stroke="#2E86AB" stroke-opacity=".55"/>
<circle cx="2757.3" cy="780.9" r="4.45" fill="#2E86AB" fill-opacity=".5" stroke="#2E86AB" stroke-opacity=".55"/>
<circle cx="2771.9" cy="759.8" r="4.45" fill="#2E86AB" fill-opacity=".5" stroke="#2E86AB" stroke-opacity=".55"/>
<circle cx="2787.5" cy="767.7" r="4.45" fill="#2E86AB" fill-opacity=".5" stroke="#2E86AB" stroke-opacity=".55"/>
<circle cx="2752.2" cy="748" r="4.45" fill="#2E86AB" fill-opacity=".5" stroke="#2E86AB" stroke-opacity=".55"/>
<circle cx="2765.5" cy="759.1" r="4.45" fill="#2E86AB" fill-opacity=".5" stroke="#2E86AB" stroke-opacity=".55"/>
<circle cx="2773.9" cy="758.5" r="4.45" fill="#2E86AB" fill-opacity=".5" stroke="#2E86AB" stroke-opacity=".55"/>
<circle cx="2775.2" cy="736.8" r="4.45" fill="#2E86AB" fill-opacity=".5" stroke="#2E86AB" stroke-opacity=".55"/>
<circle cx="2794.5" cy="767.2" r="4.45" fill="#2E86AB" fill-opacity=".5" stroke="#2E86AB" stroke-opacity=".55"/>
<circle cx="2792.7" cy="736" r="4.45" fill="#2E86AB" fill-opacity=".5" stroke="#2E86AB" stroke-opacity=".55"/>
<circle cx="2803.1" cy="737.8" r="4.45" fill="#2E86AB" fill-opacity=".5" stroke="#2E86AB" stroke-opacity=".55"/>
<circle cx="2742.1" cy="769.3" r="4.45" fill="#2E86AB" fill-opacity=".5" stroke="#2E86AB" stroke-opacity=".55"/>
<circle cx="2749.3" cy="745" r="4.45" fill="#2E86AB" fill-opacity=".5" stroke="#2E86AB" stroke-opacity=".55"/>
<circle cx="2784" cy="781.1" r="4.45" fill="#2E86AB" fill-opacity=".5" stroke="#2E86AB" stroke-opacity=".55"/>
<circle cx="2804.8" cy="752.3" r="4.45" fill="#2E86AB" fill-opacity=".5" stroke="#2E86AB" stroke-opacity=".55"/>
<circle cx="2723.8" cy="771.2" r="4.45" fill="#2E86AB" fill-opacity=".5" stroke="#2E86AB" stroke-opacity=".55"/>
<circle cx="2725.8" cy="772.6" r="4.45" fill="#2E86AB" fill-opacity=".5" stroke="#2E86AB" stroke-opacity=".55"/>
<circle cx="2781" cy="731.5" r="4.45" fill="#2E86AB" fill-opacity=".5" stroke="#2E86AB" stroke-opacity=".55"/>
<circle cx="2769.7" cy="774.1" r="4.45" fill="#2E86AB" fill-opacity=".5" stroke="#2E86AB" stroke-opacity=".55"/>
<circle cx="2739.7" cy="757.1" r="4.45" fill="#2E86AB" fill-opacity=".5" stroke="#2E86AB" stroke-opacity=".55"/>
<circle cx="2773.9" cy="745.6" r="4.45" fill="#2E86AB" fill-opacity=".5" stroke="#2E86AB" stroke-opacity=".55"/>
<circle cx="2754.3" cy="742.8" r="4.45" fill="#2E86AB" fill-opacity=".5" stroke="#2E86AB" stroke-opacity=".55"/>
<circle cx="2764.4" cy="762.2" r="4.45" fill="#2E86AB" fill-opacity=".5" stroke="#2E86AB" stroke-opacity=".55"/>
<circle cx="2774.5" cy="769.2" r="4.45" fill="#2E86AB" fill-opacity=".5" stroke="#2E86AB" stroke-opacity=".55"/>
<circle cx="2787.4" cy="751.3" r="4.45" fill="#2E86AB" fill-opacity=".5" stroke="#2E86AB" stroke-opacity=".55"/>
<circle cx="2726.5" cy="782.4" r="4.45" fill="#2E86AB" fill-opacity=".5" stroke="#2E86AB" stroke-opacity=".55"/>
<circle cx="2930.8" cy="391.7" r="4.45" fill="#D62828" fill-opacity=".5" stroke="#D62828" stroke-opacity=".55"/>
<circle cx="3187.7" cy="313.8" r="4.45" fill="#D62828" fill-opacity=".5" stroke="#D62828" stroke-opacity=".55"/>
<circle cx="2831.8" cy="491.8" r="4.45" fill="#D62828" fill-opacity=".5" stroke="#D62828" stroke-opacity=".55"/>
<circle cx="3099.8" cy="537.1" r="4.45" fill="#D62828" fill-opacity=".5" stroke="#D62828" stroke-opacity=".55"/>
<circle cx="2586.6" cy="660.8" r="4.45" fill="#D62828" fill-opacity=".5" stroke="#D62828" stroke-opacity=".55"/>
<circle cx="2560.7" cy="677.8" r="4.45" fill="#D62828" fill-opacity=".5" stroke="#D62828" stroke-opacity=".55"/>
<circle cx="2672.7" cy="797.7" r="4.45" fill="#D62828" fill-opacity=".5" stroke="#D62828" stroke-opacity=".55"/>
<circle cx="2932.7" cy="629.8" r="4.45" fill="#D62828" fill-opacity=".5" stroke="#D62828" stroke-opacity=".55"/>
<circle cx="2946.7" cy="628.8" r="4.45" fill="#D62828" fill-opacity=".5" stroke="#D62828" stroke-opacity=".55"/>
<circle cx="2949.6" cy="653.7" r="4.45" fill="#D62828" fill-opacity=".5" stroke="#D62828" stroke-opacity=".55"/>
<circle cx="2932.7" cy="660.8" r="4.45" fill="#D62828" fill-opacity=".5" stroke="#D62828" stroke-opacity=".55"/>
<circle cx="2917.8" cy="667.7" r="4.45" fill="#D62828" fill-opacity=".5" stroke="#D62828" stroke-opacity=".55"/>
<circle cx="3114.9" cy="645.7" r="4.45" fill="#D62828" fill-opacity=".5" stroke="#D62828" stroke-opacity=".55"/>
<circle cx="3040.7" cy="710.9" r="4.45" fill="#D62828" fill-opacity=".5" stroke="#D62828" stroke-opacity=".55"/>
<circle cx="3068.8" cy="708.8" r="4.45" fill="#D62828" fill-opacity=".5" stroke="#D62828" stroke-opacity=".55"/>
<circle cx="3109.8" cy="718.8" r="4.45" fill="#D62828" fill-opacity=".5" stroke="#D62828" stroke-opacity=".55"/>
<circle cx="2722.7" cy="987.7" r="4.45" fill="#D62828" fill-opacity=".5" stroke="#D62828" stroke-opacity=".55"/>
<circle cx="2943.8" cy="844.7" r="4.45" fill="#D62828" fill-opacity=".5" stroke="#D62828" stroke-opacity=".55"/>
<circle cx="3050.8" cy="834.6" r="4.45" fill="#D62828" fill-opacity=".5" stroke="#D62828" stroke-opacity=".55"/>
<circle cx="2844.7" cy="942.7" r="4.45" fill="#D62828" fill-opacity=".5" stroke="#D62828" stroke-opacity=".55"/>
<circle cx="2812.7" cy="1024.8" r="4.45" fill="#D62828" fill-opacity=".5" stroke="#D62828" stroke-opacity=".55"/>
<circle cx="2870.7" cy="804.7" r="4.45" fill="#D62828" fill-opacity=".5" stroke="#D62828" stroke-opacity=".55"/>
<circle cx="2779.9" cy="801.8" r="4.45" fill="#D62828" fill-opacity=".5" stroke="#D62828" stroke-opacity=".55"/>
<circle cx="2745.1" cy="688.8" r="4.45" fill="#D62828" fill-opacity=".5" stroke="#D62828" stroke-opacity=".55"/>
<circle cx="2748.8" cy="713.6" r="4.45" fill="#D62828" fill-opacity=".5" stroke="#D62828" stroke-opacity=".55"/>
<circle cx="2785" cy="701.8" r="4.45" fill="#D62828" fill-opacity=".5" stroke="#D62828" stroke-opacity=".55"/>
<circle cx="2828.2" cy="627.7" r="4.45" fill="#D62828" fill-opacity=".5" stroke="#D62828" stroke-opacity=".55"/>
<circle cx="2825.7" cy="650.9" r="4.45" fill="#D62828" fill-opacity=".5" stroke="#D62828" stroke-opacity=".55"/>
<circle cx="2812.1" cy="672.4" r="4.45" fill="#D62828" fill-opacity=".5" stroke="#D62828" stroke-opacity=".55"/>
<circle cx="2820.6" cy="671.5" r="4.45" fill="#D62828" fill-opacity=".5" stroke="#D62828" stroke-opacity=".55"/>
<circle cx="2825.7" cy="673.5" r="4.45" fill="#D62828" fill-opacity=".5" stroke="#D62828" stroke-opacity=".55"/>
<circle cx="2825.1" cy="678" r="4.45" fill="#D62828" fill-opacity=".5" stroke="#D62828" stroke-opacity=".55"/>
<circle cx="2818.9" cy="694.4" r="4.45" fill="#D62828" fill-opacity=".5" stroke="#D62828" stroke-opacity=".55"/>
<circle cx="2804.8" cy="711.4" r="4.45" fill="#D62828" fill-opacity=".5" stroke="#D62828" stroke-opacity=".55"/>
<circle cx="2825.1" cy="704.6" r="4.45" fill="#D62828" fill-opacity=".5" stroke="#D62828" stroke-opacity=".55"/>
<circle cx="2816.7" cy="702.3" r="4.45" fill="#D62828" fill-opacity=".5" stroke="#D62828" stroke-opacity=".55"/>
<circle cx="2806.5" cy="716.5" r="4.45" fill="#D62828" fill-opacity=".5" stroke="#D62828" stroke-opacity=".55"/>
<circle cx="2710.9" cy="746.8" r="4.45" fill="#D62828" fill-opacity=".5" stroke="#D62828" stroke-opacity=".55"/>
<circle cx="2779.9" cy="723" r="4.45" fill="#D62828" fill-opacity=".5" stroke="#D62828" stroke-opacity=".55"/>
<circle cx="2789.5" cy="738.8" r="4.45" fill="#D62828" fill-opacity=".5" stroke="#D62828" stroke-opacity=".55"/>
<circle cx="2790.6" cy="742.8" r="4.45" fill="#D62828" fill-opacity=".5" stroke="#D62828" stroke-opacity=".55"/>
<circle cx="2800.8" cy="733.7" r="4.45" fill="#D62828" fill-opacity=".5" stroke="#D62828" stroke-opacity=".55"/>
<circle cx="2804.2" cy="723.6" r="4.45" fill="#D62828" fill-opacity=".5" stroke="#D62828" stroke-opacity=".55"/>
<circle cx="2807" cy="736.6" r="4.45" fill="#D62828" fill-opacity=".5" stroke="#D62828" stroke-opacity=".55"/>
<circle cx="2803.1" cy="738.8" r="4.45" fill="#D62828" fill-opacity=".5" stroke="#D62828" stroke-opacity=".55"/>
<circle cx="2809.9" cy="747.3" r="4.45" fill="#D62828" fill-opacity=".5" stroke="#D62828" stroke-opacity=".55"/>
<circle cx="2794.6" cy="756.4" r="4.45" fill="#D62828" fill-opacity=".5" stroke="#D62828" stroke-opacity=".55"/>
<circle cx="2799.1" cy="755.2" r="4.45" fill="#D62828" fill-opacity=".5" stroke="#D62828" stroke-opacity=".55"/>
<circle cx="2813.8" cy="767.1" r="4.45" fill="#D62828" fill-opacity=".5" stroke="#D62828" stroke-opacity=".55"/>
<circle cx="2807.6" cy="777.9" r="4.45" fill="#D62828" fill-opacity=".5" stroke="#D62828" stroke-opacity=".55"/>
<circle cx="2811" cy="776.7" r="4.45" fill="#D62828" fill-opacity=".5" stroke="#D62828" stroke-opacity=".55"/>
<circle cx="2808.2" cy="789.7" r="4.45" fill="#D62828" fill-opacity=".5" stroke="#D62828" stroke-opacity=".55"/>
<circle cx="2824.6" cy="743.9" r="4.45" fill="#D62828" fill-opacity=".5" stroke="#D62828" stroke-opacity=".55"/>
<circle cx="2826.8" cy="747.3" r="4.45" fill="#D62828" fill-opacity=".5" stroke="#D62828" stroke-opacity=".55"/>
<circle cx="2825.7" cy="725.8" r="4.45" fill="#D62828" fill-opacity=".5" stroke="#D62828" stroke-opacity=".55"/>
<circle cx="2823.4" cy="713.4" r="4.45" fill="#D62828" fill-opacity=".5" stroke="#D62828" stroke-opacity=".55"/>
<circle cx="2882.2" cy="627.7" r="4.45" fill="#D62828" fill-opacity=".5" stroke="#D62828" stroke-opacity=".55"/>
<circle cx="2883.9" cy="637.9" r="4.45" fill="#D62828" fill-opacity=".5" stroke="#D62828" stroke-opacity=".55"/>
<circle cx="2887.9" cy="643" r="4.45" fill="#D62828" fill-opacity=".5" stroke="#D62828" stroke-opacity=".55"/>
<circle cx="2856.2" cy="644.7" r="4.45" fill="#D62828" fill-opacity=".5" stroke="#D62828" stroke-opacity=".55"/>
<circle cx="2859.6" cy="648.1" r="4.45" fill="#D62828" fill-opacity=".5" stroke="#D62828" stroke-opacity=".55"/>
<circle cx="2878.2" cy="645.8" r="4.45" fill="#D62828" fill-opacity=".5" stroke="#D62828" stroke-opacity=".55"/>
<circle cx="2879.4" cy="648.1" r="4.45" fill="#D62828" fill-opacity=".5" stroke="#D62828" stroke-opacity=".55"/>
<circle cx="2898" cy="645.8" r="4.45" fill="#D62828" fill-opacity=".5" stroke="#D62828" stroke-opacity=".55"/>
<circle cx="2898" cy="654.3" r="4.45" fill="#D62828" fill-opacity=".5" stroke="#D62828" stroke-opacity=".55"/>
<circle cx="2898" cy="661.1" r="4.45" fill="#D62828" fill-opacity=".5" stroke="#D62828" stroke-opacity=".55"/>
<circle cx="2840.1" cy="649.8" r="4.45" fill="#D62828" fill-opacity=".5" stroke="#D62828" stroke-opacity=".55"/>
<circle cx="2848" cy="660.8" r="4.45" fill="#D62828" fill-opacity=".5" stroke="#D62828" stroke-opacity=".55"/>
<circle cx="2876" cy="656.5" r="4.45" fill="#D62828" fill-opacity=".5" stroke="#D62828" stroke-opacity=".55"/>
<circle cx="2872" cy="661.6" r="4.45" fill="#D62828" fill-opacity=".5" stroke="#D62828" stroke-opacity=".55"/>
<circle cx="2887.9" cy="661.6" r="4.45" fill="#D62828" fill-opacity=".5" stroke="#D62828" stroke-opacity=".55"/>
<circle cx="2882" cy="667.9" r="4.45" fill="#D62828" fill-opacity=".5" stroke="#D62828" stroke-opacity=".55"/>
<circle cx="2870.3" cy="671.2" r="4.45" fill="#D62828" fill-opacity=".5" stroke="#D62828" stroke-opacity=".55"/>
<circle cx="2866.4" cy="675.2" r="4.45" fill="#D62828" fill-opacity=".5" stroke="#D62828" stroke-opacity=".55"/>
<circle cx="2876.5" cy="674.1" r="4.45" fill="#D62828" fill-opacity=".5" stroke="#D62828" stroke-opacity=".55"/>
<circle cx="2894.1" cy="675.8" r="4.45" fill="#D62828" fill-opacity=".5" stroke="#D62828" stroke-opacity=".55"/>
<circle cx="2894.1" cy="678" r="4.45" fill="#D62828" fill-opacity=".5" stroke="#D62828" stroke-opacity=".55"/>
<circle cx="2837.9" cy="671.8" r="4.45" fill="#D62828" fill-opacity=".5" stroke="#D62828" stroke-opacity=".55"/>
<circle cx="2847.1" cy="672.4" r="4.45" fill="#D62828" fill-opacity=".5" stroke="#D62828" stroke-opacity=".55"/>
<circle cx="2846" cy="675.8" r="4.45" fill="#D62828" fill-opacity=".5" stroke="#D62828" stroke-opacity=".55"/>
<circle cx="2850" cy="679.2" r="4.45" fill="#D62828" fill-opacity=".5" stroke="#D62828" stroke-opacity=".55"/>
<circle cx="2856.2" cy="675.8" r="4.45" fill="#D62828" fill-opacity=".5" stroke="#D62828" stroke-opacity=".55"/>
<circle cx="2861.8" cy="681.4" r="4.45" fill="#D62828" fill-opacity=".5" stroke="#D62828" stroke-opacity=".55"/>
<circle cx="2869.8" cy="683.7" r="4.45" fill="#D62828" fill-opacity=".5" stroke="#D62828" stroke-opacity=".55"/>
<circle cx="2870.9" cy="685.9" r="4.45" fill="#D62828" fill-opacity=".5" stroke="#D62828" stroke-opacity=".55"/>
<circle cx="2875.4" cy="685.9" r="4.45" fill="#D62828" fill-opacity=".5" stroke="#D62828" stroke-opacity=".55"/>
<circle cx="2889.5" cy="683.9" r="4.45" fill="#D62828" fill-opacity=".5" stroke="#D62828" stroke-opacity=".55"/>
<circle cx="2896.9" cy="686.8" r="4.45" fill="#D62828" fill-opacity=".5" stroke="#D62828" stroke-opacity=".55"/>
<circle cx="2905.9" cy="684.6" r="4.45" fill="#D62828" fill-opacity=".5" stroke="#D62828" stroke-opacity=".55"/>
<circle cx="2846.6" cy="689.9" r="4.45" fill="#D62828" fill-opacity=".5" stroke="#D62828" stroke-opacity=".55"/>
<circle cx="2844.3" cy="692.7" r="4.45" fill="#D62828" fill-opacity=".5" stroke="#D62828" stroke-opacity=".55"/>
<circle cx="2852.8" cy="690.5" r="4.45" fill="#D62828" fill-opacity=".5" stroke="#D62828" stroke-opacity=".55"/>
<circle cx="2855.1" cy="693.9" r="4.45" fill="#D62828" fill-opacity=".5" stroke="#D62828" stroke-opacity=".55"/>
<circle cx="2857.3" cy="696.1" r="4.45" fill="#D62828" fill-opacity=".5" stroke="#D62828" stroke-opacity=".55"/>
<circle cx="2853.9" cy="698.4" r="4.45" fill="#D62828" fill-opacity=".5" stroke="#D62828" stroke-opacity=".55"/>
<circle cx="2859.6" cy="699.5" r="4.45" fill="#D62828" fill-opacity=".5" stroke="#D62828" stroke-opacity=".55"/>
<circle cx="2863.5" cy="690.5" r="4.45" fill="#D62828" fill-opacity=".5" stroke="#D62828" stroke-opacity=".55"/>
<circle cx="2867.5" cy="691.6" r="4.45" fill="#D62828" fill-opacity=".5" stroke="#D62828" stroke-opacity=".55"/>
<circle cx="2874.3" cy="693.9" r="4.45" fill="#D62828" fill-opacity=".5" stroke="#D62828" stroke-opacity=".55"/>
<circle cx="2878.8" cy="694.4" r="4.45" fill="#D62828" fill-opacity=".5" stroke="#D62828" stroke-opacity=".55"/>
<circle cx="2884.5" cy="694.8" r="4.45" fill="#D62828" fill-opacity=".5" stroke="#D62828" stroke-opacity=".55"/>
<circle cx="2834.1" cy="696.7" r="4.45" fill="#D62828" fill-opacity=".5" stroke="#D62828" stroke-opacity=".55"/>
<circle cx="2874.3" cy="699.5" r="4.45" fill="#D62828" fill-opacity=".5" stroke="#D62828" stroke-opacity=".55"/>
<circle cx="2844.3" cy="702.3" r="4.45" fill="#D62828" fill-opacity=".5" stroke="#D62828" stroke-opacity=".55"/>
<circle cx="2863" cy="702.9" r="4.45" fill="#D62828" fill-opacity=".5" stroke="#D62828" stroke-opacity=".55"/>
<circle cx="2869.8" cy="706.3" r="4.45" fill="#D62828" fill-opacity=".5" stroke="#D62828" stroke-opacity=".55"/>
<circle cx="2875.4" cy="706.3" r="4.45" fill="#D62828" fill-opacity=".5" stroke="#D62828" stroke-opacity=".55"/>
<circle cx="2848.3" cy="705.2" r="4.45" fill="#D62828" fill-opacity=".5" stroke="#D62828" stroke-opacity=".55"/>
<circle cx="2852.8" cy="706.3" r="4.45" fill="#D62828" fill-opacity=".5" stroke="#D62828" stroke-opacity=".55"/>
<circle cx="2851.7" cy="710.3" r="4.45" fill="#D62828" fill-opacity=".5" stroke="#D62828" stroke-opacity=".55"/>
<circle cx="2840.4" cy="709.7" r="4.45" fill="#D62828" fill-opacity=".5" stroke="#D62828" stroke-opacity=".55"/>
<circle cx="2844.9" cy="714.2" r="4.45" fill="#D62828" fill-opacity=".5" stroke="#D62828" stroke-opacity=".55"/>
<circle cx="2849.4" cy="713.1" r="4.45" fill="#D62828" fill-opacity=".5" stroke="#D62828" stroke-opacity=".55"/>
<circle cx="2861.8" cy="717" r="4.45" fill="#D62828" fill-opacity=".5" stroke="#D62828" stroke-opacity=".55"/>
<circle cx="2873.1" cy="717.6" r="4.45" fill="#D62828" fill-opacity=".5" stroke="#D62828" stroke-opacity=".55"/>
<circle cx="2879.9" cy="715.3" r="4.45" fill="#D62828" fill-opacity=".5" stroke="#D62828" stroke-opacity=".55"/>
<circle cx="2882.2" cy="717.6" r="4.45" fill="#D62828" fill-opacity=".5" stroke="#D62828" stroke-opacity=".55"/>
<circle cx="2890.1" cy="717.6" r="4.45" fill="#D62828" fill-opacity=".5" stroke="#D62828" stroke-opacity=".55"/>
<circle cx="2894.1" cy="717" r="4.45" fill="#D62828" fill-opacity=".5" stroke="#D62828" stroke-opacity=".55"/>
<circle cx="2905.9" cy="713.4" r="4.45" fill="#D62828" fill-opacity=".5" stroke="#D62828" stroke-opacity=".55"/>
<circle cx="2821.1" cy="716.5" r="4.45" fill="#D62828" fill-opacity=".5" stroke="#D62828" stroke-opacity=".55"/>
<circle cx="2900.3" cy="723" r="4.45" fill="#D62828" fill-opacity=".5" stroke="#D62828" stroke-opacity=".55"/>
<circle cx="2903.1" cy="730.4" r="4.45" fill="#D62828" fill-opacity=".5" stroke="#D62828" stroke-opacity=".55"/>
<circle cx="2903.1" cy="737.1" r="4.45" fill="#D62828" fill-opacity=".5" stroke="#D62828" stroke-opacity=".55"/>
<circle cx="2891.2" cy="729.8" r="4.45" fill="#D62828" fill-opacity=".5" stroke="#D62828" stroke-opacity=".55"/>
<circle cx="2891.2" cy="733.7" r="4.45" fill="#D62828" fill-opacity=".5" stroke="#D62828" stroke-opacity=".55"/>
<circle cx="2874.3" cy="728.7" r="4.45" fill="#D62828" fill-opacity=".5" stroke="#D62828" stroke-opacity=".55"/>
<circle cx="2872" cy="731.5" r="4.45" fill="#D62828" fill-opacity=".5" stroke="#D62828" stroke-opacity=".55"/>
<circle cx="2859.6" cy="724.7" r="4.45" fill="#D62828" fill-opacity=".5" stroke="#D62828" stroke-opacity=".55"/>
<circle cx="2850.5" cy="721.3" r="4.45" fill="#D62828" fill-opacity=".5" stroke="#D62828" stroke-opacity=".55"/>
<circle cx="2853.9" cy="728.1" r="4.45" fill="#D62828" fill-opacity=".5" stroke="#D62828" stroke-opacity=".55"/>
<circle cx="2847.1" cy="729.8" r="4.45" fill="#D62828" fill-opacity=".5" stroke="#D62828" stroke-opacity=".55"/>
<circle cx="2841.5" cy="723.6" r="4.45" fill="#D62828" fill-opacity=".5" stroke="#D62828" stroke-opacity=".55"/>
<circle cx="2842.1" cy="732.1" r="4.45" fill="#D62828" fill-opacity=".5" stroke="#D62828" stroke-opacity=".55"/>
<circle cx="2847.1" cy="740" r="4.45" fill="#D62828" fill-opacity=".5" stroke="#D62828" stroke-opacity=".55"/>
<circle cx="2831.3" cy="728.7" r="4.45" fill="#D62828" fill-opacity=".5" stroke="#D62828" stroke-opacity=".55"/>
<circle cx="2867.5" cy="742.8" r="4.45" fill="#D62828" fill-opacity=".5" stroke="#D62828" stroke-opacity=".55"/>
<circle cx="2873.7" cy="743.9" r="4.45" fill="#D62828" fill-opacity=".5" stroke="#D62828" stroke-opacity=".55"/>
<circle cx="2870.3" cy="746.2" r="4.45" fill="#D62828" fill-opacity=".5" stroke="#D62828" stroke-opacity=".55"/>
<circle cx="2881.1" cy="746.2" r="4.45" fill="#D62828" fill-opacity=".5" stroke="#D62828" stroke-opacity=".55"/>
<circle cx="2874.3" cy="739.4" r="4.45" fill="#D62828" fill-opacity=".5" stroke="#D62828" stroke-opacity=".55"/>
<circle cx="2894.1" cy="744.5" r="4.45" fill="#D62828" fill-opacity=".5" stroke="#D62828" stroke-opacity=".55"/>
<circle cx="2896.9" cy="750.7" r="4.45" fill="#D62828" fill-opacity=".5" stroke="#D62828" stroke-opacity=".55"/>
<circle cx="2835.3" cy="742.8" r="4.45" fill="#D62828" fill-opacity=".5" stroke="#D62828" stroke-opacity=".55"/>
<circle cx="2832.4" cy="746.2" r="4.45" fill="#D62828" fill-opacity=".5" stroke="#D62828" stroke-opacity=".55"/>
<circle cx="2834.7" cy="749.6" r="4.45" fill="#D62828" fill-opacity=".5" stroke="#D62828" stroke-opacity=".55"/>
<circle cx="2840.4" cy="753" r="4.45" fill="#D62828" fill-opacity=".5" stroke="#D62828" stroke-opacity=".55"/>
<circle cx="2843.7" cy="757.5" r="4.45" fill="#D62828" fill-opacity=".5" stroke="#D62828" stroke-opacity=".55"/>
<circle cx="2844.9" cy="762" r="4.45" fill="#D62828" fill-opacity=".5" stroke="#D62828" stroke-opacity=".55"/>
<circle cx="2838.1" cy="760.9" r="4.45" fill="#D62828" fill-opacity=".5" stroke="#D62828" stroke-opacity=".55"/>
<circle cx="2840.9" cy="767.7" r="4.45" fill="#D62828" fill-opacity=".5" stroke="#D62828" stroke-opacity=".55"/>
<circle cx="2835.3" cy="771.1" r="4.45" fill="#D62828" fill-opacity=".5" stroke="#D62828" stroke-opacity=".55"/>
<circle cx="2830.2" cy="765.4" r="4.45" fill="#D62828" fill-opacity=".5" stroke="#D62828" stroke-opacity=".55"/>
<circle cx="2879.9" cy="765.1" r="4.45" fill="#D62828" fill-opacity=".5" stroke="#D62828" stroke-opacity=".55"/>
<circle cx="2892" cy="785.9" r="4.45" fill="#D62828" fill-opacity=".5" stroke="#D62828" stroke-opacity=".55"/>
<circle cx="2842.5" cy="693.8" r="4.45" fill="#D62828" fill-opacity=".5" stroke="#D62828" stroke-opacity=".55"/>
<circle cx="2896.8" cy="691.6" r="4.45" fill="#D62828" fill-opacity=".5" stroke="#D62828" stroke-opacity=".55"/>
<circle cx="2865.5" cy="694.7" r="4.45" fill="#D62828" fill-opacity=".5" stroke="#D62828" stroke-opacity=".55"/>
<circle cx="2859.9" cy="678.5" r="4.45" fill="#D62828" fill-opacity=".5" stroke="#D62828" stroke-opacity=".55"/>
<circle cx="2840" cy="728.5" r="4.45" fill="#D62828" fill-opacity=".5" stroke="#D62828" stroke-opacity=".55"/>
<circle cx="2823.8" cy="716.5" r="4.45" fill="#D62828" fill-opacity=".5" stroke="#D62828" stroke-opacity=".55"/>
<circle cx="2834.6" cy="698.6" r="4.45" fill="#D62828" fill-opacity=".5" stroke="#D62828" stroke-opacity=".55"/>
<circle cx="2849.8" cy="715" r="4.45" fill="#D62828" fill-opacity=".5" stroke="#D62828" stroke-opacity=".55"/>
<circle cx="2855.7" cy="693.1" r="4.45" fill="#D62828" fill-opacity=".5" stroke="#D62828" stroke-opacity=".55"/>
<circle cx="2846.9" cy="712.6" r="4.45" fill="#D62828" fill-opacity=".5" stroke="#D62828" stroke-opacity=".55"/>
<circle cx="2841.8" cy="731.8" r="4.45" fill="#D62828" fill-opacity=".5" stroke="#D62828" stroke-opacity=".55"/>
<circle cx="2875.4" cy="689.3" r="4.45" fill="#D62828" fill-opacity=".5" stroke="#D62828" stroke-opacity=".55"/>
<circle cx="2863.3" cy="688" r="4.45" fill="#D62828" fill-opacity=".5" stroke="#D62828" stroke-opacity=".55"/>
<circle cx="2855" cy="726.4" r="4.45" fill="#D62828" fill-opacity=".5" stroke="#D62828" stroke-opacity=".55"/>
<circle cx="2845.5" cy="675.9" r="4.45" fill="#D62828" fill-opacity=".5" stroke="#D62828" stroke-opacity=".55"/>
<circle cx="2869.9" cy="670.6" r="4.45" fill="#D62828" fill-opacity=".5" stroke="#D62828" stroke-opacity=".55"/>
<circle cx="2891.6" cy="675.2" r="4.45" fill="#D62828" fill-opacity=".5" stroke="#D62828" stroke-opacity=".55"/>
<circle cx="2849.8" cy="675.3" r="4.45" fill="#D62828" fill-opacity=".5" stroke="#D62828" stroke-opacity=".55"/>
<circle cx="2817.5" cy="719.9" r="4.45" fill="#D62828" fill-opacity=".5" stroke="#D62828" stroke-opacity=".55"/>
<circle cx="2856.6" cy="700.4" r="4.45" fill="#D62828" fill-opacity=".5" stroke="#D62828" stroke-opacity=".55"/>
<circle cx="2831.7" cy="728.3" r="4.45" fill="#D62828" fill-opacity=".5" stroke="#D62828" stroke-opacity=".55"/>
<circle cx="2837.3" cy="711.3" r="4.45" fill="#D62828" fill-opacity=".5" stroke="#D62828" stroke-opacity=".55"/>
<circle cx="2824.3" cy="720.5" r="4.45" fill="#D62828" fill-opacity=".5" stroke="#D62828" stroke-opacity=".55"/>
<circle cx="2869" cy="683.3" r="4.45" fill="#D62828" fill-opacity=".5" stroke="#D62828" stroke-opacity=".55"/>
<circle cx="2882.5" cy="713.9" r="4.45" fill="#D62828" fill-opacity=".5" stroke="#D62828" stroke-opacity=".55"/>
<circle cx="2880.6" cy="696.6" r="4.45" fill="#D62828" fill-opacity=".5" stroke="#D62828" stroke-opacity=".55"/>
<circle cx="2849.4" cy="688.5" r="4.45" fill="#D62828" fill-opacity=".5" stroke="#D62828" stroke-opacity=".55"/>
<circle cx="2849.8" cy="677.5" r="4.45" fill="#D62828" fill-opacity=".5" stroke="#D62828" stroke-opacity=".55"/>
<circle cx="2868.2" cy="703.5" r="4.45" fill="#D62828" fill-opacity=".5" stroke="#D62828" stroke-opacity=".55"/>
<circle cx="2858.8" cy="714.6" r="4.45" fill="#D62828" fill-opacity=".5" stroke="#D62828" stroke-opacity=".55"/>
<circle cx="2857.1" cy="703" r="4.45" fill="#D62828" fill-opacity=".5" stroke="#D62828" stroke-opacity=".55"/>
<circle cx="2873.8" cy="699.9" r="4.45" fill="#D62828" fill-opacity=".5" stroke="#D62828" stroke-opacity=".55"/>
<circle cx="2861.1" cy="699.4" r="4.45" fill="#D62828" fill-opacity=".5" stroke="#D62828" stroke-opacity=".55"/>
<circle cx="2831.9" cy="703" r="4.45" fill="#D62828" fill-opacity=".5" stroke="#D62828" stroke-opacity=".55"/>
<circle cx="2861.8" cy="725.2" r="4.45" fill="#D62828" fill-opacity=".5" stroke="#D62828" stroke-opacity=".55"/>
<circle cx="2855.8" cy="694.9" r="4.45" fill="#D62828" fill-opacity=".5" stroke="#D62828" stroke-opacity=".55"/>
<circle cx="2853.6" cy="704.8" r="4.45" fill="#D62828" fill-opacity=".5" stroke="#D62828" stroke-opacity=".55"/>
<circle cx="2869.9" cy="703.5" r="4.45" fill="#D62828" fill-opacity=".5" stroke="#D62828" stroke-opacity=".55"/>
<circle cx="2879.8" cy="669.6" r="4.45" fill="#D62828" fill-opacity=".5" stroke="#D62828" stroke-opacity=".55"/>
<circle cx="2849.6" cy="692.2" r="4.45" fill="#D62828" fill-opacity=".5" stroke="#D62828" stroke-opacity=".55"/>
<circle cx="2879" cy="708.4" r="4.45" fill="#D62828" fill-opacity=".5" stroke="#D62828" stroke-opacity=".55"/>
<circle cx="2880" cy="717.8" r="4.45" fill="#D62828" fill-opacity=".5" stroke="#D62828" stroke-opacity=".55"/>
<circle cx="2872.7" cy="685.6" r="4.45" fill="#D62828" fill-opacity=".5" stroke="#D62828" stroke-opacity=".55"/>
<circle cx="2876.5" cy="697.8" r="4.45" fill="#D62828" fill-opacity=".5" stroke="#D62828" stroke-opacity=".55"/>
<circle cx="2867.1" cy="674.1" r="4.45" fill="#D62828" fill-opacity=".5" stroke="#D62828" stroke-opacity=".55"/>
</g>
<g fill="none" stroke-width="5.69" shape-rendering="crispEdges">
<path d="M2734.9 297.6 L2875.4 1053.5" stroke="#2E86AB"/>
<path d="M2339.1 461 L2345 461.7 L2351 462.3 L2357 463 L2362.9 463.7 L2368.8 464.3 L2374.7 465 L2380.6 465.8 L2386.5 466.5 L2392.3 467.2 L2398.2 468 L2404 468.7 L2409.8 469.5 L2415.6 470.3 L2421.4 471.2 L2427.2 472 L2433 472.9 L2438.7 473.8 L2444.5 474.7 L2450.2 475.6 L2455.9 476.6 L2461.6 477.6 L2467.4 478.6 L2473.1 479.7 L2478.8 480.8 L2484.4 481.9 L2490.1 483 L2495.8 484.2 L2501.5 485.4 L2507.1 486.6 L2512.8 487.9 L2518.4 489.3 L2524.1 490.6 L2529.7 492 L2535.3 493.5 L2541 494.9 L2546.6 496.5 L2552.2 498 L2557.9 499.6 L2563.5 501.3 L2569.1 503 L2574.7 504.8 L2580.3 506.6 L2586 508.4 L2591.6 510.3 L2597.2 512.3 L2602.8 514.3 L2608.4 516.3 L2614 518.4 L2619.6 520.6 L2625.1 522.8 L2630.7 525.1 L2636.2 527.5 L2641.7 529.9 L2647.1 532.3 L2652.6 534.9 L2657.9 537.5 L2663.3 540.1 L2668.6 542.8 L2673.9 545.6 L2679.1 548.5 L2684.3 551.4 L2689.4 554.4 L2694.5 557.4 L2699.5 560.6 L2704.5 563.8 L2709.4 567 L2714.2 570.4 L2719 573.8 L2723.6 577.3 L2728.3 580.9 L2732.8 584.5 L2737.3 588.2 L2741.6 592 L2745.9 595.9 L2750.1 599.9 L2754.2 604 L2758.2 608.1 L2762.1 612.3 L2765.9 616.6 L2769.7 621 L2773.3 625.5 L2776.8 630.1 L2780.1 634.7 L2783.4 639.5 L2786.6 644.3 L2789.6 649.2 L2792.5 654.2 L2795.3 659.3 L2798 664.5 L2800.5 669.8 L2802.9 675.1 L2805.2 680.5 L2807.4 685.9 L2809.5 691.4 L2811.4 697 L2813.3 702.6 L2815 708.2 L2816.5 713.9 L2818 719.7 L2819.3 725.4 L2820.5 731.2 L2821.6 737.1 L2822.6 742.9 L2823.4 748.8 L2824.1 754.7 L2824.7 760.6 L2825.1 766.5 L2825.5 772.4 L2825.7 778.3 L2825.8 784.2 L2825.7 790.1 L2825.6 796 L2825.3 801.9 L2824.9 807.7 L2824.4 813.6 L2823.8 819.5 L2823.1 825.3 L2822.3 831.1 L2821.4 837 L2820.4 842.8 L2819.3 848.5 L2818.2 854.3 L2816.9 860.1 L2815.6 865.8 L2814.2 871.5 L2812.7 877.2 L2811.1 882.8 L2809.5 888.5 L2807.8 894.1 L2806 899.7 L2804.2 905.2 L2802.3 910.8 L2800.4 916.3 L2798.3 921.8 L2796.3 927.3 L2794.2 932.8 L2792 938.3 L2789.8 943.7 L2787.5 949.1 L2785.2 954.5 L2782.8 959.9 L2780.4 965.3 L2778 970.6 L2775.5 975.9 L2773 981.3 L2770.4 986.6 L2767.9 991.8 L2765.3 997.1 L2762.6 1002.4 L2760 1007.6 L2757.3 1012.8 L2754.6 1018 L2751.9 1023.2 L2749.2 1028.4 L2746.5 1033.6 L2743.7 1038.8 L2741 1043.9 L2738.2 1049 L2735.4 1054.2" stroke="#D62828" stroke-dasharray="24 24" stroke-dashoffset="0"/>
<path d="M2849.8 1053.5 L2771 297.6" stroke="#06A77D" stroke-dasharray="5.98 17.94 23.91 17.94"/>
</g>
</g>
<rect x="2291" y="260" width="939" height="832" fill="none" stroke="#222" stroke-width="2" shape-rendering="crispEdges"/>
<g fill="#333" shape-rendering="crispEdges">
<rect x="2457" y="1093" width="3" height="9"/>
<rect x="2637" y="1093" width="3" height="9"/>
<rect x="2816" y="1093" width="3" height="9"/>
<rect x="2995" y="1093" width="3" height="9"/>
<rect x="3174" y="1093" width="3" height="9"/>
<rect x="2281" y="1091" width="9" height="3"/>
<rect x="2281" y="911" width="9" height="3"/>
<rect x="2281" y="731" width="9" height="3"/>
<rect x="2281" y="551" width="9" height="3"/>
<rect x="2281" y="371" width="9" height="3"/>
</g>
<g font-size="29.87" fill="#4D4D4D" transform="scale(1 1.045)">
<text x="2458.4" y="1084.02" text-anchor="middle">-10</text>
<text x="2637.5" y="1084.02" text-anchor="middle">-5</text>
<text x="2816.7" y="1084.02" text-anchor="middle">0</text>
<text x="2995.8" y="1084.02" text-anchor="middle">5</text>
<text x="3175" y="1084.02" text-anchor="middle">10</text>
<text x="2272.5" y="1057.13" text-anchor="end">-10</text>
<text x="2272.5" y="884.93" text-anchor="end">-5</text>
<text x="2272.5" y="712.73" text-anchor="end">0</text>
<text x="2272.5" y="540.53" text-anchor="end">5</text>
<text x="2272.5" y="368.33" text-anchor="end">10</text>
</g>
<text transform="translate(2759.3 1176.5) scale(1 1.045)" font-size="37.33" text-anchor="middle">X<tspan font-size="26.13" dy="7.2">1</tspan></text>
<text transform="translate(2207 676.5) rotate(-90) scale(1 1.045)" font-size="37.33" text-anchor="middle">X<tspan font-size="26.13" dy="7.2">2</tspan></text>
<text id="lt2" x="2491" y="1284.2" font-size="37.33" fill="#000" textLength="175.3" lengthAdjust="spacing">True Class</text>
<circle cx="2707.6" cy="1268.9" r="4.6" fill="#2E86AB" fill-opacity=".5" stroke="#2E86AB" stroke-opacity=".55"/>
<text id="l02" x="2749" y="1281" font-size="29.87" fill="#000">Class 0</text>
<circle cx="2891.6" cy="1268.9" r="4.6" fill="#D62828" fill-opacity=".5" stroke="#D62828" stroke-opacity=".55"/>
<text id="l12" x="2932" y="1281" font-size="29.87" fill="#000" textLength="97.6" lengthAdjust="spacing">Class 1</text>
</svg></body></html>
